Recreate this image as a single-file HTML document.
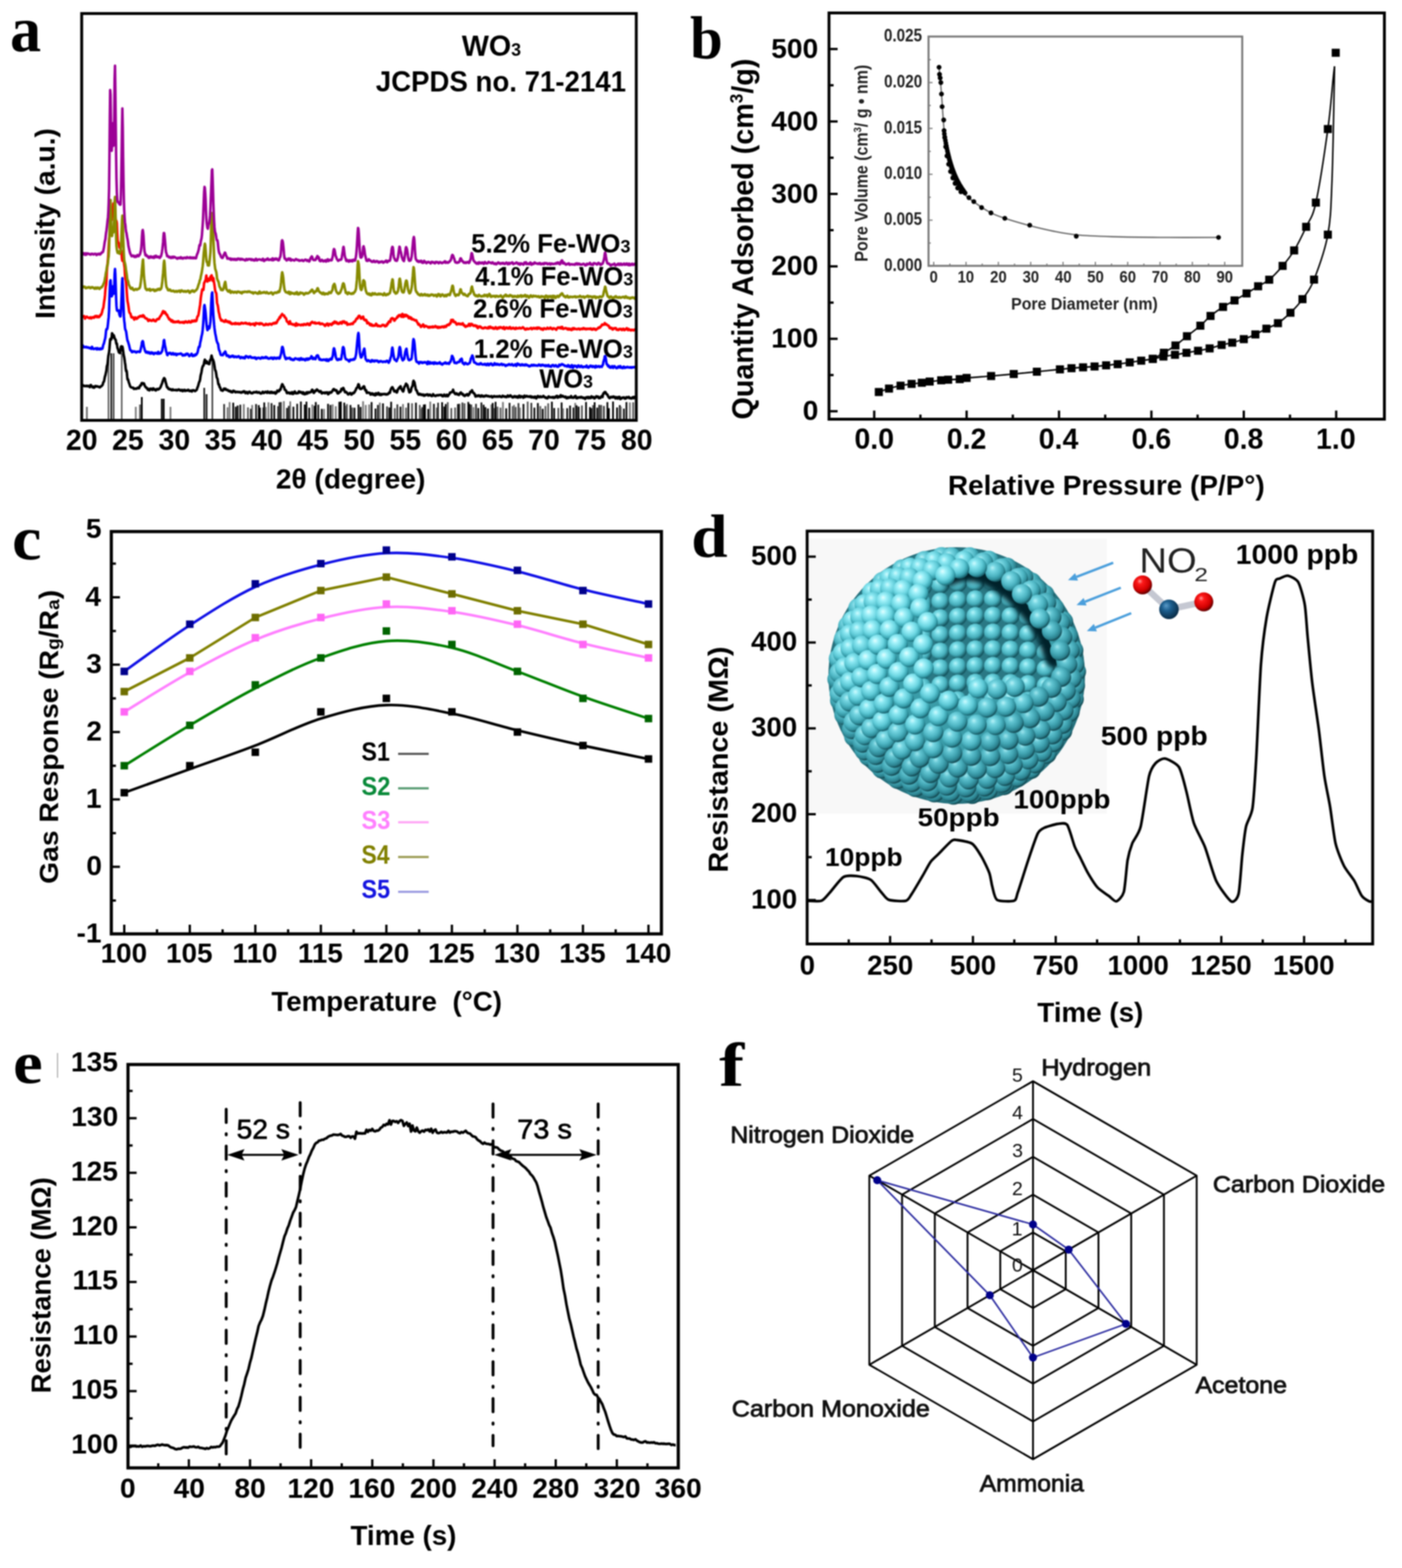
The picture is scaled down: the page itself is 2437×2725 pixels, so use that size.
<!DOCTYPE html><html><head><meta charset="utf-8"><title>Figure</title><style>html,body{margin:0;padding:0;background:#fff;overflow:hidden;}svg{display:block;filter:blur(1px);}</style></head><body><svg width="2437" height="2725" viewBox="0 0 2437 2725"><defs><radialGradient id="ball0" cx="0.4" cy="0.36" r="0.62" fx="0.36" fy="0.3"><stop offset="0" stop-color="#9fe6ee"/><stop offset="0.25" stop-color="#62c5d2"/><stop offset="0.62" stop-color="#3fa2b0"/><stop offset="0.88" stop-color="#2a7f8c"/><stop offset="1" stop-color="#164f58"/></radialGradient><radialGradient id="ball1" cx="0.4" cy="0.36" r="0.62" fx="0.36" fy="0.3"><stop offset="0" stop-color="#b8f3f8"/><stop offset="0.25" stop-color="#76d6e2"/><stop offset="0.62" stop-color="#4db5c3"/><stop offset="0.88" stop-color="#2f8d9a"/><stop offset="1" stop-color="#195a64"/></radialGradient><radialGradient id="ball2" cx="0.4" cy="0.36" r="0.62" fx="0.36" fy="0.3"><stop offset="0" stop-color="#cffcff"/><stop offset="0.25" stop-color="#8ce8f2"/><stop offset="0.62" stop-color="#5cc8d5"/><stop offset="0.88" stop-color="#3399a6"/><stop offset="1" stop-color="#1c6874"/></radialGradient><radialGradient id="ball3" cx="0.4" cy="0.36" r="0.62" fx="0.36" fy="0.3"><stop offset="0" stop-color="#e4ffff"/><stop offset="0.25" stop-color="#a2f2fa"/><stop offset="0.62" stop-color="#6ad5e1"/><stop offset="0.88" stop-color="#3aa5b2"/><stop offset="1" stop-color="#207480"/></radialGradient><radialGradient id="ballin" cx="0.4" cy="0.36" r="0.62" fx="0.36" fy="0.3"><stop offset="0" stop-color="#b6f6fb"/><stop offset="0.3" stop-color="#72d8e3"/><stop offset="0.7" stop-color="#45adba"/><stop offset="1" stop-color="#155660"/></radialGradient><radialGradient id="sph" cx="0.5" cy="0.5" r="0.5"><stop offset="0.8" stop-color="#3a9ca8"/><stop offset="1" stop-color="#25707c"/></radialGradient><filter id="blur4" x="-20%" y="-20%" width="140%" height="140%"><feGaussianBlur stdDeviation="4"/></filter><clipPath id="hole"><polygon points="1604.0,1030.0 1630.0,995.0 1672.0,984.0 1705.0,988.0 1740.0,1006.0 1772.0,1034.0 1798.0,1066.0 1818.0,1100.0 1834.0,1140.0 1842.0,1180.0 1840.0,1214.0 1604.0,1214.0"/></clipPath><clipPath id="sphclip"><circle cx="1663.0" cy="1174.0" r="226.0"/></clipPath><radialGradient id="ored" cx="0.42" cy="0.38" r="0.6" fx="0.35" fy="0.3"><stop offset="0" stop-color="#ff9a9a"/><stop offset="0.25" stop-color="#ff1a1a"/><stop offset="0.75" stop-color="#d00000"/><stop offset="1" stop-color="#6a0000"/></radialGradient><radialGradient id="nblue" cx="0.42" cy="0.38" r="0.6" fx="0.35" fy="0.3"><stop offset="0" stop-color="#5a9ac8"/><stop offset="0.4" stop-color="#1d5f8f"/><stop offset="1" stop-color="#0a2e4a"/></radialGradient></defs><rect width="2437" height="2725" fill="#fff"/><text x="17.4" y="89.0" font-family='"Liberation Serif", "Times New Roman", serif' font-weight="bold" font-size="112.0" fill="#000" textLength="54.0" lengthAdjust="spacingAndGlyphs" >a</text>
<line x1="151.0" y1="729" x2="151.0" y2="707.0" stroke="#666" stroke-width="3"/>
<line x1="188.6" y1="729" x2="188.6" y2="614.0" stroke="#555" stroke-width="2.6"/>
<line x1="193.4" y1="729" x2="193.4" y2="614.0" stroke="#000" stroke-width="2.6"/>
<line x1="197.5" y1="729" x2="197.5" y2="614.0" stroke="#333" stroke-width="2.6"/>
<line x1="211.6" y1="729" x2="211.6" y2="614.0" stroke="#555" stroke-width="2.6"/>
<line x1="236.0" y1="729" x2="236.0" y2="707.0" stroke="#777" stroke-width="3"/>
<line x1="243.3" y1="729" x2="243.3" y2="703.0" stroke="#555" stroke-width="3"/>
<line x1="246.5" y1="729" x2="246.5" y2="690.0" stroke="#000" stroke-width="3"/>
<line x1="281.2" y1="729" x2="281.2" y2="693.0" stroke="#000" stroke-width="3"/>
<line x1="284.6" y1="729" x2="284.6" y2="693.0" stroke="#000" stroke-width="3"/>
<line x1="296.3" y1="729" x2="296.3" y2="707.0" stroke="#777" stroke-width="3"/>
<line x1="355.0" y1="729" x2="355.0" y2="674.0" stroke="#000" stroke-width="2.6"/>
<line x1="359.0" y1="729" x2="359.0" y2="685.0" stroke="#111" stroke-width="3"/>
<line x1="369.1" y1="729" x2="369.1" y2="619.0" stroke="#333" stroke-width="2.6"/>
<line x1="389.6" y1="729" x2="389.6" y2="702.2" stroke="#333" stroke-width="3"/>
<line x1="395.6" y1="729" x2="395.6" y2="707.8" stroke="#777" stroke-width="3"/>
<line x1="399.1" y1="729" x2="399.1" y2="698.8" stroke="#777" stroke-width="3"/>
<line x1="405.4" y1="729" x2="405.4" y2="699.8" stroke="#000" stroke-width="3"/>
<line x1="409.8" y1="729" x2="409.8" y2="706.8" stroke="#000" stroke-width="3"/>
<line x1="413.1" y1="729" x2="413.1" y2="704.8" stroke="#000" stroke-width="3"/>
<line x1="417.7" y1="729" x2="417.7" y2="703.3" stroke="#111" stroke-width="3"/>
<line x1="423.8" y1="729" x2="423.8" y2="702.3" stroke="#777" stroke-width="3"/>
<line x1="431.0" y1="729" x2="431.0" y2="708.0" stroke="#555" stroke-width="3"/>
<line x1="436.2" y1="729" x2="436.2" y2="710.4" stroke="#000" stroke-width="3"/>
<line x1="438.3" y1="729" x2="438.3" y2="703.8" stroke="#777" stroke-width="3"/>
<line x1="445.1" y1="729" x2="445.1" y2="702.2" stroke="#111" stroke-width="3"/>
<line x1="449.8" y1="729" x2="449.8" y2="704.0" stroke="#000" stroke-width="3"/>
<line x1="451.8" y1="729" x2="451.8" y2="708.3" stroke="#000" stroke-width="3"/>
<line x1="457.4" y1="729" x2="457.4" y2="708.2" stroke="#555" stroke-width="3"/>
<line x1="459.3" y1="729" x2="459.3" y2="699.4" stroke="#000" stroke-width="3"/>
<line x1="462.0" y1="729" x2="462.0" y2="707.3" stroke="#777" stroke-width="3"/>
<line x1="466.7" y1="729" x2="466.7" y2="699.1" stroke="#777" stroke-width="3"/>
<line x1="472.0" y1="729" x2="472.0" y2="700.6" stroke="#111" stroke-width="3"/>
<line x1="476.8" y1="729" x2="476.8" y2="703.9" stroke="#000" stroke-width="3"/>
<line x1="483.4" y1="729" x2="483.4" y2="705.9" stroke="#333" stroke-width="3"/>
<line x1="485.6" y1="729" x2="485.6" y2="699.1" stroke="#333" stroke-width="3"/>
<line x1="488.3" y1="729" x2="488.3" y2="698.7" stroke="#333" stroke-width="3"/>
<line x1="493.4" y1="729" x2="493.4" y2="697.2" stroke="#777" stroke-width="3"/>
<line x1="498.9" y1="729" x2="498.9" y2="708.9" stroke="#111" stroke-width="3"/>
<line x1="502.1" y1="729" x2="502.1" y2="705.4" stroke="#111" stroke-width="3"/>
<line x1="504.5" y1="729" x2="504.5" y2="697.5" stroke="#777" stroke-width="3"/>
<line x1="510.0" y1="729" x2="510.0" y2="706.8" stroke="#000" stroke-width="3"/>
<line x1="516.6" y1="729" x2="516.6" y2="701.7" stroke="#111" stroke-width="3"/>
<line x1="523.0" y1="729" x2="523.0" y2="697.8" stroke="#000" stroke-width="3"/>
<line x1="529.7" y1="729" x2="529.7" y2="703.0" stroke="#000" stroke-width="3"/>
<line x1="532.7" y1="729" x2="532.7" y2="698.0" stroke="#000" stroke-width="3"/>
<line x1="537.5" y1="729" x2="537.5" y2="708.5" stroke="#000" stroke-width="3"/>
<line x1="542.9" y1="729" x2="542.9" y2="703.0" stroke="#777" stroke-width="3"/>
<line x1="546.8" y1="729" x2="546.8" y2="705.2" stroke="#000" stroke-width="3"/>
<line x1="548.9" y1="729" x2="548.9" y2="698.7" stroke="#000" stroke-width="3"/>
<line x1="553.3" y1="729" x2="553.3" y2="703.3" stroke="#111" stroke-width="3"/>
<line x1="559.3" y1="729" x2="559.3" y2="710.6" stroke="#000" stroke-width="3"/>
<line x1="563.2" y1="729" x2="563.2" y2="710.6" stroke="#777" stroke-width="3"/>
<line x1="570.2" y1="729" x2="570.2" y2="701.8" stroke="#000" stroke-width="3"/>
<line x1="574.4" y1="729" x2="574.4" y2="703.7" stroke="#111" stroke-width="3"/>
<line x1="578.2" y1="729" x2="578.2" y2="702.7" stroke="#777" stroke-width="3"/>
<line x1="583.7" y1="729" x2="583.7" y2="706.0" stroke="#777" stroke-width="3"/>
<line x1="589.7" y1="729" x2="589.7" y2="698.3" stroke="#111" stroke-width="3"/>
<line x1="592.5" y1="729" x2="592.5" y2="697.9" stroke="#000" stroke-width="3"/>
<line x1="598.4" y1="729" x2="598.4" y2="699.7" stroke="#000" stroke-width="3"/>
<line x1="601.0" y1="729" x2="601.0" y2="705.1" stroke="#555" stroke-width="3"/>
<line x1="603.0" y1="729" x2="603.0" y2="702.2" stroke="#555" stroke-width="3"/>
<line x1="609.2" y1="729" x2="609.2" y2="703.8" stroke="#000" stroke-width="3"/>
<line x1="612.3" y1="729" x2="612.3" y2="708.2" stroke="#555" stroke-width="3"/>
<line x1="616.2" y1="729" x2="616.2" y2="708.5" stroke="#000" stroke-width="3"/>
<line x1="623.1" y1="729" x2="623.1" y2="703.0" stroke="#000" stroke-width="3"/>
<line x1="626.8" y1="729" x2="626.8" y2="707.2" stroke="#000" stroke-width="3"/>
<line x1="631.1" y1="729" x2="631.1" y2="697.3" stroke="#777" stroke-width="3"/>
<line x1="635.8" y1="729" x2="635.8" y2="703.7" stroke="#777" stroke-width="3"/>
<line x1="641.7" y1="729" x2="641.7" y2="702.9" stroke="#777" stroke-width="3"/>
<line x1="645.9" y1="729" x2="645.9" y2="698.7" stroke="#000" stroke-width="3"/>
<line x1="652.7" y1="729" x2="652.7" y2="710.0" stroke="#000" stroke-width="3"/>
<line x1="656.9" y1="729" x2="656.9" y2="703.7" stroke="#111" stroke-width="3"/>
<line x1="660.2" y1="729" x2="660.2" y2="699.7" stroke="#777" stroke-width="3"/>
<line x1="665.7" y1="729" x2="665.7" y2="701.0" stroke="#000" stroke-width="3"/>
<line x1="672.8" y1="729" x2="672.8" y2="706.3" stroke="#333" stroke-width="3"/>
<line x1="676.8" y1="729" x2="676.8" y2="708.2" stroke="#000" stroke-width="3"/>
<line x1="679.9" y1="729" x2="679.9" y2="698.2" stroke="#000" stroke-width="3"/>
<line x1="686.2" y1="729" x2="686.2" y2="709.4" stroke="#555" stroke-width="3"/>
<line x1="690.7" y1="729" x2="690.7" y2="702.7" stroke="#333" stroke-width="3"/>
<line x1="696.1" y1="729" x2="696.1" y2="706.7" stroke="#000" stroke-width="3"/>
<line x1="700.5" y1="729" x2="700.5" y2="702.2" stroke="#777" stroke-width="3"/>
<line x1="705.8" y1="729" x2="705.8" y2="708.4" stroke="#555" stroke-width="3"/>
<line x1="709.9" y1="729" x2="709.9" y2="700.3" stroke="#000" stroke-width="3"/>
<line x1="716.2" y1="729" x2="716.2" y2="700.8" stroke="#555" stroke-width="3"/>
<line x1="723.0" y1="729" x2="723.0" y2="699.8" stroke="#000" stroke-width="3"/>
<line x1="729.6" y1="729" x2="729.6" y2="703.7" stroke="#555" stroke-width="3"/>
<line x1="731.7" y1="729" x2="731.7" y2="710.6" stroke="#777" stroke-width="3"/>
<line x1="733.8" y1="729" x2="733.8" y2="707.5" stroke="#333" stroke-width="3"/>
<line x1="736.7" y1="729" x2="736.7" y2="703.1" stroke="#000" stroke-width="3"/>
<line x1="738.8" y1="729" x2="738.8" y2="702.7" stroke="#000" stroke-width="3"/>
<line x1="744.4" y1="729" x2="744.4" y2="710.7" stroke="#000" stroke-width="3"/>
<line x1="747.9" y1="729" x2="747.9" y2="697.9" stroke="#777" stroke-width="3"/>
<line x1="754.2" y1="729" x2="754.2" y2="701.8" stroke="#111" stroke-width="3"/>
<line x1="759.3" y1="729" x2="759.3" y2="708.3" stroke="#555" stroke-width="3"/>
<line x1="761.5" y1="729" x2="761.5" y2="699.8" stroke="#333" stroke-width="3"/>
<line x1="768.5" y1="729" x2="768.5" y2="699.0" stroke="#000" stroke-width="3"/>
<line x1="772.2" y1="729" x2="772.2" y2="706.5" stroke="#000" stroke-width="3"/>
<line x1="774.8" y1="729" x2="774.8" y2="702.2" stroke="#000" stroke-width="3"/>
<line x1="778.3" y1="729" x2="778.3" y2="698.9" stroke="#555" stroke-width="3"/>
<line x1="784.5" y1="729" x2="784.5" y2="709.2" stroke="#555" stroke-width="3"/>
<line x1="791.1" y1="729" x2="791.1" y2="708.2" stroke="#555" stroke-width="3"/>
<line x1="796.1" y1="729" x2="796.1" y2="702.1" stroke="#000" stroke-width="3"/>
<line x1="798.5" y1="729" x2="798.5" y2="701.7" stroke="#333" stroke-width="3"/>
<line x1="803.8" y1="729" x2="803.8" y2="699.5" stroke="#333" stroke-width="3"/>
<line x1="807.5" y1="729" x2="807.5" y2="700.9" stroke="#555" stroke-width="3"/>
<line x1="814.0" y1="729" x2="814.0" y2="698.5" stroke="#000" stroke-width="3"/>
<line x1="816.1" y1="729" x2="816.1" y2="701.9" stroke="#000" stroke-width="3"/>
<line x1="819.1" y1="729" x2="819.1" y2="703.1" stroke="#333" stroke-width="3"/>
<line x1="823.1" y1="729" x2="823.1" y2="707.5" stroke="#777" stroke-width="3"/>
<line x1="827.4" y1="729" x2="827.4" y2="701.8" stroke="#333" stroke-width="3"/>
<line x1="831.4" y1="729" x2="831.4" y2="709.1" stroke="#000" stroke-width="3"/>
<line x1="836.8" y1="729" x2="836.8" y2="699.4" stroke="#111" stroke-width="3"/>
<line x1="840.7" y1="729" x2="840.7" y2="703.4" stroke="#000" stroke-width="3"/>
<line x1="843.8" y1="729" x2="843.8" y2="707.5" stroke="#000" stroke-width="3"/>
<line x1="848.1" y1="729" x2="848.1" y2="709.9" stroke="#000" stroke-width="3"/>
<line x1="854.1" y1="729" x2="854.1" y2="702.9" stroke="#777" stroke-width="3"/>
<line x1="856.4" y1="729" x2="856.4" y2="700.3" stroke="#000" stroke-width="3"/>
<line x1="859.0" y1="729" x2="859.0" y2="709.1" stroke="#555" stroke-width="3"/>
<line x1="861.4" y1="729" x2="861.4" y2="698.3" stroke="#000" stroke-width="3"/>
<line x1="864.8" y1="729" x2="864.8" y2="706.7" stroke="#555" stroke-width="3"/>
<line x1="870.0" y1="729" x2="870.0" y2="708.4" stroke="#555" stroke-width="3"/>
<line x1="874.2" y1="729" x2="874.2" y2="698.6" stroke="#777" stroke-width="3"/>
<line x1="879.9" y1="729" x2="879.9" y2="709.6" stroke="#000" stroke-width="3"/>
<line x1="885.7" y1="729" x2="885.7" y2="700.1" stroke="#111" stroke-width="3"/>
<line x1="891.2" y1="729" x2="891.2" y2="705.8" stroke="#555" stroke-width="3"/>
<line x1="893.5" y1="729" x2="893.5" y2="703.7" stroke="#777" stroke-width="3"/>
<line x1="896.4" y1="729" x2="896.4" y2="707.3" stroke="#555" stroke-width="3"/>
<line x1="901.2" y1="729" x2="901.2" y2="700.5" stroke="#333" stroke-width="3"/>
<line x1="903.8" y1="729" x2="903.8" y2="708.4" stroke="#777" stroke-width="3"/>
<line x1="909.9" y1="729" x2="909.9" y2="702.0" stroke="#000" stroke-width="3"/>
<line x1="917.2" y1="729" x2="917.2" y2="697.9" stroke="#555" stroke-width="3"/>
<line x1="923.6" y1="729" x2="923.6" y2="700.1" stroke="#333" stroke-width="3"/>
<line x1="928.9" y1="729" x2="928.9" y2="708.4" stroke="#000" stroke-width="3"/>
<line x1="934.9" y1="729" x2="934.9" y2="700.4" stroke="#000" stroke-width="3"/>
<line x1="939.1" y1="729" x2="939.1" y2="705.7" stroke="#555" stroke-width="3"/>
<line x1="943.3" y1="729" x2="943.3" y2="710.5" stroke="#000" stroke-width="3"/>
<line x1="948.1" y1="729" x2="948.1" y2="705.6" stroke="#555" stroke-width="3"/>
<line x1="952.9" y1="729" x2="952.9" y2="700.9" stroke="#555" stroke-width="3"/>
<line x1="959.3" y1="729" x2="959.3" y2="698.1" stroke="#000" stroke-width="3"/>
<line x1="963.3" y1="729" x2="963.3" y2="709.1" stroke="#000" stroke-width="3"/>
<line x1="970.5" y1="729" x2="970.5" y2="708.9" stroke="#555" stroke-width="3"/>
<line x1="976.2" y1="729" x2="976.2" y2="699.4" stroke="#000" stroke-width="3"/>
<line x1="978.8" y1="729" x2="978.8" y2="709.7" stroke="#777" stroke-width="3"/>
<line x1="985.9" y1="729" x2="985.9" y2="709.4" stroke="#000" stroke-width="3"/>
<line x1="990.9" y1="729" x2="990.9" y2="704.8" stroke="#000" stroke-width="3"/>
<line x1="996.8" y1="729" x2="996.8" y2="708.3" stroke="#111" stroke-width="3"/>
<line x1="999.9" y1="729" x2="999.9" y2="700.2" stroke="#777" stroke-width="3"/>
<line x1="1002.2" y1="729" x2="1002.2" y2="704.4" stroke="#000" stroke-width="3"/>
<line x1="1005.8" y1="729" x2="1005.8" y2="706.6" stroke="#000" stroke-width="3"/>
<line x1="1011.5" y1="729" x2="1011.5" y2="704.6" stroke="#555" stroke-width="3"/>
<line x1="1018.7" y1="729" x2="1018.7" y2="698.6" stroke="#000" stroke-width="3"/>
<line x1="1025.5" y1="729" x2="1025.5" y2="707.5" stroke="#000" stroke-width="3"/>
<line x1="1028.7" y1="729" x2="1028.7" y2="709.3" stroke="#000" stroke-width="3"/>
<line x1="1030.8" y1="729" x2="1030.8" y2="704.0" stroke="#555" stroke-width="3"/>
<line x1="1033.6" y1="729" x2="1033.6" y2="699.0" stroke="#000" stroke-width="3"/>
<line x1="1038.1" y1="729" x2="1038.1" y2="708.4" stroke="#000" stroke-width="3"/>
<line x1="1041.5" y1="729" x2="1041.5" y2="703.6" stroke="#333" stroke-width="3"/>
<line x1="1044.9" y1="729" x2="1044.9" y2="703.8" stroke="#333" stroke-width="3"/>
<line x1="1049.7" y1="729" x2="1049.7" y2="705.5" stroke="#333" stroke-width="3"/>
<line x1="1055.8" y1="729" x2="1055.8" y2="698.8" stroke="#000" stroke-width="3"/>
<line x1="1058.4" y1="729" x2="1058.4" y2="709.4" stroke="#000" stroke-width="3"/>
<line x1="1065.6" y1="729" x2="1065.6" y2="697.8" stroke="#000" stroke-width="3"/>
<line x1="1072.6" y1="729" x2="1072.6" y2="708.1" stroke="#000" stroke-width="3"/>
<line x1="1077.3" y1="729" x2="1077.3" y2="704.0" stroke="#111" stroke-width="3"/>
<line x1="1079.4" y1="729" x2="1079.4" y2="706.6" stroke="#777" stroke-width="3"/>
<line x1="1084.5" y1="729" x2="1084.5" y2="710.1" stroke="#111" stroke-width="3"/>
<line x1="1088.9" y1="729" x2="1088.9" y2="698.7" stroke="#000" stroke-width="3"/>
<line x1="1094.9" y1="729" x2="1094.9" y2="699.4" stroke="#777" stroke-width="3"/>
<line x1="1100.6" y1="729" x2="1100.6" y2="699.1" stroke="#555" stroke-width="3"/>
<path d="M142.0,669.4 L142.6,670.3 L143.3,669.8 L143.9,669.4 L144.6,670.4 L145.2,670.6 L145.9,670.3 L146.5,670.8 L147.1,671.1 L147.8,671.0 L148.4,671.0 L149.1,670.9 L149.7,670.4 L150.4,670.4 L151.0,670.8 L151.6,671.4 L152.3,671.3 L152.9,670.7 L153.6,670.5 L154.2,670.9 L154.9,671.2 L155.5,671.8 L156.1,672.8 L156.8,671.8 L157.4,669.2 L158.1,669.2 L158.7,670.7 L159.4,671.5 L160.0,671.9 L160.6,672.9 L161.3,673.2 L161.9,671.8 L162.6,672.1 L163.2,673.7 L163.9,673.6 L164.5,672.7 L165.1,671.4 L165.8,670.8 L166.4,671.7 L167.1,671.9 L167.7,671.1 L168.4,671.3 L169.0,671.6 L169.6,671.5 L170.3,671.9 L170.9,672.4 L171.6,672.2 L172.2,672.2 L172.9,672.9 L173.5,673.2 L174.1,672.3 L174.8,671.6 L175.4,671.7 L176.1,671.4 L176.7,670.7 L177.4,669.8 L178.0,669.4 L178.7,667.8 L179.3,665.3 L179.9,664.1 L180.6,663.1 L181.2,660.7 L181.9,656.8 L182.5,653.9 L183.2,652.1 L183.8,649.3 L184.4,646.8 L185.1,642.6 L185.7,636.7 L186.4,634.4 L187.0,632.1 L187.7,624.8 L188.3,618.6 L188.9,615.7 L189.6,611.9 L190.2,606.2 L190.9,597.5 L191.5,590.3 L192.2,588.8 L192.8,589.3 L193.4,589.9 L194.1,586.0 L194.7,579.2 L195.4,580.1 L196.0,586.2 L196.7,586.3 L197.3,582.5 L197.9,583.0 L198.6,585.6 L199.2,587.7 L199.9,589.4 L200.5,589.9 L201.2,590.8 L201.8,595.3 L202.4,597.8 L203.1,597.0 L203.7,601.6 L204.4,605.5 L205.0,606.3 L205.7,609.0 L206.3,611.3 L206.9,612.8 L207.6,612.8 L208.2,613.4 L208.9,613.6 L209.5,609.1 L210.2,602.4 L210.8,601.9 L211.4,606.1 L212.1,604.4 L212.7,602.3 L213.4,605.2 L214.0,609.7 L214.7,614.6 L215.3,618.2 L215.9,621.0 L216.6,625.3 L217.2,630.0 L217.9,634.3 L218.5,640.9 L219.2,645.0 L219.8,643.9 L220.4,646.3 L221.1,654.5 L221.7,659.6 L222.4,659.1 L223.0,660.5 L223.7,663.9 L224.3,665.6 L224.9,667.2 L225.6,669.4 L226.2,671.2 L226.9,672.1 L227.5,672.9 L228.2,673.2 L228.8,673.2 L229.4,673.5 L230.1,673.8 L230.7,674.1 L231.4,673.7 L232.0,674.4 L232.7,675.9 L233.3,675.7 L233.9,675.4 L234.6,675.5 L235.2,675.1 L235.9,675.2 L236.5,675.7 L237.2,675.2 L237.8,674.8 L238.4,675.2 L239.1,674.6 L239.7,673.6 L240.4,673.5 L241.0,674.5 L241.7,674.8 L242.3,673.3 L243.0,671.5 L243.6,670.0 L244.2,670.1 L244.9,670.1 L245.5,667.9 L246.2,666.0 L246.8,665.7 L247.5,665.8 L248.1,666.5 L248.7,667.2 L249.4,666.5 L250.0,666.2 L250.7,667.7 L251.3,669.5 L252.0,671.0 L252.6,672.3 L253.2,672.6 L253.9,673.0 L254.5,674.4 L255.2,674.5 L255.8,674.5 L256.5,676.3 L257.1,677.4 L257.7,677.0 L258.4,676.1 L259.0,676.7 L259.7,678.5 L260.3,677.7 L261.0,675.6 L261.6,675.4 L262.2,675.7 L262.9,675.4 L263.5,675.9 L264.2,676.8 L264.8,677.7 L265.5,676.8 L266.1,675.0 L266.7,675.0 L267.4,675.9 L268.0,677.0 L268.7,677.5 L269.3,676.8 L270.0,676.8 L270.6,678.5 L271.2,678.5 L271.9,676.8 L272.5,676.2 L273.2,676.2 L273.8,675.8 L274.5,676.2 L275.1,676.9 L275.7,676.1 L276.4,675.6 L277.0,675.7 L277.7,674.8 L278.3,673.9 L279.0,673.1 L279.6,671.7 L280.2,669.8 L280.9,668.3 L281.5,666.7 L282.2,664.6 L282.8,662.4 L283.5,660.7 L284.1,659.3 L284.7,657.8 L285.4,657.1 L286.0,657.6 L286.7,658.8 L287.3,661.4 L288.0,664.5 L288.6,666.3 L289.2,668.6 L289.9,671.7 L290.5,673.3 L291.2,673.2 L291.8,673.4 L292.5,675.4 L293.1,676.1 L293.7,675.9 L294.4,676.6 L295.0,676.4 L295.7,676.1 L296.3,676.9 L297.0,677.4 L297.6,677.0 L298.2,677.1 L298.9,678.2 L299.5,677.3 L300.2,676.6 L300.8,677.6 L301.5,678.0 L302.1,677.9 L302.7,677.8 L303.4,677.9 L304.0,677.9 L304.7,677.8 L305.3,678.2 L306.0,677.7 L306.6,677.4 L307.3,678.1 L307.9,678.5 L308.5,677.9 L309.2,677.8 L309.8,677.8 L310.5,676.8 L311.1,676.9 L311.8,677.5 L312.4,677.4 L313.0,677.9 L313.7,678.8 L314.3,678.8 L315.0,677.9 L315.6,677.8 L316.3,677.6 L316.9,678.0 L317.5,679.7 L318.2,679.0 L318.8,678.1 L319.5,679.0 L320.1,678.3 L320.8,677.5 L321.4,678.8 L322.0,679.4 L322.7,678.6 L323.3,678.5 L324.0,678.7 L324.6,678.4 L325.3,678.9 L325.9,678.9 L326.5,677.9 L327.2,677.4 L327.8,677.8 L328.5,678.5 L329.1,679.4 L329.8,679.7 L330.4,679.6 L331.0,679.4 L331.7,678.9 L332.3,678.7 L333.0,679.8 L333.6,680.4 L334.3,679.2 L334.9,678.3 L335.5,678.4 L336.2,678.3 L336.8,678.3 L337.5,678.6 L338.1,679.2 L338.8,679.7 L339.4,679.2 L340.0,678.9 L340.7,678.6 L341.3,678.0 L342.0,677.3 L342.6,675.3 L343.3,673.2 L343.9,672.1 L344.5,670.2 L345.2,667.7 L345.8,665.3 L346.5,663.4 L347.1,662.6 L347.8,659.6 L348.4,654.9 L349.0,651.5 L349.7,649.2 L350.3,646.1 L351.0,641.9 L351.6,638.9 L352.3,637.0 L352.9,635.5 L353.5,635.5 L354.2,633.9 L354.8,630.3 L355.5,626.9 L356.1,625.0 L356.8,626.7 L357.4,628.6 L358.0,631.1 L358.7,631.1 L359.3,628.0 L360.0,628.9 L360.6,631.2 L361.3,631.7 L361.9,630.6 L362.5,630.7 L363.2,632.7 L363.8,632.7 L364.5,629.7 L365.1,625.9 L365.8,625.0 L366.4,625.5 L367.0,621.4 L367.7,618.0 L368.3,620.8 L369.0,623.5 L369.6,624.0 L370.3,625.2 L370.9,627.0 L371.6,628.9 L372.2,632.3 L372.8,636.1 L373.5,640.6 L374.1,643.6 L374.8,644.3 L375.4,646.9 L376.1,651.3 L376.7,655.5 L377.3,656.9 L378.0,657.9 L378.6,661.7 L379.3,666.4 L379.9,668.3 L380.6,667.9 L381.2,670.2 L381.8,673.1 L382.5,673.1 L383.1,674.2 L383.8,677.0 L384.4,678.1 L385.1,677.9 L385.7,678.2 L386.3,678.9 L387.0,679.1 L387.6,678.5 L388.3,677.5 L388.9,676.1 L389.6,675.4 L390.2,676.0 L390.8,676.7 L391.5,676.1 L392.1,675.6 L392.8,676.8 L393.4,677.7 L394.1,677.5 L394.7,677.6 L395.3,677.6 L396.0,677.6 L396.6,679.0 L397.3,679.6 L397.9,679.7 L398.6,679.8 L399.2,679.3 L399.8,679.2 L400.5,680.6 L401.1,681.2 L401.8,680.3 L402.4,680.8 L403.1,681.7 L403.7,681.8 L404.3,681.4 L405.0,679.6 L405.6,679.0 L406.3,680.1 L406.9,680.1 L407.6,679.7 L408.2,680.3 L408.8,681.6 L409.5,681.7 L410.1,681.1 L410.8,681.4 L411.4,681.4 L412.1,681.0 L412.7,680.9 L413.3,681.1 L414.0,681.6 L414.6,681.4 L415.3,681.3 L415.9,681.5 L416.6,681.2 L417.2,681.3 L417.8,682.1 L418.5,682.3 L419.1,682.0 L419.8,682.4 L420.4,681.9 L421.1,680.9 L421.7,680.9 L422.3,681.5 L423.0,681.1 L423.6,680.1 L424.3,679.9 L424.9,680.2 L425.6,681.0 L426.2,682.5 L426.8,683.2 L427.5,682.7 L428.1,681.9 L428.8,681.3 L429.4,681.7 L430.1,683.0 L430.7,683.8 L431.3,682.9 L432.0,681.7 L432.6,681.3 L433.3,680.9 L433.9,680.7 L434.6,681.2 L435.2,682.3 L435.9,683.1 L436.5,682.8 L437.1,683.3 L437.8,683.5 L438.4,683.0 L439.1,683.2 L439.7,682.7 L440.4,681.7 L441.0,681.8 L441.6,681.7 L442.3,681.5 L442.9,681.6 L443.6,682.0 L444.2,681.8 L444.9,681.3 L445.5,680.9 L446.1,680.8 L446.8,681.7 L447.4,682.5 L448.1,682.3 L448.7,682.4 L449.4,682.2 L450.0,681.5 L450.6,681.7 L451.3,682.6 L451.9,683.0 L452.6,683.6 L453.2,684.0 L453.9,683.2 L454.5,683.2 L455.1,683.3 L455.8,682.1 L456.4,680.9 L457.1,680.9 L457.7,682.1 L458.4,683.0 L459.0,682.7 L459.6,682.2 L460.3,682.1 L460.9,681.6 L461.6,680.8 L462.2,681.5 L462.9,681.7 L463.5,681.9 L464.1,682.7 L464.8,681.5 L465.4,680.4 L466.1,681.3 L466.7,682.2 L467.4,682.2 L468.0,682.6 L468.6,683.0 L469.3,682.1 L469.9,681.1 L470.6,681.9 L471.2,682.7 L471.9,681.5 L472.5,681.0 L473.1,682.0 L473.8,682.8 L474.4,682.9 L475.1,682.4 L475.7,682.0 L476.4,682.7 L477.0,682.3 L477.6,681.7 L478.3,683.5 L478.9,684.1 L479.6,682.3 L480.2,682.2 L480.9,682.4 L481.5,680.3 L482.1,678.9 L482.8,679.3 L483.4,679.8 L484.1,680.0 L484.7,680.2 L485.4,678.9 L486.0,677.2 L486.6,677.4 L487.3,677.6 L487.9,675.9 L488.6,673.2 L489.2,671.0 L489.9,669.2 L490.5,667.7 L491.1,668.1 L491.8,669.6 L492.4,671.4 L493.1,672.1 L493.7,672.6 L494.4,675.3 L495.0,677.4 L495.6,677.4 L496.3,677.9 L496.9,678.6 L497.6,679.6 L498.2,681.9 L498.9,683.3 L499.5,683.1 L500.2,682.5 L500.8,682.4 L501.4,682.2 L502.1,682.3 L502.7,683.3 L503.4,684.0 L504.0,683.5 L504.7,682.6 L505.3,682.5 L505.9,683.3 L506.6,684.1 L507.2,682.9 L507.9,681.6 L508.5,683.1 L509.2,684.7 L509.8,684.5 L510.4,683.9 L511.1,682.6 L511.7,680.8 L512.4,680.4 L513.0,681.3 L513.7,682.6 L514.3,683.5 L514.9,683.6 L515.6,683.4 L516.2,683.6 L516.9,683.0 L517.5,682.8 L518.2,683.2 L518.8,681.7 L519.4,680.3 L520.1,681.4 L520.7,681.7 L521.4,680.8 L522.0,681.6 L522.7,682.3 L523.3,681.5 L523.9,681.4 L524.6,682.1 L525.2,683.1 L525.9,684.1 L526.5,683.4 L527.2,681.9 L527.8,682.3 L528.4,684.2 L529.1,685.1 L529.7,684.4 L530.4,684.3 L531.0,684.8 L531.7,683.8 L532.3,682.4 L532.9,681.8 L533.6,683.0 L534.2,684.0 L534.9,682.7 L535.5,681.7 L536.2,681.5 L536.8,682.1 L537.4,682.5 L538.1,681.9 L538.7,681.7 L539.4,681.4 L540.0,681.1 L540.7,681.2 L541.3,680.0 L541.9,678.2 L542.6,677.3 L543.2,677.7 L543.9,678.8 L544.5,680.4 L545.2,682.7 L545.8,682.7 L546.4,680.7 L547.1,680.6 L547.7,680.6 L548.4,678.7 L549.0,678.5 L549.7,679.0 L550.3,677.6 L550.9,676.8 L551.6,677.4 L552.2,678.2 L552.9,678.6 L553.5,679.2 L554.2,679.9 L554.8,680.7 L555.4,681.3 L556.1,680.6 L556.7,679.7 L557.4,679.7 L558.0,680.5 L558.7,682.3 L559.3,683.8 L559.9,683.6 L560.6,682.6 L561.2,682.3 L561.9,682.6 L562.5,682.9 L563.2,682.5 L563.8,682.2 L564.5,683.2 L565.1,683.5 L565.7,682.4 L566.4,681.9 L567.0,682.1 L567.7,682.8 L568.3,682.5 L569.0,681.9 L569.6,683.7 L570.2,685.2 L570.9,684.9 L571.5,684.5 L572.2,683.1 L572.8,681.9 L573.5,682.6 L574.1,682.3 L574.7,681.6 L575.4,682.4 L576.0,682.0 L576.7,680.9 L577.3,680.2 L578.0,679.0 L578.6,678.0 L579.2,677.0 L579.9,676.2 L580.5,676.2 L581.2,677.3 L581.8,678.3 L582.5,678.4 L583.1,677.9 L583.7,678.7 L584.4,679.4 L585.0,678.4 L585.7,680.0 L586.3,682.7 L587.0,683.7 L587.6,683.7 L588.2,683.4 L588.9,683.1 L589.5,682.1 L590.2,680.8 L590.8,680.5 L591.5,680.8 L592.1,680.7 L592.7,678.7 L593.4,675.9 L594.0,675.7 L594.7,677.1 L595.3,677.2 L596.0,676.0 L596.6,674.2 L597.2,674.8 L597.9,677.2 L598.5,678.3 L599.2,680.2 L599.8,681.7 L600.5,681.0 L601.1,680.9 L601.7,681.3 L602.4,681.7 L603.0,682.7 L603.7,683.6 L604.3,684.4 L605.0,685.4 L605.6,685.5 L606.2,684.8 L606.9,684.4 L607.5,683.5 L608.2,682.9 L608.8,682.9 L609.5,683.5 L610.1,684.8 L610.7,685.7 L611.4,685.4 L612.0,684.6 L612.7,683.9 L613.3,683.0 L614.0,682.6 L614.6,683.4 L615.2,683.0 L615.9,682.0 L616.5,681.2 L617.2,679.7 L617.8,678.7 L618.5,677.6 L619.1,675.6 L619.7,674.3 L620.4,674.1 L621.0,673.5 L621.7,672.1 L622.3,669.6 L623.0,667.8 L623.6,668.2 L624.2,669.9 L624.9,673.1 L625.5,675.6 L626.2,675.8 L626.8,675.4 L627.5,676.0 L628.1,675.9 L628.8,674.9 L629.4,675.0 L630.0,674.6 L630.7,672.9 L631.3,672.2 L632.0,671.9 L632.6,671.3 L633.3,672.3 L633.9,674.9 L634.5,677.2 L635.2,678.5 L635.8,677.7 L636.5,678.4 L637.1,681.6 L637.8,682.9 L638.4,681.9 L639.0,681.8 L639.7,682.4 L640.3,682.5 L641.0,682.5 L641.6,682.5 L642.3,682.7 L642.9,682.8 L643.5,684.3 L644.2,685.8 L644.8,685.5 L645.5,685.2 L646.1,684.4 L646.8,683.5 L647.4,683.9 L648.0,685.3 L648.7,686.1 L649.3,685.9 L650.0,684.8 L650.6,684.6 L651.3,685.7 L651.9,687.0 L652.5,686.9 L653.2,685.0 L653.8,683.5 L654.5,684.0 L655.1,685.6 L655.8,685.5 L656.4,684.8 L657.0,684.0 L657.7,682.7 L658.3,683.4 L659.0,685.5 L659.6,686.1 L660.3,685.2 L660.9,684.9 L661.5,686.1 L662.2,686.5 L662.8,685.1 L663.5,684.7 L664.1,685.2 L664.8,685.5 L665.4,685.4 L666.0,684.9 L666.7,684.6 L667.3,684.7 L668.0,684.7 L668.6,684.9 L669.3,685.4 L669.9,685.4 L670.5,684.8 L671.2,685.0 L671.8,685.7 L672.5,685.1 L673.1,684.9 L673.8,685.3 L674.4,685.0 L675.0,684.3 L675.7,683.3 L676.3,682.2 L677.0,682.6 L677.6,682.8 L678.3,680.4 L678.9,677.6 L679.5,676.3 L680.2,674.9 L680.8,673.9 L681.5,673.1 L682.1,672.9 L682.8,674.4 L683.4,675.5 L684.0,676.7 L684.7,678.5 L685.3,680.3 L686.0,680.4 L686.6,679.5 L687.3,679.4 L687.9,679.3 L688.5,680.3 L689.2,681.9 L689.8,682.1 L690.5,680.8 L691.1,678.4 L691.8,676.6 L692.4,675.7 L693.1,675.4 L693.7,673.9 L694.3,673.2 L695.0,674.3 L695.6,672.4 L696.3,671.3 L696.9,673.6 L697.6,675.7 L698.2,676.4 L698.8,677.4 L699.5,679.0 L700.1,679.8 L700.8,680.5 L701.4,679.2 L702.1,675.6 L702.7,673.0 L703.3,671.9 L704.0,671.2 L704.6,670.0 L705.3,668.0 L705.9,666.7 L706.6,668.2 L707.2,669.3 L707.8,668.8 L708.5,670.8 L709.1,673.8 L709.8,675.5 L710.4,677.9 L711.1,680.8 L711.7,681.9 L712.3,680.8 L713.0,680.4 L713.6,680.9 L714.3,679.0 L714.9,675.6 L715.6,673.1 L716.2,672.2 L716.8,671.6 L717.5,668.6 L718.1,663.9 L718.8,661.7 L719.4,663.0 L720.1,663.7 L720.7,665.6 L721.3,669.3 L722.0,672.3 L722.6,676.0 L723.3,678.0 L723.9,678.1 L724.6,679.4 L725.2,680.9 L725.8,683.0 L726.5,684.2 L727.1,684.6 L727.8,685.8 L728.4,685.3 L729.1,684.4 L729.7,685.4 L730.3,685.8 L731.0,685.1 L731.6,684.9 L732.3,685.5 L732.9,686.6 L733.6,686.6 L734.2,686.4 L734.8,686.5 L735.5,685.6 L736.1,686.3 L736.8,687.7 L737.4,687.6 L738.1,687.6 L738.7,687.0 L739.3,686.0 L740.0,686.2 L740.6,686.5 L741.3,686.1 L741.9,685.6 L742.6,685.3 L743.2,685.4 L743.8,686.4 L744.5,687.4 L745.1,686.9 L745.8,686.1 L746.4,686.8 L747.1,686.6 L747.7,685.8 L748.3,686.8 L749.0,687.8 L749.6,687.9 L750.3,688.1 L750.9,688.3 L751.6,688.0 L752.2,686.5 L752.8,685.1 L753.5,685.8 L754.1,686.8 L754.8,687.1 L755.4,687.7 L756.1,688.0 L756.7,688.1 L757.4,688.2 L758.0,687.4 L758.6,687.3 L759.3,686.8 L759.9,686.6 L760.6,687.1 L761.2,687.2 L761.9,687.2 L762.5,686.6 L763.1,686.5 L763.8,686.5 L764.4,686.6 L765.1,686.4 L765.7,686.5 L766.4,686.8 L767.0,686.2 L767.6,686.4 L768.3,687.9 L768.9,688.6 L769.6,688.2 L770.2,688.6 L770.9,688.6 L771.5,686.9 L772.1,685.8 L772.8,686.5 L773.4,687.6 L774.1,688.2 L774.7,688.5 L775.4,688.2 L776.0,687.0 L776.6,686.0 L777.3,686.8 L777.9,688.6 L778.6,688.6 L779.2,687.3 L779.9,686.3 L780.5,685.6 L781.1,685.1 L781.8,683.6 L782.4,682.1 L783.1,682.2 L783.7,682.3 L784.4,681.8 L785.0,681.4 L785.6,680.9 L786.3,680.4 L786.9,679.1 L787.6,677.4 L788.2,679.3 L788.9,682.1 L789.5,682.1 L790.1,682.9 L790.8,684.3 L791.4,684.8 L792.1,685.1 L792.7,684.2 L793.4,683.5 L794.0,683.8 L794.6,684.4 L795.3,685.4 L795.9,685.8 L796.6,685.3 L797.2,685.5 L797.9,686.3 L798.5,685.1 L799.1,683.7 L799.8,683.3 L800.4,682.5 L801.1,682.0 L801.7,683.0 L802.4,684.3 L803.0,685.0 L803.6,685.1 L804.3,684.5 L804.9,685.4 L805.6,687.1 L806.2,687.1 L806.9,687.2 L807.5,688.2 L808.1,687.9 L808.8,686.5 L809.4,686.2 L810.1,686.7 L810.7,686.0 L811.4,685.3 L812.0,685.1 L812.6,684.9 L813.3,686.2 L813.9,687.4 L814.6,686.5 L815.2,685.4 L815.9,685.0 L816.5,683.5 L817.1,681.6 L817.8,680.7 L818.4,680.5 L819.1,681.0 L819.7,680.2 L820.4,678.2 L821.0,679.3 L821.7,681.6 L822.3,682.6 L822.9,682.6 L823.6,683.0 L824.2,684.1 L824.9,684.5 L825.5,686.1 L826.2,688.5 L826.8,689.2 L827.4,688.8 L828.1,688.2 L828.7,687.4 L829.4,687.7 L830.0,688.6 L830.7,688.4 L831.3,687.4 L831.9,687.0 L832.6,687.9 L833.2,688.4 L833.9,687.6 L834.5,688.1 L835.2,689.3 L835.8,688.9 L836.4,687.7 L837.1,687.1 L837.7,687.3 L838.4,688.4 L839.0,689.1 L839.7,689.1 L840.3,689.2 L840.9,688.3 L841.6,688.1 L842.2,688.9 L842.9,688.3 L843.5,687.7 L844.2,688.3 L844.8,688.2 L845.4,687.3 L846.1,687.7 L846.7,688.2 L847.4,688.5 L848.0,688.8 L848.7,688.3 L849.3,688.1 L849.9,688.8 L850.6,689.1 L851.2,689.3 L851.9,689.4 L852.5,689.0 L853.2,689.0 L853.8,688.5 L854.4,688.4 L855.1,689.7 L855.7,690.7 L856.4,690.0 L857.0,689.3 L857.7,689.5 L858.3,688.8 L858.9,688.3 L859.6,688.8 L860.2,689.4 L860.9,689.3 L861.5,688.9 L862.2,689.1 L862.8,689.5 L863.4,689.3 L864.1,688.7 L864.7,688.7 L865.4,689.3 L866.0,689.5 L866.7,689.2 L867.3,688.8 L867.9,688.4 L868.6,688.2 L869.2,688.9 L869.9,689.6 L870.5,689.6 L871.2,689.7 L871.8,690.0 L872.4,690.0 L873.1,688.7 L873.7,687.8 L874.4,688.6 L875.0,688.7 L875.7,688.5 L876.3,689.2 L876.9,689.6 L877.6,689.4 L878.2,689.0 L878.9,689.2 L879.5,690.0 L880.2,690.3 L880.8,689.2 L881.4,689.0 L882.1,688.7 L882.7,687.4 L883.4,688.1 L884.0,689.5 L884.7,688.8 L885.3,688.6 L886.0,688.5 L886.6,687.5 L887.2,687.1 L887.9,688.1 L888.5,688.9 L889.2,688.7 L889.8,689.3 L890.5,690.4 L891.1,690.7 L891.7,690.1 L892.4,690.4 L893.0,690.3 L893.7,688.8 L894.3,688.5 L895.0,689.3 L895.6,688.7 L896.2,688.8 L896.9,690.2 L897.5,690.2 L898.2,689.1 L898.8,688.9 L899.5,689.6 L900.1,691.1 L900.7,691.0 L901.4,689.3 L902.0,688.3 L902.7,687.6 L903.3,687.9 L904.0,689.3 L904.6,690.6 L905.2,690.0 L905.9,688.8 L906.5,688.6 L907.2,688.9 L907.8,689.3 L908.5,689.7 L909.1,690.5 L909.7,691.2 L910.4,690.1 L911.0,688.2 L911.7,687.6 L912.3,688.7 L913.0,689.9 L913.6,689.4 L914.2,689.0 L914.9,688.9 L915.5,688.1 L916.2,688.4 L916.8,689.4 L917.5,689.4 L918.1,689.3 L918.7,689.5 L919.4,689.0 L920.0,688.7 L920.7,689.3 L921.3,689.9 L922.0,689.5 L922.6,688.7 L923.2,689.2 L923.9,690.8 L924.5,690.9 L925.2,689.7 L925.8,689.4 L926.5,690.0 L927.1,690.4 L927.7,690.9 L928.4,691.2 L929.0,690.5 L929.7,689.3 L930.3,689.3 L931.0,690.0 L931.6,691.1 L932.2,692.4 L932.9,691.5 L933.5,689.7 L934.2,689.1 L934.8,688.3 L935.5,688.4 L936.1,690.0 L936.7,690.2 L937.4,689.9 L938.0,690.3 L938.7,689.3 L939.3,688.9 L940.0,690.0 L940.6,690.2 L941.2,689.8 L941.9,689.9 L942.5,690.0 L943.2,689.8 L943.8,689.0 L944.5,688.0 L945.1,688.5 L945.7,689.6 L946.4,689.9 L947.0,690.6 L947.7,691.0 L948.3,690.3 L949.0,690.9 L949.6,691.9 L950.3,692.0 L950.9,692.2 L951.5,692.2 L952.2,691.1 L952.8,689.9 L953.5,689.0 L954.1,689.1 L954.8,690.2 L955.4,690.5 L956.0,690.4 L956.7,690.4 L957.3,690.4 L958.0,690.7 L958.6,690.5 L959.3,690.1 L959.9,690.1 L960.5,691.0 L961.2,691.3 L961.8,689.9 L962.5,690.1 L963.1,691.4 L963.8,691.0 L964.4,690.8 L965.0,690.9 L965.7,689.5 L966.3,688.9 L967.0,689.5 L967.6,688.3 L968.3,688.0 L968.9,690.0 L969.5,691.1 L970.2,690.4 L970.8,689.5 L971.5,688.9 L972.1,689.1 L972.8,690.1 L973.4,690.1 L974.0,688.2 L974.7,686.8 L975.3,688.0 L976.0,689.5 L976.6,689.3 L977.3,688.7 L977.9,688.0 L978.5,688.1 L979.2,689.0 L979.8,689.5 L980.5,689.4 L981.1,690.0 L981.8,690.4 L982.4,689.6 L983.0,689.3 L983.7,690.1 L984.3,691.3 L985.0,692.2 L985.6,692.1 L986.3,690.9 L986.9,690.4 L987.5,691.6 L988.2,691.5 L988.8,690.6 L989.5,690.3 L990.1,690.4 L990.8,690.8 L991.4,690.8 L992.0,689.4 L992.7,688.4 L993.3,689.7 L994.0,691.1 L994.6,691.1 L995.3,690.8 L995.9,691.2 L996.5,691.4 L997.2,691.2 L997.8,690.8 L998.5,689.2 L999.1,688.6 L999.8,688.6 L1000.4,688.1 L1001.0,689.4 L1001.7,691.7 L1002.3,692.1 L1003.0,691.9 L1003.6,692.1 L1004.3,691.3 L1004.9,690.5 L1005.5,690.7 L1006.2,691.0 L1006.8,690.7 L1007.5,690.3 L1008.1,690.8 L1008.8,691.1 L1009.4,690.6 L1010.0,689.8 L1010.7,689.9 L1011.3,691.0 L1012.0,691.0 L1012.6,690.8 L1013.3,691.8 L1013.9,691.6 L1014.6,691.1 L1015.2,691.6 L1015.8,691.8 L1016.5,692.6 L1017.1,693.3 L1017.8,692.1 L1018.4,690.6 L1019.1,690.6 L1019.7,691.3 L1020.3,691.0 L1021.0,690.1 L1021.6,690.3 L1022.3,692.0 L1022.9,691.9 L1023.6,690.1 L1024.2,690.4 L1024.8,691.3 L1025.5,691.8 L1026.1,691.9 L1026.8,690.9 L1027.4,689.7 L1028.1,688.8 L1028.7,689.5 L1029.3,691.1 L1030.0,691.0 L1030.6,690.4 L1031.3,690.0 L1031.9,690.0 L1032.6,691.2 L1033.2,692.5 L1033.8,691.7 L1034.5,690.7 L1035.1,691.1 L1035.8,690.2 L1036.4,688.7 L1037.1,688.9 L1037.7,689.7 L1038.3,690.1 L1039.0,689.5 L1039.6,689.2 L1040.3,690.8 L1040.9,691.9 L1041.6,691.1 L1042.2,690.8 L1042.8,691.8 L1043.5,691.8 L1044.1,690.2 L1044.8,689.6 L1045.4,688.8 L1046.1,688.1 L1046.7,689.5 L1047.3,690.0 L1048.0,686.6 L1048.6,684.1 L1049.3,684.4 L1049.9,683.0 L1050.6,681.6 L1051.2,681.5 L1051.8,681.3 L1052.5,681.6 L1053.1,682.7 L1053.8,684.2 L1054.4,685.3 L1055.1,685.3 L1055.7,685.5 L1056.3,686.8 L1057.0,688.6 L1057.6,689.7 L1058.3,690.4 L1058.9,691.5 L1059.6,692.0 L1060.2,691.8 L1060.8,691.0 L1061.5,689.9 L1062.1,689.6 L1062.8,689.9 L1063.4,690.3 L1064.1,690.7 L1064.7,690.5 L1065.3,689.8 L1066.0,689.0 L1066.6,689.4 L1067.3,690.5 L1067.9,690.3 L1068.6,689.9 L1069.2,691.1 L1069.8,692.4 L1070.5,692.0 L1071.1,691.0 L1071.8,690.3 L1072.4,690.6 L1073.1,692.0 L1073.7,692.6 L1074.3,691.0 L1075.0,690.1 L1075.6,691.3 L1076.3,691.1 L1076.9,689.8 L1077.6,691.5 L1078.2,693.6 L1078.9,693.2 L1079.5,692.5 L1080.1,692.5 L1080.8,692.2 L1081.4,691.0 L1082.1,690.8 L1082.7,691.4 L1083.4,691.4 L1084.0,690.9 L1084.6,690.6 L1085.3,691.9 L1085.9,692.6 L1086.6,692.1 L1087.2,692.5 L1087.9,692.6 L1088.5,691.2 L1089.1,690.2 L1089.8,690.4 L1090.4,690.7 L1091.1,690.9 L1091.7,691.2 L1092.4,690.8 L1093.0,689.9 L1093.6,690.6 L1094.3,692.1 L1094.9,692.1 L1095.6,691.6 L1096.2,691.7 L1096.9,692.1 L1097.5,692.6 L1098.1,692.4 L1098.8,691.3 L1099.4,690.6 L1100.1,690.3 L1100.7,691.1 L1101.4,692.1 L1102.0,691.0 L1102.6,689.8 L1103.3,690.2 L1103.9,691.2 L1104.6,691.6 L1105.2,691.6 L1105.9,692.2 L1106.5,692.5" fill="none" stroke="#000000" stroke-width="4.4" stroke-linejoin="round"/>
<path d="M142.0,599.9 L142.6,600.4 L143.3,599.9 L143.9,600.3 L144.6,602.8 L145.2,603.6 L145.9,602.9 L146.5,603.1 L147.1,603.0 L147.8,603.0 L148.4,603.5 L149.1,603.2 L149.7,602.7 L150.4,603.0 L151.0,603.7 L151.6,604.1 L152.3,604.1 L152.9,603.8 L153.6,603.7 L154.2,604.0 L154.9,604.7 L155.5,605.1 L156.1,605.1 L156.8,604.7 L157.4,604.5 L158.1,605.9 L158.7,606.2 L159.4,604.0 L160.0,602.7 L160.6,603.8 L161.3,605.5 L161.9,606.2 L162.6,606.6 L163.2,606.6 L163.9,606.2 L164.5,606.0 L165.1,606.1 L165.8,606.1 L166.4,605.3 L167.1,605.4 L167.7,606.8 L168.4,607.3 L169.0,605.9 L169.6,605.0 L170.3,605.9 L170.9,606.8 L171.6,607.1 L172.2,606.7 L172.9,606.0 L173.5,607.0 L174.1,607.0 L174.8,605.5 L175.4,606.0 L176.1,606.6 L176.7,606.0 L177.4,606.1 L178.0,605.9 L178.7,603.3 L179.3,600.2 L179.9,598.3 L180.6,597.1 L181.2,594.6 L181.9,591.6 L182.5,589.3 L183.2,586.2 L183.8,580.7 L184.4,574.6 L185.1,571.9 L185.7,572.6 L186.4,571.6 L187.0,568.4 L187.7,562.5 L188.3,556.3 L188.9,551.4 L189.6,539.8 L190.2,519.2 L190.9,500.2 L191.5,489.4 L192.2,487.0 L192.8,496.9 L193.4,508.8 L194.1,515.0 L194.7,513.8 L195.4,503.6 L196.0,497.6 L196.7,503.3 L197.3,509.6 L197.9,510.5 L198.6,497.9 L199.2,476.4 L199.9,467.4 L200.5,477.0 L201.2,497.6 L201.8,517.5 L202.4,531.2 L203.1,538.4 L203.7,540.0 L204.4,540.1 L205.0,540.4 L205.7,539.6 L206.3,539.5 L206.9,542.8 L207.6,546.7 L208.2,548.3 L208.9,550.0 L209.5,549.9 L210.2,541.4 L210.8,529.7 L211.4,514.9 L212.1,493.7 L212.7,483.5 L213.4,494.1 L214.0,513.5 L214.7,533.1 L215.3,549.4 L215.9,557.2 L216.6,562.2 L217.2,569.6 L217.9,573.2 L218.5,574.0 L219.2,576.2 L219.8,580.2 L220.4,584.7 L221.1,589.2 L221.7,592.1 L222.4,593.4 L223.0,595.5 L223.7,597.8 L224.3,599.7 L224.9,602.4 L225.6,605.3 L226.2,607.9 L226.9,609.0 L227.5,608.9 L228.2,609.5 L228.8,610.8 L229.4,612.0 L230.1,611.8 L230.7,611.1 L231.4,610.4 L232.0,610.4 L232.7,611.1 L233.3,611.4 L233.9,611.1 L234.6,610.8 L235.2,611.2 L235.9,611.9 L236.5,612.5 L237.2,612.5 L237.8,611.9 L238.4,611.2 L239.1,611.1 L239.7,611.0 L240.4,610.9 L241.0,611.3 L241.7,611.3 L242.3,611.6 L243.0,611.8 L243.6,610.9 L244.2,608.5 L244.9,605.4 L245.5,602.7 L246.2,599.1 L246.8,594.9 L247.5,593.5 L248.1,592.8 L248.7,594.2 L249.4,598.6 L250.0,602.4 L250.7,604.7 L251.3,606.8 L252.0,609.4 L252.6,610.8 L253.2,611.3 L253.9,612.6 L254.5,612.3 L255.2,611.2 L255.8,611.5 L256.5,612.3 L257.1,613.5 L257.7,613.6 L258.4,612.2 L259.0,612.0 L259.7,612.8 L260.3,613.7 L261.0,614.6 L261.6,614.4 L262.2,613.7 L262.9,613.0 L263.5,612.3 L264.2,613.3 L264.8,614.3 L265.5,613.5 L266.1,613.3 L266.7,614.6 L267.4,615.5 L268.0,614.2 L268.7,613.6 L269.3,613.8 L270.0,613.2 L270.6,613.3 L271.2,614.0 L271.9,614.1 L272.5,614.1 L273.2,614.7 L273.8,614.0 L274.5,612.0 L275.1,611.6 L275.7,613.4 L276.4,614.8 L277.0,614.4 L277.7,613.8 L278.3,613.8 L279.0,614.1 L279.6,613.8 L280.2,612.5 L280.9,611.3 L281.5,611.0 L282.2,608.5 L282.8,604.3 L283.5,602.0 L284.1,597.8 L284.7,591.8 L285.4,590.9 L286.0,595.9 L286.7,600.6 L287.3,602.8 L288.0,606.1 L288.6,610.1 L289.2,611.7 L289.9,613.6 L290.5,616.6 L291.2,617.3 L291.8,615.8 L292.5,614.8 L293.1,614.1 L293.7,613.4 L294.4,613.8 L295.0,614.0 L295.7,613.2 L296.3,613.7 L297.0,615.1 L297.6,615.6 L298.2,615.8 L298.9,615.8 L299.5,614.7 L300.2,613.6 L300.8,613.6 L301.5,615.0 L302.1,616.0 L302.7,616.1 L303.4,615.7 L304.0,614.9 L304.7,614.7 L305.3,614.6 L306.0,615.3 L306.6,617.2 L307.3,617.0 L307.9,615.4 L308.5,615.1 L309.2,615.2 L309.8,615.1 L310.5,615.4 L311.1,615.2 L311.8,615.0 L312.4,615.1 L313.0,615.0 L313.7,614.5 L314.3,614.2 L315.0,614.7 L315.6,615.4 L316.3,615.9 L316.9,616.9 L317.5,617.9 L318.2,617.6 L318.8,616.9 L319.5,616.7 L320.1,616.9 L320.8,617.6 L321.4,617.1 L322.0,616.1 L322.7,617.0 L323.3,616.6 L324.0,614.7 L324.6,615.0 L325.3,615.4 L325.9,614.8 L326.5,614.9 L327.2,615.9 L327.8,617.0 L328.5,618.3 L329.1,618.9 L329.8,618.1 L330.4,617.7 L331.0,617.6 L331.7,616.8 L332.3,615.5 L333.0,614.8 L333.6,616.0 L334.3,617.9 L334.9,618.8 L335.5,618.3 L336.2,617.4 L336.8,617.2 L337.5,618.4 L338.1,618.4 L338.8,616.9 L339.4,616.0 L340.0,616.1 L340.7,616.9 L341.3,616.3 L342.0,614.9 L342.6,614.2 L343.3,612.8 L343.9,610.2 L344.5,607.2 L345.2,604.3 L345.8,602.6 L346.5,603.4 L347.1,601.9 L347.8,596.6 L348.4,593.8 L349.0,591.7 L349.7,587.8 L350.3,584.5 L351.0,581.8 L351.6,579.0 L352.3,573.2 L352.9,566.5 L353.5,559.0 L354.2,545.7 L354.8,532.8 L355.5,530.1 L356.1,533.9 L356.8,538.5 L357.4,544.1 L358.0,550.9 L358.7,559.9 L359.3,566.7 L360.0,571.1 L360.6,573.8 L361.3,571.5 L361.9,567.5 L362.5,568.0 L363.2,571.0 L363.8,570.7 L364.5,568.0 L365.1,564.1 L365.8,558.2 L366.4,546.3 L367.0,529.4 L367.7,518.0 L368.3,510.1 L369.0,508.4 L369.6,521.9 L370.3,537.6 L370.9,547.9 L371.6,556.8 L372.2,564.3 L372.8,570.0 L373.5,575.2 L374.1,579.4 L374.8,582.6 L375.4,585.6 L376.1,589.8 L376.7,592.6 L377.3,594.0 L378.0,596.2 L378.6,596.6 L379.3,598.7 L379.9,603.7 L380.6,607.6 L381.2,609.2 L381.8,610.1 L382.5,612.4 L383.1,615.1 L383.8,616.7 L384.4,617.1 L385.1,617.1 L385.7,616.8 L386.3,616.9 L387.0,617.3 L387.6,616.9 L388.3,615.2 L388.9,613.8 L389.6,614.1 L390.2,613.8 L390.8,612.0 L391.5,610.9 L392.1,612.1 L392.8,614.5 L393.4,616.8 L394.1,618.4 L394.7,618.2 L395.3,617.6 L396.0,617.7 L396.6,617.7 L397.3,618.5 L397.9,620.3 L398.6,620.2 L399.2,619.7 L399.8,620.7 L400.5,620.3 L401.1,619.3 L401.8,619.8 L402.4,619.7 L403.1,618.6 L403.7,618.3 L404.3,619.5 L405.0,619.4 L405.6,618.5 L406.3,619.9 L406.9,620.7 L407.6,620.2 L408.2,620.1 L408.8,619.8 L409.5,619.5 L410.1,620.3 L410.8,620.7 L411.4,619.9 L412.1,620.2 L412.7,620.5 L413.3,619.9 L414.0,619.4 L414.6,619.0 L415.3,619.4 L415.9,620.5 L416.6,620.6 L417.2,621.3 L417.8,622.5 L418.5,621.5 L419.1,620.6 L419.8,620.5 L420.4,620.9 L421.1,621.5 L421.7,621.5 L422.3,622.2 L423.0,621.9 L423.6,621.0 L424.3,621.1 L424.9,621.9 L425.6,622.7 L426.2,621.5 L426.8,619.5 L427.5,618.8 L428.1,619.2 L428.8,619.9 L429.4,619.8 L430.1,619.7 L430.7,620.2 L431.3,621.4 L432.0,621.7 L432.6,620.4 L433.3,619.9 L433.9,619.9 L434.6,619.4 L435.2,619.6 L435.9,620.6 L436.5,621.6 L437.1,621.4 L437.8,621.3 L438.4,621.9 L439.1,621.9 L439.7,621.7 L440.4,621.5 L441.0,621.4 L441.6,622.0 L442.3,622.1 L442.9,621.1 L443.6,621.2 L444.2,622.5 L444.9,623.6 L445.5,623.9 L446.1,622.8 L446.8,622.1 L447.4,622.0 L448.1,622.2 L448.7,622.3 L449.4,621.6 L450.0,621.6 L450.6,622.1 L451.3,622.4 L451.9,622.9 L452.6,623.4 L453.2,623.2 L453.9,622.5 L454.5,621.5 L455.1,620.9 L455.8,621.0 L456.4,621.8 L457.1,622.4 L457.7,621.7 L458.4,621.4 L459.0,622.0 L459.6,621.6 L460.3,621.3 L460.9,622.0 L461.6,621.7 L462.2,620.3 L462.9,620.7 L463.5,622.0 L464.1,621.9 L464.8,621.5 L465.4,622.3 L466.1,623.2 L466.7,623.0 L467.4,623.2 L468.0,623.2 L468.6,622.7 L469.3,622.6 L469.9,622.2 L470.6,621.6 L471.2,621.9 L471.9,622.7 L472.5,622.5 L473.1,621.7 L473.8,622.3 L474.4,623.9 L475.1,623.9 L475.7,622.6 L476.4,621.6 L477.0,621.4 L477.6,622.5 L478.3,622.5 L478.9,622.2 L479.6,623.4 L480.2,623.4 L480.9,622.0 L481.5,621.7 L482.1,622.1 L482.8,622.5 L483.4,621.8 L484.1,621.6 L484.7,622.8 L485.4,623.2 L486.0,623.0 L486.6,621.8 L487.3,619.3 L487.9,617.0 L488.6,614.6 L489.2,610.8 L489.9,605.9 L490.5,602.9 L491.1,602.9 L491.8,604.8 L492.4,607.5 L493.1,611.2 L493.7,615.3 L494.4,617.9 L495.0,619.7 L495.6,621.5 L496.3,623.2 L496.9,624.2 L497.6,623.1 L498.2,622.0 L498.9,622.4 L499.5,622.9 L500.2,623.1 L500.8,622.7 L501.4,622.4 L502.1,622.6 L502.7,622.2 L503.4,621.7 L504.0,622.4 L504.7,623.8 L505.3,624.5 L505.9,623.8 L506.6,623.6 L507.2,624.3 L507.9,625.0 L508.5,625.5 L509.2,624.9 L509.8,624.6 L510.4,625.5 L511.1,625.4 L511.7,624.3 L512.4,623.3 L513.0,622.7 L513.7,622.8 L514.3,623.2 L514.9,623.4 L515.6,623.6 L516.2,623.8 L516.9,624.2 L517.5,624.6 L518.2,624.4 L518.8,623.4 L519.4,623.5 L520.1,625.3 L520.7,625.7 L521.4,624.7 L522.0,624.0 L522.7,622.8 L523.3,622.5 L523.9,624.2 L524.6,625.0 L525.2,623.9 L525.9,624.0 L526.5,624.6 L527.2,623.9 L527.8,624.5 L528.4,625.0 L529.1,624.6 L529.7,625.6 L530.4,626.2 L531.0,624.6 L531.7,623.8 L532.3,624.0 L532.9,623.4 L533.6,623.9 L534.2,625.3 L534.9,624.7 L535.5,623.0 L536.2,623.4 L536.8,624.6 L537.4,624.1 L538.1,623.0 L538.7,623.0 L539.4,623.1 L540.0,622.5 L540.7,620.5 L541.3,619.1 L541.9,619.9 L542.6,620.8 L543.2,622.7 L543.9,623.9 L544.5,622.4 L545.2,622.1 L545.8,623.6 L546.4,623.8 L547.1,623.1 L547.7,623.4 L548.4,624.1 L549.0,622.3 L549.7,620.0 L550.3,618.7 L550.9,617.9 L551.6,617.7 L552.2,617.5 L552.9,618.3 L553.5,620.2 L554.2,621.8 L554.8,623.7 L555.4,624.9 L556.1,624.3 L556.7,624.1 L557.4,625.1 L558.0,625.8 L558.7,625.5 L559.3,625.3 L559.9,625.4 L560.6,625.8 L561.2,625.6 L561.9,624.9 L562.5,624.8 L563.2,625.0 L563.8,625.0 L564.5,625.5 L565.1,625.9 L565.7,625.4 L566.4,624.7 L567.0,625.3 L567.7,626.9 L568.3,626.4 L569.0,624.6 L569.6,625.1 L570.2,627.1 L570.9,627.3 L571.5,626.5 L572.2,625.7 L572.8,624.6 L573.5,624.9 L574.1,624.9 L574.7,623.4 L575.4,623.5 L576.0,624.8 L576.7,624.1 L577.3,621.6 L578.0,619.9 L578.6,617.6 L579.2,612.0 L579.9,606.8 L580.5,605.2 L581.2,606.6 L581.8,610.1 L582.5,612.8 L583.1,616.5 L583.7,620.8 L584.4,622.4 L585.0,623.6 L585.7,625.1 L586.3,625.6 L587.0,625.6 L587.6,625.6 L588.2,624.8 L588.9,623.9 L589.5,624.3 L590.2,624.8 L590.8,624.7 L591.5,624.4 L592.1,624.1 L592.7,624.5 L593.4,622.3 L594.0,617.4 L594.7,613.8 L595.3,608.9 L596.0,603.8 L596.6,603.2 L597.2,604.0 L597.9,606.1 L598.5,611.0 L599.2,616.9 L599.8,620.8 L600.5,622.7 L601.1,624.0 L601.7,624.6 L602.4,624.8 L603.0,624.9 L603.7,625.1 L604.3,625.4 L605.0,626.2 L605.6,626.9 L606.2,627.1 L606.9,628.2 L607.5,627.8 L608.2,625.5 L608.8,625.1 L609.5,625.5 L610.1,625.0 L610.7,624.9 L611.4,625.5 L612.0,625.6 L612.7,625.2 L613.3,625.1 L614.0,624.2 L614.6,623.8 L615.2,625.1 L615.9,624.7 L616.5,623.6 L617.2,623.2 L617.8,620.8 L618.5,617.8 L619.1,614.8 L619.7,608.3 L620.4,600.6 L621.0,593.9 L621.7,587.5 L622.3,581.8 L623.0,578.6 L623.6,581.9 L624.2,592.1 L624.9,604.3 L625.5,612.8 L626.2,616.5 L626.8,619.1 L627.5,621.3 L628.1,621.2 L628.8,619.9 L629.4,618.5 L630.0,616.5 L630.7,613.7 L631.3,611.3 L632.0,609.6 L632.6,607.1 L633.3,605.9 L633.9,610.1 L634.5,616.3 L635.2,621.4 L635.8,624.6 L636.5,625.2 L637.1,625.7 L637.8,627.2 L638.4,627.6 L639.0,627.1 L639.7,626.7 L640.3,626.0 L641.0,626.4 L641.6,627.3 L642.3,627.1 L642.9,627.8 L643.5,628.6 L644.2,628.7 L644.8,628.8 L645.5,627.6 L646.1,625.9 L646.8,625.9 L647.4,627.3 L648.0,627.8 L648.7,627.1 L649.3,626.8 L650.0,627.9 L650.6,628.2 L651.3,626.9 L651.9,626.7 L652.5,627.2 L653.2,626.8 L653.8,627.3 L654.5,627.3 L655.1,626.6 L655.8,626.8 L656.4,627.3 L657.0,628.1 L657.7,629.1 L658.3,629.5 L659.0,628.8 L659.6,628.1 L660.3,627.8 L660.9,628.4 L661.5,628.3 L662.2,627.5 L662.8,627.9 L663.5,628.2 L664.1,628.3 L664.8,628.9 L665.4,629.2 L666.0,628.7 L666.7,628.3 L667.3,628.4 L668.0,628.4 L668.6,628.3 L669.3,628.7 L669.9,629.1 L670.5,628.8 L671.2,627.9 L671.8,627.3 L672.5,626.9 L673.1,626.9 L673.8,627.6 L674.4,628.0 L675.0,629.7 L675.7,630.4 L676.3,628.8 L677.0,628.0 L677.6,626.8 L678.3,624.1 L678.9,621.8 L679.5,620.4 L680.2,617.7 L680.8,611.9 L681.5,605.7 L682.1,604.1 L682.8,608.0 L683.4,613.2 L684.0,616.8 L684.7,620.5 L685.3,623.6 L686.0,624.8 L686.6,625.5 L687.3,625.6 L687.9,625.5 L688.5,626.7 L689.2,627.7 L689.8,626.8 L690.5,624.6 L691.1,623.2 L691.8,622.3 L692.4,619.8 L693.1,615.2 L693.7,609.1 L694.3,604.5 L695.0,603.1 L695.6,604.9 L696.3,609.1 L696.9,614.8 L697.6,619.9 L698.2,621.9 L698.8,623.0 L699.5,625.5 L700.1,626.3 L700.8,625.0 L701.4,624.5 L702.1,624.6 L702.7,623.2 L703.3,619.1 L704.0,614.3 L704.6,611.1 L705.3,609.2 L705.9,606.9 L706.6,606.0 L707.2,610.9 L707.8,615.6 L708.5,618.5 L709.1,622.1 L709.8,624.4 L710.4,625.6 L711.1,625.9 L711.7,626.0 L712.3,625.3 L713.0,624.8 L713.6,625.0 L714.3,624.8 L714.9,624.2 L715.6,621.9 L716.2,616.3 L716.8,609.6 L717.5,601.2 L718.1,592.6 L718.8,589.3 L719.4,590.6 L720.1,594.2 L720.7,599.3 L721.3,606.5 L722.0,615.0 L722.6,621.9 L723.3,626.1 L723.9,628.3 L724.6,629.1 L725.2,629.4 L725.8,629.4 L726.5,629.3 L727.1,629.8 L727.8,631.2 L728.4,631.9 L729.1,630.2 L729.7,629.2 L730.3,629.9 L731.0,629.6 L731.6,629.4 L732.3,629.3 L732.9,629.7 L733.6,630.9 L734.2,630.8 L734.8,629.9 L735.5,629.8 L736.1,630.1 L736.8,630.4 L737.4,629.9 L738.1,629.3 L738.7,629.4 L739.3,629.9 L740.0,630.1 L740.6,629.8 L741.3,630.2 L741.9,631.7 L742.6,632.8 L743.2,630.9 L743.8,628.4 L744.5,628.9 L745.1,630.2 L745.8,631.3 L746.4,632.2 L747.1,631.0 L747.7,629.4 L748.3,630.1 L749.0,631.1 L749.6,631.6 L750.3,631.6 L750.9,630.9 L751.6,630.6 L752.2,630.0 L752.8,630.4 L753.5,632.1 L754.1,632.5 L754.8,630.6 L755.4,629.7 L756.1,630.6 L756.7,631.3 L757.4,631.7 L758.0,630.7 L758.6,630.6 L759.3,631.7 L759.9,632.0 L760.6,631.3 L761.2,631.0 L761.9,631.6 L762.5,631.6 L763.1,631.2 L763.8,630.1 L764.4,629.5 L765.1,630.5 L765.7,631.8 L766.4,632.6 L767.0,632.4 L767.6,632.2 L768.3,633.2 L768.9,633.6 L769.6,632.3 L770.2,631.9 L770.9,631.8 L771.5,631.2 L772.1,631.4 L772.8,631.5 L773.4,630.3 L774.1,629.8 L774.7,630.2 L775.4,630.6 L776.0,631.8 L776.6,632.0 L777.3,631.4 L777.9,631.3 L778.6,631.0 L779.2,630.9 L779.9,631.8 L780.5,632.4 L781.1,631.2 L781.8,629.4 L782.4,629.3 L783.1,628.9 L783.7,626.5 L784.4,624.3 L785.0,621.7 L785.6,618.4 L786.3,618.7 L786.9,620.9 L787.6,621.6 L788.2,623.1 L788.9,626.2 L789.5,629.3 L790.1,630.7 L790.8,630.1 L791.4,630.0 L792.1,630.8 L792.7,631.1 L793.4,631.2 L794.0,631.0 L794.6,630.1 L795.3,629.5 L795.9,629.5 L796.6,629.1 L797.2,628.8 L797.9,629.0 L798.5,629.1 L799.1,627.7 L799.8,625.3 L800.4,624.7 L801.1,624.9 L801.7,624.1 L802.4,623.3 L803.0,625.0 L803.6,628.9 L804.3,631.0 L804.9,630.8 L805.6,631.0 L806.2,632.6 L806.9,633.1 L807.5,632.1 L808.1,630.9 L808.8,630.5 L809.4,631.1 L810.1,631.2 L810.7,632.1 L811.4,632.7 L812.0,632.8 L812.6,633.0 L813.3,632.4 L813.9,632.3 L814.6,632.4 L815.2,631.5 L815.9,630.9 L816.5,630.8 L817.1,629.1 L817.8,626.2 L818.4,623.4 L819.1,622.1 L819.7,621.2 L820.4,618.9 L821.0,617.7 L821.7,619.0 L822.3,621.1 L822.9,624.2 L823.6,627.9 L824.2,629.7 L824.9,629.5 L825.5,629.8 L826.2,630.8 L826.8,631.0 L827.4,631.1 L828.1,632.1 L828.7,632.6 L829.4,632.8 L830.0,632.8 L830.7,632.9 L831.3,633.0 L831.9,632.6 L832.6,633.0 L833.2,633.3 L833.9,633.0 L834.5,632.5 L835.2,631.4 L835.8,631.2 L836.4,631.9 L837.1,632.5 L837.7,633.1 L838.4,633.4 L839.0,633.6 L839.7,633.6 L840.3,633.3 L840.9,633.0 L841.6,632.6 L842.2,633.4 L842.9,633.8 L843.5,632.5 L844.2,632.7 L844.8,634.0 L845.4,634.4 L846.1,634.6 L846.7,633.7 L847.4,632.4 L848.0,632.0 L848.7,632.5 L849.3,634.0 L849.9,634.6 L850.6,633.7 L851.2,633.4 L851.9,632.7 L852.5,632.0 L853.2,631.9 L853.8,631.8 L854.4,632.5 L855.1,633.6 L855.7,634.5 L856.4,634.6 L857.0,633.8 L857.7,633.7 L858.3,634.1 L858.9,633.0 L859.6,631.3 L860.2,632.2 L860.9,633.4 L861.5,633.1 L862.2,633.7 L862.8,633.6 L863.4,632.4 L864.1,632.9 L864.7,633.8 L865.4,633.2 L866.0,632.7 L866.7,633.2 L867.3,633.7 L867.9,634.3 L868.6,634.2 L869.2,633.6 L869.9,633.4 L870.5,633.1 L871.2,632.4 L871.8,632.3 L872.4,633.3 L873.1,634.4 L873.7,634.2 L874.4,633.6 L875.0,633.2 L875.7,633.5 L876.3,633.7 L876.9,633.8 L877.6,634.9 L878.2,635.5 L878.9,636.0 L879.5,635.5 L880.2,634.4 L880.8,634.5 L881.4,634.6 L882.1,634.7 L882.7,634.6 L883.4,633.7 L884.0,633.2 L884.7,633.0 L885.3,632.8 L886.0,633.4 L886.6,634.2 L887.2,634.4 L887.9,634.2 L888.5,634.2 L889.2,633.8 L889.8,632.7 L890.5,633.0 L891.1,634.1 L891.7,635.0 L892.4,635.3 L893.0,635.1 L893.7,634.9 L894.3,634.6 L895.0,633.9 L895.6,633.1 L896.2,633.3 L896.9,635.4 L897.5,635.9 L898.2,634.1 L898.8,632.7 L899.5,631.8 L900.1,632.4 L900.7,633.8 L901.4,633.7 L902.0,633.0 L902.7,633.2 L903.3,633.9 L904.0,634.8 L904.6,635.1 L905.2,634.6 L905.9,634.5 L906.5,633.7 L907.2,633.0 L907.8,633.8 L908.5,634.8 L909.1,634.4 L909.7,633.7 L910.4,634.2 L911.0,634.5 L911.7,635.0 L912.3,635.1 L913.0,633.5 L913.6,633.5 L914.2,634.5 L914.9,633.8 L915.5,633.8 L916.2,634.7 L916.8,635.1 L917.5,635.4 L918.1,635.3 L918.7,635.2 L919.4,636.3 L920.0,636.8 L920.7,636.1 L921.3,636.3 L922.0,636.3 L922.6,635.5 L923.2,634.9 L923.9,634.1 L924.5,634.2 L925.2,634.9 L925.8,635.5 L926.5,635.4 L927.1,634.4 L927.7,634.0 L928.4,634.3 L929.0,635.1 L929.7,635.4 L930.3,634.9 L931.0,635.0 L931.6,634.8 L932.2,635.0 L932.9,635.6 L933.5,635.5 L934.2,635.6 L934.8,635.4 L935.5,634.9 L936.1,634.2 L936.7,633.5 L937.4,634.1 L938.0,635.1 L938.7,634.9 L939.3,634.6 L940.0,635.7 L940.6,635.6 L941.2,634.1 L941.9,634.2 L942.5,634.7 L943.2,633.9 L943.8,634.1 L944.5,635.0 L945.1,635.2 L945.7,635.5 L946.4,635.4 L947.0,634.8 L947.7,635.6 L948.3,636.3 L949.0,635.0 L949.6,634.7 L950.3,635.2 L950.9,635.5 L951.5,636.2 L952.2,636.3 L952.8,635.2 L953.5,634.3 L954.1,635.9 L954.8,636.6 L955.4,636.0 L956.0,636.4 L956.7,636.7 L957.3,637.1 L958.0,637.4 L958.6,636.1 L959.3,635.0 L959.9,634.9 L960.5,634.5 L961.2,634.4 L961.8,634.6 L962.5,635.4 L963.1,636.7 L963.8,636.5 L964.4,635.9 L965.0,635.7 L965.7,634.7 L966.3,634.7 L967.0,635.9 L967.6,637.0 L968.3,637.0 L968.9,636.9 L969.5,637.3 L970.2,637.4 L970.8,636.8 L971.5,634.9 L972.1,633.7 L972.8,634.5 L973.4,635.3 L974.0,635.0 L974.7,634.5 L975.3,633.8 L976.0,633.3 L976.6,632.8 L977.3,632.9 L977.9,633.6 L978.5,633.8 L979.2,633.8 L979.8,634.4 L980.5,634.9 L981.1,635.4 L981.8,636.0 L982.4,635.7 L983.0,635.8 L983.7,635.8 L984.3,636.0 L985.0,636.7 L985.6,637.0 L986.3,636.9 L986.9,635.8 L987.5,634.6 L988.2,634.8 L988.8,636.4 L989.5,637.4 L990.1,636.9 L990.8,636.1 L991.4,636.6 L992.0,638.2 L992.7,637.2 L993.3,635.3 L994.0,634.6 L994.6,635.0 L995.3,637.5 L995.9,639.2 L996.5,638.4 L997.2,636.9 L997.8,635.6 L998.5,635.5 L999.1,636.2 L999.8,636.2 L1000.4,635.9 L1001.0,635.9 L1001.7,636.6 L1002.3,637.9 L1003.0,638.4 L1003.6,637.5 L1004.3,636.4 L1004.9,635.5 L1005.5,635.0 L1006.2,635.9 L1006.8,637.2 L1007.5,637.7 L1008.1,637.8 L1008.8,637.4 L1009.4,636.3 L1010.0,635.7 L1010.7,635.6 L1011.3,636.5 L1012.0,638.0 L1012.6,637.8 L1013.3,637.5 L1013.9,638.2 L1014.6,637.7 L1015.2,637.2 L1015.8,637.2 L1016.5,637.1 L1017.1,637.1 L1017.8,637.8 L1018.4,637.8 L1019.1,635.8 L1019.7,635.4 L1020.3,637.3 L1021.0,638.1 L1021.6,637.7 L1022.3,637.8 L1022.9,638.9 L1023.6,638.7 L1024.2,637.2 L1024.8,637.0 L1025.5,636.4 L1026.1,635.6 L1026.8,636.6 L1027.4,637.0 L1028.1,635.9 L1028.7,636.2 L1029.3,637.7 L1030.0,637.9 L1030.6,637.1 L1031.3,636.3 L1031.9,636.4 L1032.6,637.2 L1033.2,637.5 L1033.8,638.1 L1034.5,638.6 L1035.1,637.4 L1035.8,635.8 L1036.4,636.0 L1037.1,637.4 L1037.7,637.9 L1038.3,637.1 L1039.0,636.7 L1039.6,636.8 L1040.3,636.3 L1040.9,636.2 L1041.6,637.0 L1042.2,638.0 L1042.8,637.7 L1043.5,637.1 L1044.1,636.7 L1044.8,636.4 L1045.4,637.3 L1046.1,637.6 L1046.7,636.0 L1047.3,635.1 L1048.0,634.1 L1048.6,630.4 L1049.3,627.3 L1049.9,625.8 L1050.6,622.9 L1051.2,619.4 L1051.8,618.8 L1052.5,620.5 L1053.1,623.6 L1053.8,628.5 L1054.4,632.2 L1055.1,633.6 L1055.7,633.5 L1056.3,634.3 L1057.0,636.5 L1057.6,636.4 L1058.3,635.5 L1058.9,637.1 L1059.6,638.4 L1060.2,637.4 L1060.8,637.4 L1061.5,639.0 L1062.1,639.0 L1062.8,638.5 L1063.4,637.8 L1064.1,636.4 L1064.7,636.8 L1065.3,638.5 L1066.0,639.3 L1066.6,638.1 L1067.3,636.7 L1067.9,636.3 L1068.6,636.7 L1069.2,637.6 L1069.8,638.0 L1070.5,638.7 L1071.1,639.7 L1071.8,639.4 L1072.4,639.3 L1073.1,639.6 L1073.7,638.9 L1074.3,637.4 L1075.0,636.9 L1075.6,637.5 L1076.3,638.2 L1076.9,638.6 L1077.6,637.3 L1078.2,636.2 L1078.9,637.8 L1079.5,639.0 L1080.1,638.6 L1080.8,638.4 L1081.4,639.1 L1082.1,639.8 L1082.7,639.2 L1083.4,638.2 L1084.0,637.2 L1084.6,637.4 L1085.3,639.3 L1085.9,639.4 L1086.6,638.4 L1087.2,638.6 L1087.9,638.8 L1088.5,638.2 L1089.1,638.4 L1089.8,638.5 L1090.4,637.7 L1091.1,637.6 L1091.7,638.3 L1092.4,638.4 L1093.0,638.5 L1093.6,638.8 L1094.3,638.7 L1094.9,638.1 L1095.6,638.1 L1096.2,638.8 L1096.9,639.0 L1097.5,638.1 L1098.1,638.2 L1098.8,639.0 L1099.4,638.6 L1100.1,638.1 L1100.7,638.3 L1101.4,638.3 L1102.0,637.9 L1102.6,638.2 L1103.3,638.1 L1103.9,637.7 L1104.6,638.3 L1105.2,638.7 L1105.9,639.2 L1106.5,639.7" fill="none" stroke="#0000ff" stroke-width="4.4" stroke-linejoin="round"/>
<path d="M142.0,550.4 L142.6,549.4 L143.3,549.7 L143.9,550.3 L144.6,550.2 L145.2,549.8 L145.9,549.3 L146.5,549.8 L147.1,551.8 L147.8,553.7 L148.4,552.7 L149.1,551.1 L149.7,550.8 L150.4,550.4 L151.0,550.3 L151.6,551.0 L152.3,551.7 L152.9,552.0 L153.6,552.2 L154.2,551.9 L154.9,552.2 L155.5,553.1 L156.1,552.5 L156.8,551.4 L157.4,551.5 L158.1,552.8 L158.7,553.3 L159.4,552.1 L160.0,551.7 L160.6,551.9 L161.3,551.1 L161.9,551.2 L162.6,552.3 L163.2,552.2 L163.9,551.9 L164.5,550.7 L165.1,549.5 L165.8,550.3 L166.4,549.9 L167.1,549.2 L167.7,550.6 L168.4,551.2 L169.0,550.0 L169.6,549.2 L170.3,549.7 L170.9,550.6 L171.6,551.3 L172.2,550.9 L172.9,550.2 L173.5,549.8 L174.1,548.2 L174.8,547.0 L175.4,547.3 L176.1,546.7 L176.7,544.5 L177.4,542.5 L178.0,539.8 L178.7,536.8 L179.3,536.0 L179.9,533.2 L180.6,527.4 L181.2,523.0 L181.9,519.0 L182.5,512.9 L183.2,503.7 L183.8,497.6 L184.4,495.5 L185.1,486.5 L185.7,471.7 L186.4,463.5 L187.0,457.8 L187.7,450.1 L188.3,441.8 L188.9,428.5 L189.6,416.6 L190.2,409.9 L190.9,406.2 L191.5,396.6 L192.2,380.5 L192.8,375.0 L193.4,382.0 L194.1,382.1 L194.7,377.2 L195.4,374.6 L196.0,366.6 L196.7,357.2 L197.3,353.4 L197.9,360.1 L198.6,366.4 L199.2,361.6 L199.9,363.1 L200.5,373.3 L201.2,383.2 L201.8,387.4 L202.4,383.9 L203.1,387.6 L203.7,403.6 L204.4,417.6 L205.0,421.7 L205.7,421.3 L206.3,422.7 L206.9,425.9 L207.6,429.4 L208.2,431.0 L208.9,429.8 L209.5,430.8 L210.2,433.9 L210.8,436.4 L211.4,442.4 L212.1,450.5 L212.7,453.2 L213.4,447.6 L214.0,441.7 L214.7,445.9 L215.3,455.5 L215.9,460.2 L216.6,465.0 L217.2,477.6 L217.9,485.3 L218.5,486.1 L219.2,491.1 L219.8,499.6 L220.4,508.5 L221.1,517.5 L221.7,523.8 L222.4,526.8 L223.0,530.5 L223.7,535.4 L224.3,539.9 L224.9,542.9 L225.6,544.1 L226.2,544.4 L226.9,545.6 L227.5,548.1 L228.2,550.8 L228.8,551.6 L229.4,550.9 L230.1,551.4 L230.7,552.1 L231.4,551.7 L232.0,551.9 L232.7,554.1 L233.3,555.4 L233.9,553.9 L234.6,552.3 L235.2,551.6 L235.9,552.0 L236.5,553.6 L237.2,554.3 L237.8,553.7 L238.4,553.4 L239.1,553.2 L239.7,552.1 L240.4,550.8 L241.0,550.9 L241.7,551.1 L242.3,550.3 L243.0,549.5 L243.6,549.1 L244.2,549.5 L244.9,549.9 L245.5,549.0 L246.2,548.8 L246.8,549.6 L247.5,550.3 L248.1,549.3 L248.7,547.7 L249.4,548.3 L250.0,549.1 L250.7,549.8 L251.3,551.5 L252.0,552.5 L252.6,552.7 L253.2,553.1 L253.9,553.7 L254.5,553.3 L255.2,553.5 L255.8,554.3 L256.5,555.1 L257.1,556.7 L257.7,557.8 L258.4,557.6 L259.0,556.4 L259.7,555.6 L260.3,556.4 L261.0,556.7 L261.6,556.4 L262.2,556.6 L262.9,557.4 L263.5,557.7 L264.2,557.3 L264.8,557.1 L265.5,556.3 L266.1,555.5 L266.7,555.4 L267.4,555.7 L268.0,556.9 L268.7,557.8 L269.3,557.6 L270.0,557.9 L270.6,558.3 L271.2,557.4 L271.9,556.4 L272.5,555.2 L273.2,554.6 L273.8,554.6 L274.5,554.1 L275.1,554.3 L275.7,554.7 L276.4,554.3 L277.0,552.6 L277.7,551.1 L278.3,550.5 L279.0,549.4 L279.6,548.5 L280.2,547.8 L280.9,546.6 L281.5,545.1 L282.2,543.7 L282.8,542.1 L283.5,540.7 L284.1,540.8 L284.7,541.9 L285.4,544.1 L286.0,544.0 L286.7,542.1 L287.3,543.2 L288.0,544.5 L288.6,545.2 L289.2,547.0 L289.9,547.2 L290.5,547.2 L291.2,549.2 L291.8,551.2 L292.5,551.8 L293.1,552.4 L293.7,554.4 L294.4,555.2 L295.0,554.4 L295.7,554.8 L296.3,555.8 L297.0,557.0 L297.6,558.4 L298.2,557.9 L298.9,556.6 L299.5,556.8 L300.2,558.6 L300.8,559.9 L301.5,559.1 L302.1,558.6 L302.7,558.9 L303.4,559.6 L304.0,560.2 L304.7,559.5 L305.3,559.2 L306.0,559.5 L306.6,558.9 L307.3,558.9 L307.9,559.8 L308.5,559.6 L309.2,558.6 L309.8,558.1 L310.5,558.4 L311.1,559.7 L311.8,560.4 L312.4,560.6 L313.0,560.7 L313.7,560.3 L314.3,559.9 L315.0,560.2 L315.6,560.0 L316.3,559.7 L316.9,560.3 L317.5,560.7 L318.2,559.9 L318.8,559.5 L319.5,560.5 L320.1,561.1 L320.8,559.9 L321.4,559.2 L322.0,559.7 L322.7,559.6 L323.3,558.6 L324.0,559.4 L324.6,560.2 L325.3,559.8 L325.9,560.5 L326.5,560.2 L327.2,559.3 L327.8,558.7 L328.5,558.0 L329.1,559.0 L329.8,560.2 L330.4,560.1 L331.0,560.4 L331.7,560.3 L332.3,560.0 L333.0,558.8 L333.6,557.2 L334.3,557.9 L334.9,558.6 L335.5,557.7 L336.2,557.6 L336.8,558.4 L337.5,557.7 L338.1,556.7 L338.8,557.4 L339.4,558.2 L340.0,557.9 L340.7,558.1 L341.3,557.8 L342.0,555.2 L342.6,551.9 L343.3,550.0 L343.9,549.5 L344.5,548.5 L345.2,545.7 L345.8,542.0 L346.5,537.9 L347.1,534.0 L347.8,529.5 L348.4,524.1 L349.0,518.0 L349.7,513.1 L350.3,509.9 L351.0,505.7 L351.6,503.1 L352.3,502.4 L352.9,502.7 L353.5,503.9 L354.2,498.4 L354.8,491.6 L355.5,491.1 L356.1,489.3 L356.8,487.5 L357.4,488.0 L358.0,482.2 L358.7,478.7 L359.3,484.2 L360.0,488.5 L360.6,489.4 L361.3,485.5 L361.9,484.5 L362.5,487.0 L363.2,484.5 L363.8,485.2 L364.5,487.5 L365.1,484.1 L365.8,480.8 L366.4,481.1 L367.0,480.4 L367.7,478.4 L368.3,480.2 L369.0,485.5 L369.6,487.9 L370.3,483.8 L370.9,483.3 L371.6,488.4 L372.2,491.8 L372.8,495.6 L373.5,501.2 L374.1,505.4 L374.8,507.3 L375.4,508.5 L376.1,510.5 L376.7,518.3 L377.3,526.5 L378.0,529.0 L378.6,531.0 L379.3,535.5 L379.9,540.8 L380.6,543.8 L381.2,545.9 L381.8,549.5 L382.5,552.4 L383.1,553.6 L383.8,555.0 L384.4,557.0 L385.1,557.3 L385.7,556.6 L386.3,556.5 L387.0,557.3 L387.6,558.0 L388.3,558.1 L388.9,558.6 L389.6,559.1 L390.2,559.3 L390.8,558.8 L391.5,557.1 L392.1,556.2 L392.8,557.7 L393.4,559.0 L394.1,559.1 L394.7,559.0 L395.3,558.6 L396.0,558.2 L396.6,559.0 L397.3,560.4 L397.9,560.4 L398.6,559.2 L399.2,559.0 L399.8,560.4 L400.5,561.9 L401.1,561.5 L401.8,561.1 L402.4,562.5 L403.1,563.2 L403.7,562.9 L404.3,562.8 L405.0,562.8 L405.6,562.7 L406.3,562.1 L406.9,561.9 L407.6,562.6 L408.2,563.2 L408.8,562.6 L409.5,561.3 L410.1,562.0 L410.8,562.8 L411.4,562.2 L412.1,562.4 L412.7,562.9 L413.3,562.5 L414.0,561.8 L414.6,562.1 L415.3,563.3 L415.9,563.5 L416.6,562.7 L417.2,562.3 L417.8,562.8 L418.5,562.7 L419.1,561.3 L419.8,560.9 L420.4,561.4 L421.1,561.3 L421.7,561.5 L422.3,562.4 L423.0,562.3 L423.6,562.0 L424.3,561.9 L424.9,561.6 L425.6,561.6 L426.2,561.0 L426.8,561.1 L427.5,562.3 L428.1,562.1 L428.8,561.6 L429.4,562.1 L430.1,562.7 L430.7,562.7 L431.3,563.0 L432.0,563.1 L432.6,562.3 L433.3,561.8 L433.9,562.5 L434.6,563.7 L435.2,564.4 L435.9,564.1 L436.5,563.1 L437.1,562.9 L437.8,563.2 L438.4,563.1 L439.1,563.5 L439.7,563.4 L440.4,562.5 L441.0,562.5 L441.6,563.4 L442.3,565.1 L442.9,565.5 L443.6,563.8 L444.2,562.0 L444.9,561.3 L445.5,562.2 L446.1,562.6 L446.8,562.4 L447.4,562.5 L448.1,562.0 L448.7,562.3 L449.4,562.5 L450.0,562.4 L450.6,563.6 L451.3,563.6 L451.9,561.8 L452.6,561.7 L453.2,562.9 L453.9,562.8 L454.5,562.0 L455.1,562.3 L455.8,562.8 L456.4,563.2 L457.1,563.8 L457.7,564.4 L458.4,565.1 L459.0,565.1 L459.6,564.5 L460.3,564.7 L460.9,564.8 L461.6,563.7 L462.2,562.8 L462.9,563.3 L463.5,564.1 L464.1,564.4 L464.8,564.0 L465.4,563.6 L466.1,564.2 L466.7,564.5 L467.4,563.7 L468.0,563.0 L468.6,563.0 L469.3,562.8 L469.9,562.9 L470.6,563.1 L471.2,563.9 L471.9,564.3 L472.5,563.3 L473.1,562.6 L473.8,562.8 L474.4,562.6 L475.1,561.6 L475.7,561.4 L476.4,562.1 L477.0,562.4 L477.6,561.8 L478.3,560.7 L478.9,560.4 L479.6,561.4 L480.2,561.8 L480.9,560.7 L481.5,559.5 L482.1,558.3 L482.8,556.6 L483.4,555.6 L484.1,555.2 L484.7,554.5 L485.4,552.7 L486.0,551.3 L486.6,552.3 L487.3,552.1 L487.9,549.5 L488.6,548.1 L489.2,547.9 L489.9,546.5 L490.5,545.7 L491.1,546.8 L491.8,547.5 L492.4,548.2 L493.1,548.3 L493.7,548.2 L494.4,549.9 L495.0,551.4 L495.6,551.5 L496.3,552.3 L496.9,553.0 L497.6,554.4 L498.2,557.4 L498.9,558.8 L499.5,559.3 L500.2,559.9 L500.8,559.7 L501.4,560.9 L502.1,563.0 L502.7,562.2 L503.4,559.2 L504.0,558.3 L504.7,560.8 L505.3,563.0 L505.9,562.9 L506.6,563.0 L507.2,563.3 L507.9,563.0 L508.5,563.5 L509.2,564.4 L509.8,564.4 L510.4,563.9 L511.1,563.6 L511.7,563.7 L512.4,564.2 L513.0,565.7 L513.7,566.1 L514.3,563.5 L514.9,561.8 L515.6,562.9 L516.2,564.5 L516.9,565.4 L517.5,565.0 L518.2,563.6 L518.8,563.7 L519.4,564.3 L520.1,564.2 L520.7,564.5 L521.4,564.7 L522.0,564.9 L522.7,565.3 L523.3,565.4 L523.9,564.7 L524.6,563.9 L525.2,564.1 L525.9,564.4 L526.5,564.9 L527.2,565.2 L527.8,564.2 L528.4,563.2 L529.1,563.2 L529.7,563.9 L530.4,564.2 L531.0,564.1 L531.7,564.6 L532.3,564.4 L532.9,563.1 L533.6,562.5 L534.2,563.4 L534.9,563.2 L535.5,562.4 L536.2,563.8 L536.8,564.7 L537.4,563.6 L538.1,563.8 L538.7,564.8 L539.4,563.5 L540.0,561.4 L540.7,561.0 L541.3,561.1 L541.9,559.9 L542.6,559.3 L543.2,560.3 L543.9,560.8 L544.5,560.7 L545.2,561.2 L545.8,561.5 L546.4,560.7 L547.1,560.3 L547.7,561.7 L548.4,562.2 L549.0,561.9 L549.7,562.1 L550.3,561.6 L550.9,561.4 L551.6,561.9 L552.2,561.7 L552.9,561.7 L553.5,561.8 L554.2,561.5 L554.8,560.8 L555.4,561.5 L556.1,563.1 L556.7,563.4 L557.4,562.9 L558.0,563.0 L558.7,563.0 L559.3,562.2 L559.9,562.3 L560.6,563.0 L561.2,563.1 L561.9,563.3 L562.5,563.9 L563.2,564.1 L563.8,564.8 L564.5,566.1 L565.1,566.4 L565.7,565.8 L566.4,564.8 L567.0,563.5 L567.7,563.0 L568.3,562.7 L569.0,562.3 L569.6,563.2 L570.2,565.1 L570.9,565.9 L571.5,564.8 L572.2,563.5 L572.8,563.1 L573.5,563.0 L574.1,563.1 L574.7,563.1 L575.4,563.9 L576.0,564.8 L576.7,564.4 L577.3,563.7 L578.0,561.9 L578.6,561.0 L579.2,562.2 L579.9,562.1 L580.5,560.4 L581.2,559.3 L581.8,558.8 L582.5,559.8 L583.1,561.1 L583.7,560.7 L584.4,559.7 L585.0,559.8 L585.7,561.4 L586.3,562.6 L587.0,562.6 L587.6,561.7 L588.2,561.7 L588.9,562.9 L589.5,562.5 L590.2,562.0 L590.8,561.3 L591.5,560.0 L592.1,560.3 L592.7,561.2 L593.4,561.8 L594.0,562.3 L594.7,560.7 L595.3,558.7 L596.0,559.2 L596.6,560.3 L597.2,559.8 L597.9,558.5 L598.5,558.6 L599.2,560.6 L599.8,561.5 L600.5,560.6 L601.1,560.8 L601.7,561.4 L602.4,560.4 L603.0,561.9 L603.7,564.4 L604.3,563.9 L605.0,562.9 L605.6,563.2 L606.2,563.7 L606.9,563.4 L607.5,563.6 L608.2,563.6 L608.8,563.4 L609.5,563.5 L610.1,562.6 L610.7,562.3 L611.4,562.8 L612.0,562.8 L612.7,563.2 L613.3,563.0 L614.0,561.5 L614.6,560.2 L615.2,559.5 L615.9,559.5 L616.5,559.4 L617.2,558.5 L617.8,557.5 L618.5,556.0 L619.1,554.9 L619.7,554.5 L620.4,553.1 L621.0,553.2 L621.7,553.4 L622.3,551.4 L623.0,549.9 L623.6,549.1 L624.2,548.8 L624.9,548.9 L625.5,549.7 L626.2,550.6 L626.8,552.3 L627.5,553.7 L628.1,553.4 L628.8,552.8 L629.4,552.3 L630.0,551.5 L630.7,550.4 L631.3,550.3 L632.0,553.1 L632.6,555.6 L633.3,555.2 L633.9,555.3 L634.5,556.7 L635.2,556.4 L635.8,555.7 L636.5,556.0 L637.1,557.1 L637.8,559.8 L638.4,561.9 L639.0,561.2 L639.7,560.4 L640.3,561.1 L641.0,561.6 L641.6,561.7 L642.3,563.3 L642.9,564.8 L643.5,565.1 L644.2,564.7 L644.8,563.3 L645.5,563.6 L646.1,565.9 L646.8,566.1 L647.4,564.7 L648.0,565.1 L648.7,565.9 L649.3,566.2 L650.0,565.9 L650.6,565.5 L651.3,565.8 L651.9,566.0 L652.5,565.2 L653.2,563.3 L653.8,562.6 L654.5,563.5 L655.1,564.5 L655.8,565.8 L656.4,566.7 L657.0,566.3 L657.7,565.8 L658.3,566.4 L659.0,566.7 L659.6,566.2 L660.3,566.7 L660.9,567.0 L661.5,567.0 L662.2,566.9 L662.8,566.3 L663.5,566.0 L664.1,565.2 L664.8,564.5 L665.4,564.8 L666.0,565.3 L666.7,565.1 L667.3,564.8 L668.0,565.0 L668.6,566.5 L669.3,567.2 L669.9,566.6 L670.5,566.4 L671.2,566.5 L671.8,566.2 L672.5,564.1 L673.1,562.7 L673.8,563.5 L674.4,562.5 L675.0,560.5 L675.7,559.3 L676.3,558.6 L677.0,558.3 L677.6,558.6 L678.3,559.6 L678.9,558.1 L679.5,554.7 L680.2,553.5 L680.8,553.3 L681.5,552.9 L682.1,553.8 L682.8,554.2 L683.4,553.5 L684.0,553.9 L684.7,555.6 L685.3,557.3 L686.0,557.1 L686.6,555.9 L687.3,555.0 L687.9,554.1 L688.5,553.4 L689.2,553.1 L689.8,552.6 L690.5,550.8 L691.1,549.9 L691.8,550.8 L692.4,550.2 L693.1,548.0 L693.7,547.7 L694.3,548.7 L695.0,548.3 L695.6,547.4 L696.3,547.7 L696.9,549.0 L697.6,550.5 L698.2,549.5 L698.8,546.3 L699.5,545.6 L700.1,548.7 L700.8,550.8 L701.4,550.6 L702.1,549.9 L702.7,548.0 L703.3,547.1 L704.0,548.6 L704.6,549.4 L705.3,548.3 L705.9,547.2 L706.6,547.5 L707.2,548.8 L707.8,549.6 L708.5,549.4 L709.1,549.2 L709.8,550.9 L710.4,553.0 L711.1,552.7 L711.7,551.4 L712.3,551.0 L713.0,552.5 L713.6,553.7 L714.3,552.0 L714.9,552.1 L715.6,554.5 L716.2,555.1 L716.8,554.3 L717.5,554.5 L718.1,555.2 L718.8,555.0 L719.4,555.3 L720.1,556.2 L720.7,556.8 L721.3,556.7 L722.0,556.4 L722.6,556.9 L723.3,556.5 L723.9,557.1 L724.6,559.2 L725.2,560.3 L725.8,561.0 L726.5,562.2 L727.1,563.9 L727.8,563.7 L728.4,563.2 L729.1,564.6 L729.7,565.5 L730.3,565.3 L731.0,566.7 L731.6,568.2 L732.3,567.8 L732.9,566.5 L733.6,566.4 L734.2,566.4 L734.8,564.7 L735.5,563.7 L736.1,564.9 L736.8,566.7 L737.4,568.2 L738.1,567.7 L738.7,566.2 L739.3,566.3 L740.0,567.1 L740.6,566.8 L741.3,566.7 L741.9,567.3 L742.6,567.7 L743.2,567.8 L743.8,568.3 L744.5,569.4 L745.1,568.9 L745.8,568.1 L746.4,569.2 L747.1,569.4 L747.7,568.6 L748.3,567.9 L749.0,567.9 L749.6,568.2 L750.3,568.4 L750.9,568.9 L751.6,568.4 L752.2,567.4 L752.8,567.8 L753.5,568.8 L754.1,568.7 L754.8,567.9 L755.4,567.6 L756.1,567.4 L756.7,566.7 L757.4,567.3 L758.0,568.6 L758.6,568.4 L759.3,567.7 L759.9,568.1 L760.6,569.5 L761.2,569.9 L761.9,568.8 L762.5,568.1 L763.1,568.4 L763.8,569.5 L764.4,569.2 L765.1,568.3 L765.7,568.9 L766.4,569.0 L767.0,568.7 L767.6,568.2 L768.3,567.4 L768.9,567.6 L769.6,568.2 L770.2,567.7 L770.9,567.9 L771.5,568.9 L772.1,568.1 L772.8,566.8 L773.4,566.9 L774.1,567.9 L774.7,568.2 L775.4,567.8 L776.0,566.8 L776.6,565.2 L777.3,564.8 L777.9,564.9 L778.6,565.0 L779.2,564.0 L779.9,563.7 L780.5,564.8 L781.1,563.4 L781.8,562.3 L782.4,562.7 L783.1,562.0 L783.7,559.2 L784.4,556.1 L785.0,556.8 L785.6,558.4 L786.3,557.4 L786.9,555.7 L787.6,556.2 L788.2,559.1 L788.9,559.8 L789.5,558.8 L790.1,559.4 L790.8,559.8 L791.4,559.8 L792.1,560.8 L792.7,562.3 L793.4,563.5 L794.0,564.0 L794.6,563.2 L795.3,562.7 L795.9,562.9 L796.6,562.1 L797.2,562.2 L797.9,563.4 L798.5,563.2 L799.1,563.2 L799.8,563.1 L800.4,562.6 L801.1,563.3 L801.7,563.8 L802.4,563.7 L803.0,563.6 L803.6,562.4 L804.3,561.8 L804.9,562.9 L805.6,564.3 L806.2,565.6 L806.9,565.8 L807.5,565.4 L808.1,566.4 L808.8,567.8 L809.4,568.0 L810.1,567.4 L810.7,566.9 L811.4,566.4 L812.0,566.4 L812.6,566.7 L813.3,566.4 L813.9,565.7 L814.6,564.2 L815.2,562.9 L815.9,562.9 L816.5,564.4 L817.1,566.2 L817.8,565.7 L818.4,563.2 L819.1,562.7 L819.7,564.3 L820.4,564.2 L821.0,563.6 L821.7,564.7 L822.3,565.7 L822.9,566.1 L823.6,566.3 L824.2,566.4 L824.9,566.0 L825.5,565.3 L826.2,565.5 L826.8,566.4 L827.4,567.1 L828.1,566.3 L828.7,566.3 L829.4,568.3 L830.0,569.8 L830.7,570.3 L831.3,569.3 L831.9,567.6 L832.6,567.4 L833.2,568.1 L833.9,567.9 L834.5,567.3 L835.2,568.3 L835.8,569.0 L836.4,568.6 L837.1,569.4 L837.7,570.2 L838.4,570.2 L839.0,570.5 L839.7,570.7 L840.3,570.2 L840.9,569.7 L841.6,569.7 L842.2,570.0 L842.9,569.3 L843.5,569.0 L844.2,569.5 L844.8,569.4 L845.4,570.0 L846.1,570.5 L846.7,570.1 L847.4,570.0 L848.0,570.6 L848.7,569.9 L849.3,568.2 L849.9,568.6 L850.6,570.3 L851.2,569.7 L851.9,567.7 L852.5,567.9 L853.2,568.8 L853.8,569.2 L854.4,569.7 L855.1,570.2 L855.7,569.7 L856.4,569.3 L857.0,570.5 L857.7,571.2 L858.3,570.4 L858.9,570.9 L859.6,571.3 L860.2,570.7 L860.9,569.6 L861.5,568.6 L862.2,569.1 L862.8,570.5 L863.4,571.4 L864.1,571.6 L864.7,571.5 L865.4,570.8 L866.0,569.5 L866.7,569.0 L867.3,569.9 L867.9,570.5 L868.6,569.7 L869.2,568.7 L869.9,568.5 L870.5,568.8 L871.2,569.2 L871.8,569.2 L872.4,569.7 L873.1,570.3 L873.7,570.8 L874.4,570.7 L875.0,569.0 L875.7,568.4 L876.3,570.5 L876.9,572.1 L877.6,571.8 L878.2,571.1 L878.9,570.7 L879.5,570.0 L880.2,569.0 L880.8,569.5 L881.4,570.1 L882.1,570.7 L882.7,570.9 L883.4,569.6 L884.0,569.7 L884.7,570.7 L885.3,569.8 L886.0,568.7 L886.6,568.5 L887.2,569.8 L887.9,571.3 L888.5,571.4 L889.2,570.7 L889.8,570.4 L890.5,570.8 L891.1,570.4 L891.7,569.5 L892.4,569.7 L893.0,570.8 L893.7,571.3 L894.3,571.0 L895.0,571.5 L895.6,571.8 L896.2,570.1 L896.9,569.6 L897.5,570.9 L898.2,571.1 L898.8,570.6 L899.5,570.5 L900.1,570.5 L900.7,570.6 L901.4,570.7 L902.0,570.5 L902.7,569.6 L903.3,569.5 L904.0,570.1 L904.6,570.5 L905.2,570.9 L905.9,570.6 L906.5,570.2 L907.2,570.3 L907.8,569.7 L908.5,568.8 L909.1,568.8 L909.7,569.4 L910.4,570.0 L911.0,570.9 L911.7,571.6 L912.3,572.1 L913.0,572.7 L913.6,572.2 L914.2,571.6 L914.9,572.3 L915.5,572.0 L916.2,570.9 L916.8,571.2 L917.5,571.7 L918.1,571.7 L918.7,571.7 L919.4,571.7 L920.0,571.3 L920.7,570.9 L921.3,570.8 L922.0,570.9 L922.6,570.5 L923.2,569.9 L923.9,570.9 L924.5,572.1 L925.2,571.7 L925.8,571.2 L926.5,570.9 L927.1,570.1 L927.7,569.8 L928.4,570.2 L929.0,571.0 L929.7,571.2 L930.3,570.9 L931.0,570.7 L931.6,569.8 L932.2,569.7 L932.9,571.0 L933.5,571.5 L934.2,570.1 L934.8,569.2 L935.5,570.4 L936.1,570.7 L936.7,569.7 L937.4,569.5 L938.0,570.1 L938.7,571.0 L939.3,571.0 L940.0,571.0 L940.6,572.2 L941.2,571.7 L941.9,571.0 L942.5,571.4 L943.2,572.2 L943.8,573.2 L944.5,572.6 L945.1,571.0 L945.7,570.4 L946.4,570.4 L947.0,570.9 L947.7,571.2 L948.3,571.5 L949.0,572.0 L949.6,571.6 L950.3,571.3 L950.9,571.0 L951.5,569.6 L952.2,569.9 L952.8,571.2 L953.5,571.4 L954.1,571.3 L954.8,571.2 L955.4,570.8 L956.0,570.3 L956.7,569.3 L957.3,569.7 L958.0,571.0 L958.6,570.6 L959.3,570.8 L959.9,572.3 L960.5,572.3 L961.2,570.9 L961.8,570.5 L962.5,570.5 L963.1,570.5 L963.8,571.2 L964.4,571.4 L965.0,571.4 L965.7,571.8 L966.3,572.4 L967.0,573.1 L967.6,571.9 L968.3,570.3 L968.9,570.1 L969.5,569.4 L970.2,569.0 L970.8,569.9 L971.5,569.7 L972.1,569.8 L972.8,570.3 L973.4,569.3 L974.0,568.8 L974.7,569.9 L975.3,570.8 L976.0,569.7 L976.6,568.2 L977.3,568.3 L977.9,570.0 L978.5,571.5 L979.2,571.6 L979.8,571.4 L980.5,571.2 L981.1,570.6 L981.8,570.8 L982.4,570.7 L983.0,570.0 L983.7,570.5 L984.3,570.8 L985.0,570.6 L985.6,571.5 L986.3,572.4 L986.9,572.0 L987.5,571.1 L988.2,571.6 L988.8,572.8 L989.5,572.2 L990.1,571.2 L990.8,571.9 L991.4,572.6 L992.0,572.1 L992.7,572.7 L993.3,573.6 L994.0,572.5 L994.6,571.1 L995.3,570.5 L995.9,571.3 L996.5,572.4 L997.2,571.6 L997.8,570.3 L998.5,570.5 L999.1,571.6 L999.8,571.9 L1000.4,571.7 L1001.0,571.7 L1001.7,571.7 L1002.3,572.0 L1003.0,572.4 L1003.6,572.2 L1004.3,571.5 L1004.9,571.6 L1005.5,571.5 L1006.2,571.0 L1006.8,571.6 L1007.5,572.6 L1008.1,572.7 L1008.8,572.0 L1009.4,571.6 L1010.0,571.5 L1010.7,571.2 L1011.3,571.5 L1012.0,572.1 L1012.6,571.7 L1013.3,571.0 L1013.9,570.3 L1014.6,570.3 L1015.2,571.4 L1015.8,571.8 L1016.5,571.3 L1017.1,571.0 L1017.8,571.5 L1018.4,572.4 L1019.1,572.2 L1019.7,571.4 L1020.3,571.8 L1021.0,571.7 L1021.6,571.3 L1022.3,571.7 L1022.9,571.6 L1023.6,571.2 L1024.2,571.2 L1024.8,571.7 L1025.5,571.8 L1026.1,571.3 L1026.8,570.8 L1027.4,571.2 L1028.1,572.3 L1028.7,572.9 L1029.3,572.7 L1030.0,572.8 L1030.6,571.8 L1031.3,571.1 L1031.9,571.4 L1032.6,571.3 L1033.2,572.0 L1033.8,572.5 L1034.5,571.7 L1035.1,572.3 L1035.8,573.4 L1036.4,572.7 L1037.1,571.9 L1037.7,571.9 L1038.3,571.3 L1039.0,571.0 L1039.6,570.1 L1040.3,569.4 L1040.9,570.1 L1041.6,569.3 L1042.2,568.6 L1042.8,569.3 L1043.5,568.6 L1044.1,567.4 L1044.8,567.0 L1045.4,566.0 L1046.1,564.8 L1046.7,563.9 L1047.3,564.0 L1048.0,564.7 L1048.6,564.5 L1049.3,564.3 L1049.9,564.0 L1050.6,562.7 L1051.2,561.5 L1051.8,562.5 L1052.5,563.9 L1053.1,563.7 L1053.8,563.3 L1054.4,563.7 L1055.1,564.5 L1055.7,565.3 L1056.3,565.5 L1057.0,565.6 L1057.6,565.6 L1058.3,566.5 L1058.9,568.3 L1059.6,569.7 L1060.2,570.2 L1060.8,569.6 L1061.5,569.5 L1062.1,570.7 L1062.8,570.7 L1063.4,570.2 L1064.1,571.4 L1064.7,572.7 L1065.3,572.5 L1066.0,570.9 L1066.6,570.6 L1067.3,571.2 L1067.9,570.5 L1068.6,570.3 L1069.2,570.5 L1069.8,570.1 L1070.5,570.2 L1071.1,571.6 L1071.8,573.0 L1072.4,573.1 L1073.1,572.6 L1073.7,572.7 L1074.3,573.4 L1075.0,573.6 L1075.6,572.7 L1076.3,571.7 L1076.9,571.6 L1077.6,571.8 L1078.2,572.3 L1078.9,572.3 L1079.5,571.7 L1080.1,572.6 L1080.8,573.6 L1081.4,573.5 L1082.1,572.8 L1082.7,571.8 L1083.4,571.3 L1084.0,571.5 L1084.6,572.7 L1085.3,573.7 L1085.9,573.4 L1086.6,572.4 L1087.2,572.0 L1087.9,572.5 L1088.5,571.9 L1089.1,570.5 L1089.8,570.5 L1090.4,571.4 L1091.1,572.5 L1091.7,573.6 L1092.4,573.0 L1093.0,571.8 L1093.6,572.6 L1094.3,573.4 L1094.9,572.9 L1095.6,573.2 L1096.2,573.9 L1096.9,574.3 L1097.5,573.6 L1098.1,572.9 L1098.8,573.1 L1099.4,573.4 L1100.1,573.6 L1100.7,573.9 L1101.4,574.3 L1102.0,573.7 L1102.6,572.9 L1103.3,572.6 L1103.9,572.8 L1104.6,573.0 L1105.2,573.4 L1105.9,573.5 L1106.5,572.9" fill="none" stroke="#ff0000" stroke-width="4.4" stroke-linejoin="round"/>
<path d="M142.0,497.3 L142.6,498.6 L143.3,500.0 L143.9,499.3 L144.6,497.9 L145.2,498.1 L145.9,498.7 L146.5,498.5 L147.1,498.2 L147.8,499.0 L148.4,500.3 L149.1,500.9 L149.7,500.6 L150.4,499.6 L151.0,499.6 L151.6,500.2 L152.3,499.6 L152.9,499.9 L153.6,499.8 L154.2,499.0 L154.9,499.0 L155.5,499.5 L156.1,500.1 L156.8,500.8 L157.4,500.6 L158.1,499.5 L158.7,499.3 L159.4,500.0 L160.0,499.9 L160.6,499.0 L161.3,499.5 L161.9,500.0 L162.6,499.9 L163.2,500.8 L163.9,501.5 L164.5,501.8 L165.1,501.4 L165.8,500.0 L166.4,499.7 L167.1,500.6 L167.7,501.6 L168.4,501.5 L169.0,500.4 L169.6,499.8 L170.3,499.8 L170.9,500.1 L171.6,500.4 L172.2,501.5 L172.9,502.2 L173.5,501.0 L174.1,500.4 L174.8,500.3 L175.4,499.4 L176.1,499.0 L176.7,499.3 L177.4,498.4 L178.0,497.2 L178.7,496.6 L179.3,495.0 L179.9,493.2 L180.6,492.1 L181.2,490.2 L181.9,487.5 L182.5,483.7 L183.2,480.1 L183.8,476.2 L184.4,472.7 L185.1,470.1 L185.7,464.6 L186.4,461.2 L187.0,461.2 L187.7,455.2 L188.3,449.2 L188.9,445.5 L189.6,434.0 L190.2,412.8 L190.9,383.4 L191.5,355.6 L192.2,347.6 L192.8,364.7 L193.4,390.0 L194.1,405.5 L194.7,410.2 L195.4,404.0 L196.0,395.5 L196.7,399.6 L197.3,403.8 L197.9,396.6 L198.6,376.0 L199.2,351.6 L199.9,342.3 L200.5,358.1 L201.2,386.2 L201.8,411.2 L202.4,427.6 L203.1,433.7 L203.7,436.5 L204.4,439.5 L205.0,439.1 L205.7,437.4 L206.3,436.8 L206.9,438.3 L207.6,440.9 L208.2,440.9 L208.9,439.4 L209.5,436.4 L210.2,429.9 L210.8,417.3 L211.4,399.2 L212.1,383.2 L212.7,374.7 L213.4,385.4 L214.0,408.9 L214.7,427.9 L215.3,442.2 L215.9,452.0 L216.6,455.2 L217.2,457.5 L217.9,460.8 L218.5,464.9 L219.2,470.7 L219.8,474.1 L220.4,478.1 L221.1,484.5 L221.7,487.4 L222.4,487.9 L223.0,490.3 L223.7,493.8 L224.3,495.8 L224.9,496.3 L225.6,497.9 L226.2,499.9 L226.9,500.9 L227.5,501.7 L228.2,501.7 L228.8,500.9 L229.4,500.1 L230.1,500.1 L230.7,502.0 L231.4,503.4 L232.0,503.1 L232.7,503.9 L233.3,504.3 L233.9,503.4 L234.6,503.0 L235.2,502.7 L235.9,502.2 L236.5,502.4 L237.2,503.0 L237.8,503.6 L238.4,503.3 L239.1,502.6 L239.7,502.5 L240.4,501.9 L241.0,501.7 L241.7,501.8 L242.3,501.0 L243.0,499.9 L243.6,498.0 L244.2,494.2 L244.9,489.0 L245.5,483.1 L246.2,475.7 L246.8,467.4 L247.5,461.1 L248.1,453.4 L248.7,451.1 L249.4,463.2 L250.0,476.8 L250.7,484.2 L251.3,489.3 L252.0,494.8 L252.6,499.6 L253.2,501.9 L253.9,502.5 L254.5,503.2 L255.2,504.1 L255.8,503.5 L256.5,502.6 L257.1,503.3 L257.7,503.7 L258.4,503.7 L259.0,504.1 L259.7,502.8 L260.3,502.1 L261.0,504.3 L261.6,505.2 L262.2,504.1 L262.9,503.7 L263.5,503.5 L264.2,503.3 L264.8,503.7 L265.5,503.9 L266.1,503.4 L266.7,503.0 L267.4,503.7 L268.0,505.3 L268.7,505.8 L269.3,505.1 L270.0,504.0 L270.6,503.7 L271.2,505.0 L271.9,505.0 L272.5,503.9 L273.2,503.5 L273.8,502.6 L274.5,503.0 L275.1,503.5 L275.7,502.2 L276.4,501.9 L277.0,503.3 L277.7,503.7 L278.3,503.3 L279.0,502.9 L279.6,502.1 L280.2,501.3 L280.9,498.6 L281.5,494.1 L282.2,488.4 L282.8,481.3 L283.5,474.7 L284.1,466.7 L284.7,457.3 L285.4,453.0 L286.0,457.0 L286.7,467.3 L287.3,478.6 L288.0,487.3 L288.6,493.5 L289.2,498.0 L289.9,500.1 L290.5,500.4 L291.2,501.7 L291.8,504.0 L292.5,504.5 L293.1,504.3 L293.7,504.6 L294.4,504.1 L295.0,503.2 L295.7,503.4 L296.3,504.6 L297.0,505.5 L297.6,505.9 L298.2,505.9 L298.9,505.4 L299.5,505.7 L300.2,506.0 L300.8,505.4 L301.5,505.1 L302.1,505.6 L302.7,506.3 L303.4,507.1 L304.0,507.2 L304.7,506.6 L305.3,506.1 L306.0,505.7 L306.6,505.8 L307.3,506.5 L307.9,507.2 L308.5,506.6 L309.2,505.8 L309.8,506.1 L310.5,506.1 L311.1,505.5 L311.8,505.0 L312.4,506.0 L313.0,507.6 L313.7,507.3 L314.3,506.2 L315.0,504.9 L315.6,504.5 L316.3,505.3 L316.9,506.0 L317.5,506.1 L318.2,505.7 L318.8,506.5 L319.5,507.0 L320.1,506.2 L320.8,506.0 L321.4,505.7 L322.0,506.0 L322.7,507.1 L323.3,507.2 L324.0,506.2 L324.6,506.3 L325.3,506.5 L325.9,505.6 L326.5,505.3 L327.2,505.2 L327.8,505.5 L328.5,506.6 L329.1,507.9 L329.8,508.9 L330.4,508.6 L331.0,507.6 L331.7,506.4 L332.3,505.9 L333.0,505.3 L333.6,505.1 L334.3,506.3 L334.9,505.8 L335.5,504.9 L336.2,505.7 L336.8,507.0 L337.5,507.2 L338.1,506.3 L338.8,506.0 L339.4,505.3 L340.0,504.6 L340.7,504.6 L341.3,503.8 L342.0,502.7 L342.6,502.2 L343.3,500.5 L343.9,498.8 L344.5,496.7 L345.2,494.3 L345.8,493.0 L346.5,491.1 L347.1,487.6 L347.8,486.1 L348.4,484.9 L349.0,480.7 L349.7,477.7 L350.3,475.3 L351.0,471.5 L351.6,467.3 L352.3,462.5 L352.9,457.3 L353.5,448.6 L354.2,439.6 L354.8,434.4 L355.5,427.8 L356.1,423.5 L356.8,426.3 L357.4,434.1 L358.0,443.1 L358.7,451.2 L359.3,455.2 L360.0,454.9 L360.6,457.6 L361.3,461.3 L361.9,461.1 L362.5,461.2 L363.2,461.3 L363.8,457.7 L364.5,451.7 L365.1,445.6 L365.8,438.1 L366.4,422.0 L367.0,399.8 L367.7,381.1 L368.3,370.3 L369.0,375.7 L369.6,388.2 L370.3,401.2 L370.9,415.4 L371.6,431.3 L372.2,447.3 L372.8,456.7 L373.5,462.5 L374.1,467.2 L374.8,469.2 L375.4,471.2 L376.1,473.5 L376.7,478.2 L377.3,484.1 L378.0,485.8 L378.6,487.4 L379.3,489.1 L379.9,489.6 L380.6,493.3 L381.2,496.7 L381.8,498.4 L382.5,499.8 L383.1,500.5 L383.8,502.7 L384.4,503.9 L385.1,502.5 L385.7,502.8 L386.3,504.2 L387.0,504.2 L387.6,503.3 L388.3,502.4 L388.9,500.0 L389.6,496.6 L390.2,494.1 L390.8,491.5 L391.5,489.8 L392.1,492.6 L392.8,497.8 L393.4,501.8 L394.1,503.6 L394.7,503.6 L395.3,504.5 L396.0,506.0 L396.6,506.5 L397.3,506.9 L397.9,506.8 L398.6,505.5 L399.2,504.5 L399.8,506.0 L400.5,508.3 L401.1,508.9 L401.8,508.3 L402.4,507.2 L403.1,506.5 L403.7,506.7 L404.3,507.3 L405.0,507.7 L405.6,508.4 L406.3,508.6 L406.9,507.8 L407.6,507.2 L408.2,507.1 L408.8,507.7 L409.5,507.6 L410.1,507.4 L410.8,508.3 L411.4,508.9 L412.1,508.1 L412.7,506.8 L413.3,506.7 L414.0,507.1 L414.6,507.0 L415.3,507.0 L415.9,507.8 L416.6,508.0 L417.2,507.8 L417.8,508.7 L418.5,508.8 L419.1,507.9 L419.8,509.1 L420.4,509.8 L421.1,508.5 L421.7,507.6 L422.3,507.2 L423.0,507.5 L423.6,507.9 L424.3,507.7 L424.9,507.1 L425.6,506.8 L426.2,507.1 L426.8,507.1 L427.5,507.2 L428.1,507.2 L428.8,507.1 L429.4,507.7 L430.1,507.5 L430.7,506.6 L431.3,507.1 L432.0,507.2 L432.6,506.5 L433.3,506.3 L433.9,506.7 L434.6,507.4 L435.2,507.6 L435.9,507.7 L436.5,508.1 L437.1,508.2 L437.8,508.8 L438.4,508.8 L439.1,508.1 L439.7,509.4 L440.4,510.1 L441.0,509.0 L441.6,508.5 L442.3,508.5 L442.9,508.3 L443.6,508.1 L444.2,508.2 L444.9,509.1 L445.5,509.4 L446.1,509.4 L446.8,510.0 L447.4,510.2 L448.1,509.2 L448.7,509.0 L449.4,510.2 L450.0,509.5 L450.6,507.1 L451.3,506.8 L451.9,508.2 L452.6,509.6 L453.2,509.8 L453.9,509.0 L454.5,509.0 L455.1,508.8 L455.8,508.2 L456.4,508.6 L457.1,508.8 L457.7,508.7 L458.4,508.3 L459.0,507.5 L459.6,507.6 L460.3,508.5 L460.9,508.8 L461.6,509.0 L462.2,509.4 L462.9,508.5 L463.5,507.6 L464.1,508.0 L464.8,508.5 L465.4,509.1 L466.1,509.9 L466.7,510.1 L467.4,510.1 L468.0,509.7 L468.6,509.4 L469.3,509.5 L469.9,509.1 L470.6,508.6 L471.2,508.2 L471.9,508.4 L472.5,508.8 L473.1,509.7 L473.8,511.3 L474.4,511.7 L475.1,510.5 L475.7,509.5 L476.4,509.5 L477.0,509.0 L477.6,508.4 L478.3,508.4 L478.9,508.3 L479.6,508.6 L480.2,509.2 L480.9,508.5 L481.5,508.1 L482.1,508.4 L482.8,507.5 L483.4,506.6 L484.1,506.9 L484.7,507.7 L485.4,507.5 L486.0,506.1 L486.6,503.6 L487.3,500.8 L487.9,497.1 L488.6,490.5 L489.2,483.1 L489.9,476.5 L490.5,473.1 L491.1,475.4 L491.8,478.7 L492.4,483.2 L493.1,491.3 L493.7,497.4 L494.4,501.9 L495.0,504.9 L495.6,505.8 L496.3,506.9 L496.9,508.0 L497.6,507.9 L498.2,507.8 L498.9,508.4 L499.5,508.2 L500.2,508.2 L500.8,509.4 L501.4,508.7 L502.1,507.0 L502.7,508.2 L503.4,510.8 L504.0,511.2 L504.7,509.4 L505.3,508.0 L505.9,508.9 L506.6,510.2 L507.2,510.0 L507.9,509.1 L508.5,509.1 L509.2,509.8 L509.8,509.8 L510.4,509.9 L511.1,510.7 L511.7,511.1 L512.4,510.5 L513.0,509.2 L513.7,508.8 L514.3,510.2 L514.9,510.8 L515.6,509.2 L516.2,507.8 L516.9,508.5 L517.5,510.4 L518.2,511.6 L518.8,511.3 L519.4,510.9 L520.1,511.2 L520.7,510.7 L521.4,509.1 L522.0,508.3 L522.7,508.5 L523.3,509.0 L523.9,509.5 L524.6,509.4 L525.2,509.1 L525.9,509.2 L526.5,510.0 L527.2,510.9 L527.8,511.2 L528.4,512.2 L529.1,511.6 L529.7,509.9 L530.4,510.4 L531.0,510.1 L531.7,509.1 L532.3,509.7 L532.9,510.1 L533.6,509.7 L534.2,509.3 L534.9,509.5 L535.5,509.9 L536.2,509.4 L536.8,508.9 L537.4,508.6 L538.1,508.3 L538.7,507.3 L539.4,506.3 L540.0,506.7 L540.7,506.2 L541.3,504.8 L541.9,503.6 L542.6,503.4 L543.2,504.9 L543.9,505.4 L544.5,506.5 L545.2,508.5 L545.8,509.4 L546.4,508.6 L547.1,507.8 L547.7,507.3 L548.4,506.1 L549.0,505.8 L549.7,506.2 L550.3,505.6 L550.9,503.4 L551.6,501.3 L552.2,500.9 L552.9,501.8 L553.5,504.1 L554.2,505.9 L554.8,506.5 L555.4,507.1 L556.1,507.8 L556.7,508.8 L557.4,509.3 L558.0,508.7 L558.7,509.1 L559.3,510.1 L559.9,511.0 L560.6,511.0 L561.2,510.0 L561.9,508.7 L562.5,508.8 L563.2,510.7 L563.8,511.7 L564.5,511.6 L565.1,511.3 L565.7,510.3 L566.4,510.3 L567.0,510.8 L567.7,510.2 L568.3,510.4 L569.0,510.7 L569.6,511.1 L570.2,511.1 L570.9,509.9 L571.5,508.5 L572.2,507.8 L572.8,508.1 L573.5,508.8 L574.1,509.1 L574.7,509.3 L575.4,509.0 L576.0,507.3 L576.7,505.7 L577.3,505.5 L578.0,503.6 L578.6,499.1 L579.2,496.2 L579.9,495.5 L580.5,494.0 L581.2,493.3 L581.8,494.7 L582.5,497.0 L583.1,500.3 L583.7,503.8 L584.4,505.8 L585.0,507.1 L585.7,508.2 L586.3,509.3 L587.0,509.6 L587.6,510.0 L588.2,510.7 L588.9,509.5 L589.5,509.1 L590.2,509.7 L590.8,508.8 L591.5,508.2 L592.1,506.9 L592.7,504.6 L593.4,503.4 L594.0,501.7 L594.7,499.1 L595.3,496.3 L596.0,493.6 L596.6,492.4 L597.2,492.6 L597.9,493.8 L598.5,496.7 L599.2,500.2 L599.8,502.7 L600.5,505.9 L601.1,509.0 L601.7,509.2 L602.4,508.1 L603.0,508.9 L603.7,510.5 L604.3,511.2 L605.0,510.4 L605.6,508.6 L606.2,508.3 L606.9,509.1 L607.5,509.3 L608.2,509.8 L608.8,510.3 L609.5,510.4 L610.1,510.4 L610.7,510.8 L611.4,510.9 L612.0,509.9 L612.7,509.4 L613.3,510.3 L614.0,510.4 L614.6,509.8 L615.2,508.7 L615.9,507.7 L616.5,507.7 L617.2,506.4 L617.8,504.8 L618.5,503.5 L619.1,499.2 L619.7,492.9 L620.4,486.2 L621.0,475.2 L621.7,460.5 L622.3,453.9 L623.0,456.6 L623.6,459.1 L624.2,466.6 L624.9,480.9 L625.5,492.4 L626.2,498.9 L626.8,502.1 L627.5,503.5 L628.1,504.0 L628.8,502.8 L629.4,500.2 L630.0,497.3 L630.7,492.7 L631.3,488.0 L632.0,487.0 L632.6,488.3 L633.3,488.6 L633.9,490.7 L634.5,496.8 L635.2,501.7 L635.8,504.6 L636.5,506.7 L637.1,508.1 L637.8,509.9 L638.4,510.4 L639.0,510.4 L639.7,511.4 L640.3,511.5 L641.0,510.5 L641.6,510.0 L642.3,511.3 L642.9,512.6 L643.5,511.9 L644.2,511.0 L644.8,512.3 L645.5,513.2 L646.1,512.3 L646.8,510.6 L647.4,509.6 L648.0,509.8 L648.7,510.6 L649.3,511.5 L650.0,511.6 L650.6,510.4 L651.3,509.7 L651.9,509.9 L652.5,510.7 L653.2,511.5 L653.8,511.2 L654.5,511.6 L655.1,511.9 L655.8,511.4 L656.4,511.8 L657.0,511.4 L657.7,510.4 L658.3,510.5 L659.0,511.6 L659.6,511.6 L660.3,510.7 L660.9,511.2 L661.5,511.3 L662.2,510.8 L662.8,511.1 L663.5,511.4 L664.1,511.8 L664.8,511.7 L665.4,511.9 L666.0,513.0 L666.7,512.7 L667.3,510.6 L668.0,509.7 L668.6,510.5 L669.3,511.4 L669.9,512.1 L670.5,513.0 L671.2,513.1 L671.8,512.2 L672.5,511.6 L673.1,511.0 L673.8,511.2 L674.4,512.0 L675.0,511.3 L675.7,510.4 L676.3,510.1 L677.0,510.1 L677.6,509.4 L678.3,506.9 L678.9,503.8 L679.5,500.7 L680.2,496.0 L680.8,491.4 L681.5,488.5 L682.1,485.5 L682.8,486.4 L683.4,493.3 L684.0,499.9 L684.7,504.9 L685.3,507.4 L686.0,506.9 L686.6,507.6 L687.3,509.5 L687.9,510.2 L688.5,509.5 L689.2,509.5 L689.8,509.5 L690.5,508.1 L691.1,507.1 L691.8,505.5 L692.4,501.7 L693.1,497.3 L693.7,491.2 L694.3,485.3 L695.0,484.3 L695.6,487.0 L696.3,491.3 L696.9,496.6 L697.6,501.4 L698.2,504.8 L698.8,506.6 L699.5,507.5 L700.1,508.0 L700.8,508.0 L701.4,508.2 L702.1,507.4 L702.7,504.4 L703.3,501.0 L704.0,496.6 L704.6,492.7 L705.3,490.0 L705.9,487.7 L706.6,487.6 L707.2,488.9 L707.8,492.6 L708.5,497.7 L709.1,502.0 L709.8,504.9 L710.4,506.8 L711.1,508.7 L711.7,509.8 L712.3,509.5 L713.0,508.7 L713.6,507.6 L714.3,505.6 L714.9,502.7 L715.6,499.6 L716.2,494.4 L716.8,486.8 L717.5,479.7 L718.1,471.3 L718.8,464.3 L719.4,465.8 L720.1,473.5 L720.7,482.0 L721.3,491.0 L722.0,500.1 L722.6,504.6 L723.3,505.9 L723.9,507.7 L724.6,508.3 L725.2,508.3 L725.8,509.9 L726.5,511.3 L727.1,511.0 L727.8,511.3 L728.4,512.6 L729.1,512.5 L729.7,512.6 L730.3,513.4 L731.0,512.8 L731.6,511.3 L732.3,510.9 L732.9,511.5 L733.6,512.6 L734.2,513.4 L734.8,513.4 L735.5,512.4 L736.1,512.0 L736.8,512.8 L737.4,512.5 L738.1,511.3 L738.7,511.3 L739.3,512.4 L740.0,513.3 L740.6,512.9 L741.3,512.8 L741.9,513.0 L742.6,512.0 L743.2,512.5 L743.8,514.1 L744.5,513.7 L745.1,512.6 L745.8,513.3 L746.4,514.2 L747.1,513.4 L747.7,513.0 L748.3,513.1 L749.0,512.2 L749.6,511.8 L750.3,511.9 L750.9,512.0 L751.6,512.6 L752.2,512.6 L752.8,512.2 L753.5,513.0 L754.1,514.0 L754.8,513.6 L755.4,513.5 L756.1,513.1 L756.7,512.4 L757.4,512.4 L758.0,513.0 L758.6,514.1 L759.3,515.3 L759.9,514.8 L760.6,513.0 L761.2,512.1 L761.9,511.1 L762.5,511.3 L763.1,513.3 L763.8,513.1 L764.4,511.7 L765.1,513.2 L765.7,515.0 L766.4,514.5 L767.0,513.7 L767.6,513.1 L768.3,512.1 L768.9,511.5 L769.6,512.0 L770.2,512.7 L770.9,513.2 L771.5,514.1 L772.1,514.9 L772.8,514.5 L773.4,513.8 L774.1,512.6 L774.7,512.7 L775.4,514.4 L776.0,514.8 L776.6,514.0 L777.3,512.4 L777.9,511.9 L778.6,512.4 L779.2,511.5 L779.9,511.5 L780.5,512.1 L781.1,512.6 L781.8,512.9 L782.4,511.3 L783.1,508.9 L783.7,507.3 L784.4,504.8 L785.0,502.5 L785.6,499.6 L786.3,496.7 L786.9,496.5 L787.6,498.5 L788.2,502.8 L788.9,507.1 L789.5,509.4 L790.1,510.8 L790.8,512.3 L791.4,513.6 L792.1,514.4 L792.7,513.5 L793.4,512.2 L794.0,511.9 L794.6,511.9 L795.3,512.1 L795.9,512.6 L796.6,513.1 L797.2,512.7 L797.9,511.6 L798.5,510.1 L799.1,507.9 L799.8,505.1 L800.4,502.8 L801.1,503.2 L801.7,506.3 L802.4,508.7 L803.0,508.7 L803.6,509.4 L804.3,510.3 L804.9,510.7 L805.6,512.1 L806.2,512.3 L806.9,510.9 L807.5,510.7 L808.1,511.6 L808.8,512.3 L809.4,513.1 L810.1,513.5 L810.7,513.4 L811.4,513.8 L812.0,514.5 L812.6,514.9 L813.3,514.6 L813.9,513.3 L814.6,511.5 L815.2,510.8 L815.9,511.1 L816.5,510.8 L817.1,510.2 L817.8,509.5 L818.4,506.3 L819.1,502.6 L819.7,499.4 L820.4,498.0 L821.0,500.7 L821.7,503.9 L822.3,505.7 L822.9,507.2 L823.6,509.3 L824.2,511.7 L824.9,512.6 L825.5,512.4 L826.2,513.6 L826.8,514.4 L827.4,513.3 L828.1,513.3 L828.7,514.4 L829.4,514.8 L830.0,515.0 L830.7,515.2 L831.3,514.9 L831.9,513.3 L832.6,512.4 L833.2,513.3 L833.9,513.9 L834.5,514.0 L835.2,514.5 L835.8,515.0 L836.4,514.8 L837.1,515.0 L837.7,515.2 L838.4,514.6 L839.0,514.3 L839.7,513.9 L840.3,514.0 L840.9,514.6 L841.6,513.4 L842.2,512.4 L842.9,513.2 L843.5,514.1 L844.2,514.2 L844.8,513.8 L845.4,512.9 L846.1,512.6 L846.7,514.5 L847.4,515.5 L848.0,513.6 L848.7,512.9 L849.3,514.1 L849.9,512.9 L850.6,510.8 L851.2,511.6 L851.9,512.4 L852.5,513.6 L853.2,515.8 L853.8,515.8 L854.4,514.6 L855.1,514.9 L855.7,515.2 L856.4,514.4 L857.0,514.3 L857.7,514.5 L858.3,514.9 L858.9,514.6 L859.6,514.3 L860.2,515.2 L860.9,516.0 L861.5,515.9 L862.2,514.9 L862.8,514.1 L863.4,514.5 L864.1,514.9 L864.7,514.4 L865.4,514.7 L866.0,515.7 L866.7,515.5 L867.3,515.1 L867.9,515.0 L868.6,515.1 L869.2,515.1 L869.9,513.8 L870.5,513.4 L871.2,514.4 L871.8,515.0 L872.4,515.7 L873.1,516.7 L873.7,517.6 L874.4,516.9 L875.0,515.7 L875.7,514.9 L876.3,514.0 L876.9,514.1 L877.6,514.4 L878.2,513.7 L878.9,512.2 L879.5,512.4 L880.2,514.4 L880.8,514.8 L881.4,514.3 L882.1,514.1 L882.7,513.9 L883.4,514.3 L884.0,514.9 L884.7,515.0 L885.3,514.8 L886.0,513.7 L886.6,512.7 L887.2,513.4 L887.9,513.9 L888.5,513.6 L889.2,513.8 L889.8,514.5 L890.5,515.6 L891.1,516.1 L891.7,515.6 L892.4,514.7 L893.0,515.2 L893.7,515.9 L894.3,515.3 L895.0,514.5 L895.6,514.5 L896.2,515.2 L896.9,515.6 L897.5,515.6 L898.2,515.9 L898.8,516.3 L899.5,515.1 L900.1,513.9 L900.7,514.7 L901.4,515.8 L902.0,515.8 L902.7,514.7 L903.3,514.1 L904.0,514.3 L904.6,513.6 L905.2,513.3 L905.9,515.1 L906.5,515.8 L907.2,514.4 L907.8,513.8 L908.5,514.1 L909.1,514.5 L909.7,515.0 L910.4,515.0 L911.0,514.7 L911.7,513.7 L912.3,512.8 L913.0,512.6 L913.6,513.4 L914.2,515.1 L914.9,515.9 L915.5,515.5 L916.2,514.4 L916.8,513.8 L917.5,514.5 L918.1,515.0 L918.7,516.5 L919.4,517.4 L920.0,516.3 L920.7,515.8 L921.3,515.3 L922.0,513.8 L922.6,513.4 L923.2,514.2 L923.9,515.3 L924.5,515.8 L925.2,515.9 L925.8,515.8 L926.5,514.6 L927.1,513.8 L927.7,514.6 L928.4,514.6 L929.0,514.4 L929.7,515.0 L930.3,514.5 L931.0,514.3 L931.6,514.6 L932.2,514.7 L932.9,515.4 L933.5,515.9 L934.2,515.7 L934.8,515.2 L935.5,514.6 L936.1,514.6 L936.7,515.7 L937.4,516.7 L938.0,516.5 L938.7,516.2 L939.3,516.7 L940.0,516.2 L940.6,514.8 L941.2,515.3 L941.9,516.0 L942.5,515.1 L943.2,515.0 L943.8,515.6 L944.5,515.9 L945.1,516.1 L945.7,515.8 L946.4,516.7 L947.0,518.0 L947.7,516.7 L948.3,514.4 L949.0,513.7 L949.6,514.2 L950.3,514.5 L950.9,514.5 L951.5,516.0 L952.2,517.6 L952.8,517.0 L953.5,515.4 L954.1,514.8 L954.8,514.8 L955.4,515.4 L956.0,516.2 L956.7,515.2 L957.3,514.5 L958.0,515.4 L958.6,516.5 L959.3,517.4 L959.9,517.2 L960.5,515.1 L961.2,514.1 L961.8,515.5 L962.5,517.1 L963.1,516.6 L963.8,514.5 L964.4,514.6 L965.0,516.9 L965.7,517.8 L966.3,517.1 L967.0,516.4 L967.6,516.2 L968.3,515.0 L968.9,514.2 L969.5,514.9 L970.2,515.7 L970.8,516.3 L971.5,515.6 L972.1,514.0 L972.8,514.2 L973.4,513.9 L974.0,512.1 L974.7,511.4 L975.3,511.4 L976.0,510.7 L976.6,509.8 L977.3,509.9 L977.9,511.1 L978.5,512.8 L979.2,513.6 L979.8,514.2 L980.5,515.1 L981.1,514.8 L981.8,514.8 L982.4,516.2 L983.0,516.8 L983.7,515.8 L984.3,515.3 L985.0,515.8 L985.6,514.8 L986.3,513.9 L986.9,515.5 L987.5,516.8 L988.2,516.2 L988.8,516.5 L989.5,517.0 L990.1,516.2 L990.8,515.5 L991.4,515.8 L992.0,516.0 L992.7,515.7 L993.3,516.0 L994.0,516.2 L994.6,516.0 L995.3,516.4 L995.9,516.3 L996.5,515.7 L997.2,515.6 L997.8,515.8 L998.5,515.7 L999.1,515.2 L999.8,515.0 L1000.4,515.8 L1001.0,516.7 L1001.7,516.3 L1002.3,515.7 L1003.0,516.2 L1003.6,516.2 L1004.3,515.6 L1004.9,515.9 L1005.5,515.8 L1006.2,515.6 L1006.8,515.9 L1007.5,515.0 L1008.1,514.2 L1008.8,514.8 L1009.4,515.1 L1010.0,515.7 L1010.7,516.3 L1011.3,515.9 L1012.0,515.6 L1012.6,516.1 L1013.3,516.1 L1013.9,515.3 L1014.6,515.4 L1015.2,516.7 L1015.8,517.4 L1016.5,516.9 L1017.1,516.4 L1017.8,515.8 L1018.4,515.8 L1019.1,515.6 L1019.7,515.1 L1020.3,515.4 L1021.0,514.9 L1021.6,514.0 L1022.3,515.1 L1022.9,516.3 L1023.6,516.4 L1024.2,515.9 L1024.8,515.0 L1025.5,515.0 L1026.1,515.3 L1026.8,515.1 L1027.4,515.8 L1028.1,516.4 L1028.7,515.7 L1029.3,516.1 L1030.0,517.2 L1030.6,516.2 L1031.3,515.3 L1031.9,515.9 L1032.6,516.3 L1033.2,515.6 L1033.8,515.0 L1034.5,515.8 L1035.1,517.2 L1035.8,518.0 L1036.4,517.2 L1037.1,516.1 L1037.7,516.4 L1038.3,516.6 L1039.0,516.2 L1039.6,516.5 L1040.3,517.2 L1040.9,517.1 L1041.6,516.2 L1042.2,515.6 L1042.8,515.2 L1043.5,515.1 L1044.1,515.9 L1044.8,516.1 L1045.4,516.5 L1046.1,516.3 L1046.7,515.2 L1047.3,514.9 L1048.0,514.4 L1048.6,512.5 L1049.3,508.9 L1049.9,505.7 L1050.6,503.8 L1051.2,501.0 L1051.8,498.2 L1052.5,499.2 L1053.1,503.2 L1053.8,506.2 L1054.4,508.4 L1055.1,510.9 L1055.7,513.3 L1056.3,514.9 L1057.0,515.3 L1057.6,515.3 L1058.3,515.9 L1058.9,517.5 L1059.6,517.7 L1060.2,516.2 L1060.8,515.5 L1061.5,515.5 L1062.1,515.3 L1062.8,516.0 L1063.4,516.7 L1064.1,517.2 L1064.7,518.4 L1065.3,518.6 L1066.0,517.4 L1066.6,516.8 L1067.3,517.6 L1067.9,517.3 L1068.6,515.8 L1069.2,515.5 L1069.8,515.5 L1070.5,514.9 L1071.1,515.8 L1071.8,517.0 L1072.4,516.6 L1073.1,516.5 L1073.7,516.8 L1074.3,517.2 L1075.0,517.6 L1075.6,517.0 L1076.3,516.1 L1076.9,516.2 L1077.6,516.7 L1078.2,517.4 L1078.9,517.6 L1079.5,517.1 L1080.1,516.7 L1080.8,516.8 L1081.4,516.8 L1082.1,516.3 L1082.7,516.0 L1083.4,515.8 L1084.0,516.2 L1084.6,516.7 L1085.3,516.7 L1085.9,517.6 L1086.6,517.2 L1087.2,515.2 L1087.9,514.9 L1088.5,515.8 L1089.1,516.1 L1089.8,516.9 L1090.4,517.8 L1091.1,517.4 L1091.7,516.8 L1092.4,517.2 L1093.0,517.8 L1093.6,517.8 L1094.3,518.8 L1094.9,519.0 L1095.6,517.5 L1096.2,517.7 L1096.9,518.1 L1097.5,517.3 L1098.1,517.5 L1098.8,517.6 L1099.4,516.8 L1100.1,517.0 L1100.7,517.1 L1101.4,517.3 L1102.0,518.0 L1102.6,518.4 L1103.3,519.0 L1103.9,518.2 L1104.6,516.9 L1105.2,516.8 L1105.9,517.0 L1106.5,517.4" fill="none" stroke="#878a00" stroke-width="4.4" stroke-linejoin="round"/>
<path d="M142.0,438.7 L142.6,438.9 L143.3,440.0 L143.9,441.3 L144.6,441.9 L145.2,441.2 L145.9,440.3 L146.5,440.6 L147.1,442.1 L147.8,442.9 L148.4,441.7 L149.1,440.2 L149.7,440.9 L150.4,442.5 L151.0,441.7 L151.6,440.4 L152.3,440.6 L152.9,440.7 L153.6,440.8 L154.2,441.0 L154.9,441.4 L155.5,442.1 L156.1,442.0 L156.8,441.8 L157.4,442.5 L158.1,442.3 L158.7,441.2 L159.4,441.0 L160.0,441.4 L160.6,441.3 L161.3,441.3 L161.9,441.9 L162.6,442.3 L163.2,441.8 L163.9,441.4 L164.5,441.3 L165.1,441.0 L165.8,441.1 L166.4,441.7 L167.1,442.2 L167.7,443.3 L168.4,442.8 L169.0,441.4 L169.6,441.6 L170.3,441.8 L170.9,442.1 L171.6,441.8 L172.2,440.8 L172.9,441.3 L173.5,442.3 L174.1,442.2 L174.8,441.4 L175.4,440.9 L176.1,439.9 L176.7,438.7 L177.4,438.5 L178.0,438.6 L178.7,438.2 L179.3,436.8 L179.9,433.8 L180.6,430.4 L181.2,426.5 L181.9,421.5 L182.5,418.3 L183.2,415.4 L183.8,409.8 L184.4,404.5 L185.1,400.3 L185.7,395.3 L186.4,388.9 L187.0,383.0 L187.7,377.7 L188.3,368.1 L188.9,353.5 L189.6,327.5 L190.2,275.5 L190.9,204.7 L191.5,156.5 L192.2,164.5 L192.8,203.6 L193.4,241.2 L194.1,262.0 L194.7,253.9 L195.4,223.4 L196.0,214.3 L196.7,238.1 L197.3,253.2 L197.9,243.9 L198.6,201.5 L199.2,137.8 L199.9,114.3 L200.5,156.4 L201.2,215.6 L201.8,268.8 L202.4,309.5 L203.1,334.3 L203.7,346.2 L204.4,350.7 L205.0,351.5 L205.7,351.2 L206.3,351.6 L206.9,353.2 L207.6,354.7 L208.2,354.2 L208.9,355.8 L209.5,355.3 L210.2,337.8 L210.8,306.6 L211.4,270.9 L212.1,219.7 L212.7,188.5 L213.4,221.6 L214.0,273.4 L214.7,316.7 L215.3,346.8 L215.9,364.8 L216.6,378.0 L217.2,386.5 L217.9,390.8 L218.5,397.5 L219.2,402.9 L219.8,404.5 L220.4,408.7 L221.1,412.9 L221.7,415.7 L222.4,420.2 L223.0,425.6 L223.7,429.5 L224.3,432.0 L224.9,435.1 L225.6,438.0 L226.2,440.0 L226.9,441.6 L227.5,442.7 L228.2,444.0 L228.8,445.3 L229.4,445.1 L230.1,444.9 L230.7,444.8 L231.4,444.1 L232.0,444.5 L232.7,445.7 L233.3,446.4 L233.9,446.5 L234.6,445.1 L235.2,444.7 L235.9,446.5 L236.5,446.3 L237.2,445.2 L237.8,445.7 L238.4,444.8 L239.1,443.3 L239.7,443.5 L240.4,444.7 L241.0,445.2 L241.7,444.1 L242.3,443.1 L243.0,442.6 L243.6,440.9 L244.2,438.5 L244.9,435.8 L245.5,431.3 L246.2,422.5 L246.8,410.4 L247.5,401.6 L248.1,399.7 L248.7,402.8 L249.4,409.5 L250.0,420.2 L250.7,431.6 L251.3,437.2 L252.0,439.7 L252.6,443.1 L253.2,444.0 L253.9,442.6 L254.5,443.2 L255.2,444.8 L255.8,445.6 L256.5,445.6 L257.1,445.4 L257.7,446.4 L258.4,448.1 L259.0,448.2 L259.7,446.1 L260.3,446.3 L261.0,447.5 L261.6,446.3 L262.2,445.5 L262.9,446.4 L263.5,447.2 L264.2,447.6 L264.8,446.8 L265.5,446.2 L266.1,446.7 L266.7,447.6 L267.4,448.1 L268.0,446.8 L268.7,445.2 L269.3,445.8 L270.0,447.1 L270.6,445.9 L271.2,444.5 L271.9,445.3 L272.5,446.8 L273.2,447.0 L273.8,446.4 L274.5,446.9 L275.1,447.0 L275.7,446.0 L276.4,446.5 L277.0,448.0 L277.7,448.3 L278.3,447.1 L279.0,446.3 L279.6,445.7 L280.2,444.0 L280.9,441.3 L281.5,437.8 L282.2,433.0 L282.8,427.8 L283.5,421.0 L284.1,410.9 L284.7,405.0 L285.4,405.1 L286.0,409.6 L286.7,417.0 L287.3,424.2 L288.0,433.0 L288.6,438.6 L289.2,439.8 L289.9,442.4 L290.5,445.3 L291.2,445.4 L291.8,444.9 L292.5,445.4 L293.1,446.3 L293.7,447.3 L294.4,447.4 L295.0,446.7 L295.7,446.5 L296.3,447.4 L297.0,448.4 L297.6,448.4 L298.2,448.0 L298.9,447.1 L299.5,446.2 L300.2,446.8 L300.8,447.9 L301.5,447.6 L302.1,446.4 L302.7,446.2 L303.4,447.1 L304.0,447.4 L304.7,447.3 L305.3,447.6 L306.0,448.1 L306.6,448.6 L307.3,449.1 L307.9,449.5 L308.5,449.6 L309.2,449.0 L309.8,448.0 L310.5,448.1 L311.1,448.3 L311.8,448.2 L312.4,448.8 L313.0,448.9 L313.7,447.3 L314.3,447.0 L315.0,448.4 L315.6,448.9 L316.3,448.2 L316.9,448.1 L317.5,449.3 L318.2,449.4 L318.8,448.3 L319.5,448.0 L320.1,448.2 L320.8,448.1 L321.4,447.6 L322.0,447.8 L322.7,448.8 L323.3,448.8 L324.0,448.4 L324.6,447.6 L325.3,446.8 L325.9,447.8 L326.5,448.2 L327.2,448.1 L327.8,448.0 L328.5,448.0 L329.1,448.4 L329.8,447.9 L330.4,447.1 L331.0,447.5 L331.7,448.5 L332.3,448.8 L333.0,447.7 L333.6,447.4 L334.3,448.2 L334.9,448.4 L335.5,448.9 L336.2,448.5 L336.8,447.5 L337.5,447.7 L338.1,448.6 L338.8,448.8 L339.4,448.3 L340.0,448.9 L340.7,448.9 L341.3,446.4 L342.0,443.7 L342.6,442.0 L343.3,440.5 L343.9,439.1 L344.5,436.9 L345.2,434.7 L345.8,431.8 L346.5,426.9 L347.1,425.3 L347.8,426.8 L348.4,424.3 L349.0,419.4 L349.7,416.6 L350.3,414.3 L351.0,408.8 L351.6,400.2 L352.3,390.8 L352.9,380.9 L353.5,366.9 L354.2,349.4 L354.8,334.0 L355.5,324.8 L356.1,326.7 L356.8,335.9 L357.4,346.8 L358.0,364.6 L358.7,380.6 L359.3,387.6 L360.0,392.7 L360.6,396.5 L361.3,397.4 L361.9,394.3 L362.5,389.9 L363.2,389.0 L363.8,386.8 L364.5,381.4 L365.1,374.7 L365.8,362.1 L366.4,346.0 L367.0,331.4 L367.7,313.1 L368.3,295.8 L369.0,294.4 L369.6,310.4 L370.3,332.8 L370.9,354.4 L371.6,371.9 L372.2,384.8 L372.8,394.7 L373.5,401.3 L374.1,404.1 L374.8,405.6 L375.4,409.0 L376.1,413.6 L376.7,416.8 L377.3,417.9 L378.0,417.8 L378.6,421.5 L379.3,428.7 L379.9,434.2 L380.6,437.8 L381.2,439.8 L381.8,441.0 L382.5,441.8 L383.1,443.1 L383.8,445.2 L384.4,446.4 L385.1,447.3 L385.7,448.0 L386.3,448.4 L387.0,448.2 L387.6,446.8 L388.3,444.9 L388.9,442.9 L389.6,441.8 L390.2,440.8 L390.8,439.0 L391.5,439.4 L392.1,441.4 L392.8,443.5 L393.4,444.9 L394.1,445.9 L394.7,448.2 L395.3,449.6 L396.0,449.0 L396.6,448.7 L397.3,449.0 L397.9,449.1 L398.6,449.6 L399.2,450.4 L399.8,449.5 L400.5,449.2 L401.1,451.0 L401.8,451.6 L402.4,450.9 L403.1,450.5 L403.7,449.9 L404.3,450.0 L405.0,450.9 L405.6,451.5 L406.3,451.3 L406.9,450.5 L407.6,449.9 L408.2,450.3 L408.8,451.6 L409.5,451.7 L410.1,450.4 L410.8,450.3 L411.4,451.4 L412.1,451.6 L412.7,450.7 L413.3,449.5 L414.0,449.4 L414.6,450.0 L415.3,449.8 L415.9,449.8 L416.6,450.9 L417.2,451.4 L417.8,450.5 L418.5,449.8 L419.1,450.6 L419.8,451.0 L420.4,450.0 L421.1,450.5 L421.7,451.0 L422.3,450.7 L423.0,450.9 L423.6,451.2 L424.3,451.7 L424.9,451.6 L425.6,451.8 L426.2,452.6 L426.8,452.6 L427.5,451.6 L428.1,450.1 L428.8,450.2 L429.4,451.5 L430.1,451.8 L430.7,451.4 L431.3,451.0 L432.0,450.4 L432.6,450.2 L433.3,450.2 L433.9,450.5 L434.6,450.4 L435.2,450.3 L435.9,451.4 L436.5,451.9 L437.1,450.6 L437.8,450.5 L438.4,451.4 L439.1,451.7 L439.7,452.3 L440.4,451.9 L441.0,451.3 L441.6,452.0 L442.3,452.7 L442.9,452.4 L443.6,451.8 L444.2,450.9 L444.9,449.7 L445.5,450.4 L446.1,452.2 L446.8,452.5 L447.4,452.1 L448.1,451.6 L448.7,451.1 L449.4,450.9 L450.0,450.8 L450.6,450.9 L451.3,450.7 L451.9,451.0 L452.6,451.4 L453.2,451.4 L453.9,451.8 L454.5,452.0 L455.1,452.2 L455.8,451.9 L456.4,450.1 L457.1,449.8 L457.7,451.5 L458.4,453.0 L459.0,453.5 L459.6,453.0 L460.3,451.9 L460.9,451.3 L461.6,451.9 L462.2,451.8 L462.9,450.5 L463.5,450.3 L464.1,451.1 L464.8,450.5 L465.4,449.3 L466.1,450.5 L466.7,451.6 L467.4,451.5 L468.0,451.8 L468.6,451.5 L469.3,451.0 L469.9,451.3 L470.6,451.1 L471.2,450.7 L471.9,451.8 L472.5,452.1 L473.1,450.3 L473.8,449.0 L474.4,450.3 L475.1,452.2 L475.7,452.0 L476.4,451.0 L477.0,450.4 L477.6,449.6 L478.3,449.5 L478.9,450.8 L479.6,450.8 L480.2,449.4 L480.9,449.4 L481.5,450.2 L482.1,450.8 L482.8,451.6 L483.4,452.3 L484.1,452.5 L484.7,452.3 L485.4,450.9 L486.0,448.5 L486.6,447.3 L487.3,446.3 L487.9,442.4 L488.6,435.1 L489.2,425.3 L489.9,418.5 L490.5,417.6 L491.1,418.6 L491.8,421.8 L492.4,427.3 L493.1,434.1 L493.7,441.7 L494.4,447.4 L495.0,449.8 L495.6,449.9 L496.3,449.5 L496.9,450.1 L497.6,452.0 L498.2,452.6 L498.9,451.5 L499.5,451.4 L500.2,451.4 L500.8,450.2 L501.4,449.3 L502.1,450.7 L502.7,451.5 L503.4,450.6 L504.0,449.4 L504.7,449.6 L505.3,451.8 L505.9,452.8 L506.6,452.1 L507.2,451.6 L507.9,451.4 L508.5,451.6 L509.2,451.7 L509.8,451.8 L510.4,452.1 L511.1,452.8 L511.7,452.8 L512.4,451.8 L513.0,451.6 L513.7,451.4 L514.3,450.2 L514.9,450.3 L515.6,451.5 L516.2,451.5 L516.9,451.5 L517.5,452.0 L518.2,451.7 L518.8,451.9 L519.4,452.6 L520.1,453.3 L520.7,453.1 L521.4,452.4 L522.0,452.7 L522.7,452.7 L523.3,452.4 L523.9,452.6 L524.6,452.5 L525.2,451.9 L525.9,452.6 L526.5,453.3 L527.2,453.4 L527.8,453.6 L528.4,452.7 L529.1,452.2 L529.7,451.9 L530.4,451.4 L531.0,451.2 L531.7,451.6 L532.3,451.9 L532.9,452.1 L533.6,453.4 L534.2,453.3 L534.9,452.1 L535.5,452.5 L536.2,452.9 L536.8,453.4 L537.4,454.5 L538.1,453.8 L538.7,452.1 L539.4,450.0 L540.0,448.1 L540.7,447.5 L541.3,446.5 L541.9,445.6 L542.6,446.4 L543.2,448.5 L543.9,450.7 L544.5,451.6 L545.2,451.8 L545.8,451.7 L546.4,452.1 L547.1,451.9 L547.7,451.5 L548.4,451.8 L549.0,450.0 L549.7,448.3 L550.3,449.4 L550.9,448.4 L551.6,445.0 L552.2,445.5 L552.9,448.7 L553.5,448.2 L554.2,447.3 L554.8,450.0 L555.4,453.0 L556.1,453.5 L556.7,453.6 L557.4,454.0 L558.0,453.4 L558.7,452.0 L559.3,451.5 L559.9,452.1 L560.6,452.1 L561.2,453.0 L561.9,454.3 L562.5,453.9 L563.2,453.1 L563.8,453.2 L564.5,453.8 L565.1,453.4 L565.7,452.3 L566.4,453.2 L567.0,454.6 L567.7,453.8 L568.3,452.3 L569.0,451.3 L569.6,450.7 L570.2,452.1 L570.9,453.7 L571.5,453.0 L572.2,451.8 L572.8,451.8 L573.5,452.2 L574.1,452.2 L574.7,451.7 L575.4,451.6 L576.0,452.4 L576.7,452.1 L577.3,449.4 L578.0,447.1 L578.6,444.3 L579.2,438.9 L579.9,434.4 L580.5,432.8 L581.2,433.4 L581.8,435.5 L582.5,439.3 L583.1,443.4 L583.7,445.5 L584.4,446.6 L585.0,448.7 L585.7,450.6 L586.3,451.1 L587.0,452.1 L587.6,453.3 L588.2,453.2 L588.9,452.4 L589.5,451.9 L590.2,451.9 L590.8,451.2 L591.5,451.2 L592.1,451.6 L592.7,451.2 L593.4,450.6 L594.0,447.9 L594.7,443.4 L595.3,440.0 L596.0,435.7 L596.6,430.2 L597.2,429.0 L597.9,433.0 L598.5,438.9 L599.2,443.9 L599.8,446.8 L600.5,448.5 L601.1,450.6 L601.7,452.9 L602.4,453.6 L603.0,452.5 L603.7,451.9 L604.3,452.8 L605.0,453.4 L605.6,453.9 L606.2,454.7 L606.9,453.9 L607.5,452.2 L608.2,452.4 L608.8,453.7 L609.5,454.0 L610.1,453.7 L610.7,452.8 L611.4,452.2 L612.0,453.3 L612.7,454.2 L613.3,453.1 L614.0,451.6 L614.6,451.4 L615.2,451.6 L615.9,452.1 L616.5,453.1 L617.2,452.8 L617.8,450.2 L618.5,446.9 L619.1,443.1 L619.7,436.8 L620.4,427.5 L621.0,416.6 L621.7,404.5 L622.3,396.1 L623.0,397.5 L623.6,404.4 L624.2,415.1 L624.9,427.3 L625.5,437.3 L626.2,444.4 L626.8,447.5 L627.5,447.8 L628.1,447.3 L628.8,446.8 L629.4,445.2 L630.0,441.4 L630.7,435.9 L631.3,429.7 L632.0,428.1 L632.6,430.4 L633.3,433.3 L633.9,438.2 L634.5,442.9 L635.2,445.5 L635.8,447.9 L636.5,451.1 L637.1,453.1 L637.8,453.3 L638.4,453.0 L639.0,453.4 L639.7,453.3 L640.3,451.5 L641.0,450.5 L641.6,451.2 L642.3,452.0 L642.9,452.3 L643.5,452.4 L644.2,453.0 L644.8,454.0 L645.5,454.2 L646.1,454.7 L646.8,455.2 L647.4,454.3 L648.0,454.2 L648.7,454.6 L649.3,453.2 L650.0,453.1 L650.6,454.8 L651.3,455.3 L651.9,455.1 L652.5,455.4 L653.2,455.1 L653.8,454.3 L654.5,453.7 L655.1,453.6 L655.8,454.2 L656.4,454.5 L657.0,454.5 L657.7,455.9 L658.3,456.5 L659.0,455.1 L659.6,455.1 L660.3,455.9 L660.9,455.4 L661.5,454.8 L662.2,455.4 L662.8,455.4 L663.5,454.6 L664.1,454.3 L664.8,455.0 L665.4,455.7 L666.0,456.5 L666.7,456.5 L667.3,455.4 L668.0,454.7 L668.6,454.8 L669.3,455.0 L669.9,454.7 L670.5,453.6 L671.2,452.9 L671.8,453.4 L672.5,454.8 L673.1,455.8 L673.8,454.9 L674.4,453.3 L675.0,453.2 L675.7,453.6 L676.3,453.5 L677.0,453.5 L677.6,453.1 L678.3,451.3 L678.9,447.4 L679.5,443.1 L680.2,438.6 L680.8,433.5 L681.5,430.3 L682.1,429.0 L682.8,429.7 L683.4,434.5 L684.0,441.4 L684.7,447.1 L685.3,448.9 L686.0,449.3 L686.6,451.5 L687.3,452.8 L687.9,452.5 L688.5,452.6 L689.2,453.3 L689.8,453.3 L690.5,451.9 L691.1,449.7 L691.8,446.9 L692.4,442.5 L693.1,437.6 L693.7,433.1 L694.3,428.8 L695.0,429.6 L695.6,434.4 L696.3,436.9 L696.9,438.4 L697.6,441.7 L698.2,445.6 L698.8,447.6 L699.5,449.2 L700.1,451.4 L700.8,452.1 L701.4,453.1 L702.1,453.8 L702.7,450.9 L703.3,447.0 L704.0,443.0 L704.6,437.2 L705.3,431.4 L705.9,429.4 L706.6,430.8 L707.2,432.4 L707.8,435.3 L708.5,440.1 L709.1,445.0 L709.8,449.1 L710.4,451.6 L711.1,452.9 L711.7,453.3 L712.3,453.0 L713.0,452.9 L713.6,452.7 L714.3,450.9 L714.9,448.5 L715.6,445.8 L716.2,439.7 L716.8,432.4 L717.5,425.6 L718.1,418.3 L718.8,413.9 L719.4,411.8 L720.1,415.4 L720.7,425.0 L721.3,435.3 L722.0,444.2 L722.6,449.5 L723.3,451.1 L723.9,451.7 L724.6,453.1 L725.2,453.9 L725.8,453.2 L726.5,453.4 L727.1,454.9 L727.8,455.2 L728.4,454.5 L729.1,453.6 L729.7,453.6 L730.3,455.0 L731.0,454.7 L731.6,453.4 L732.3,453.3 L732.9,454.6 L733.6,456.4 L734.2,455.9 L734.8,455.2 L735.5,456.7 L736.1,456.6 L736.8,454.0 L737.4,453.3 L738.1,454.9 L738.7,455.3 L739.3,454.9 L740.0,455.5 L740.6,456.8 L741.3,457.4 L741.9,456.6 L742.6,455.8 L743.2,455.9 L743.8,455.5 L744.5,455.1 L745.1,455.8 L745.8,455.9 L746.4,455.8 L747.1,456.2 L747.7,456.8 L748.3,457.7 L749.0,457.6 L749.6,455.9 L750.3,455.0 L750.9,455.2 L751.6,455.6 L752.2,455.9 L752.8,455.5 L753.5,455.9 L754.1,456.9 L754.8,457.0 L755.4,456.9 L756.1,457.5 L756.7,456.7 L757.4,455.2 L758.0,455.6 L758.6,456.0 L759.3,455.5 L759.9,455.3 L760.6,455.9 L761.2,456.3 L761.9,456.8 L762.5,457.5 L763.1,457.0 L763.8,455.6 L764.4,455.5 L765.1,456.1 L765.7,455.8 L766.4,456.0 L767.0,456.8 L767.6,457.1 L768.3,457.3 L768.9,457.1 L769.6,456.5 L770.2,456.1 L770.9,455.8 L771.5,456.0 L772.1,455.8 L772.8,454.4 L773.4,454.0 L774.1,455.9 L774.7,456.7 L775.4,456.0 L776.0,455.4 L776.6,455.6 L777.3,456.1 L777.9,456.5 L778.6,456.8 L779.2,456.0 L779.9,455.3 L780.5,455.5 L781.1,455.2 L781.8,454.3 L782.4,453.0 L783.1,452.7 L783.7,451.9 L784.4,449.1 L785.0,446.5 L785.6,444.2 L786.3,443.0 L786.9,443.5 L787.6,444.2 L788.2,446.1 L788.9,448.3 L789.5,449.4 L790.1,451.6 L790.8,454.2 L791.4,455.6 L792.1,456.3 L792.7,456.0 L793.4,455.9 L794.0,456.5 L794.6,456.9 L795.3,456.6 L795.9,455.6 L796.6,455.6 L797.2,456.0 L797.9,455.6 L798.5,454.9 L799.1,453.3 L799.8,450.6 L800.4,448.9 L801.1,449.1 L801.7,450.0 L802.4,451.9 L803.0,453.7 L803.6,453.8 L804.3,453.8 L804.9,455.0 L805.6,456.1 L806.2,456.5 L806.9,456.9 L807.5,456.7 L808.1,456.1 L808.8,455.8 L809.4,456.4 L810.1,457.0 L810.7,456.3 L811.4,455.6 L812.0,455.8 L812.6,455.9 L813.3,455.1 L813.9,455.3 L814.6,456.9 L815.2,457.1 L815.9,456.1 L816.5,454.4 L817.1,452.3 L817.8,451.1 L818.4,448.6 L819.1,443.5 L819.7,440.0 L820.4,440.4 L821.0,443.1 L821.7,446.1 L822.3,449.3 L822.9,452.4 L823.6,453.6 L824.2,453.6 L824.9,454.4 L825.5,455.7 L826.2,456.5 L826.8,456.7 L827.4,457.0 L828.1,457.8 L828.7,458.4 L829.4,457.5 L830.0,456.6 L830.7,456.7 L831.3,457.7 L831.9,458.5 L832.6,457.0 L833.2,455.9 L833.9,456.6 L834.5,456.9 L835.2,456.7 L835.8,457.4 L836.4,457.7 L837.1,457.0 L837.7,456.4 L838.4,456.2 L839.0,456.2 L839.7,456.7 L840.3,458.2 L840.9,458.6 L841.6,457.4 L842.2,456.2 L842.9,455.4 L843.5,456.0 L844.2,457.2 L844.8,457.4 L845.4,457.6 L846.1,457.8 L846.7,457.3 L847.4,457.4 L848.0,457.4 L848.7,455.8 L849.3,455.2 L849.9,455.9 L850.6,456.0 L851.2,456.2 L851.9,456.4 L852.5,456.5 L853.2,457.1 L853.8,457.6 L854.4,457.5 L855.1,456.9 L855.7,456.1 L856.4,455.9 L857.0,456.9 L857.7,457.9 L858.3,458.2 L858.9,458.5 L859.6,458.8 L860.2,458.1 L860.9,457.5 L861.5,458.2 L862.2,459.1 L862.8,459.3 L863.4,458.6 L864.1,457.7 L864.7,457.4 L865.4,456.8 L866.0,456.0 L866.7,456.5 L867.3,457.6 L867.9,457.8 L868.6,457.3 L869.2,457.9 L869.9,458.6 L870.5,458.0 L871.2,457.6 L871.8,457.3 L872.4,457.3 L873.1,458.0 L873.7,458.1 L874.4,457.0 L875.0,457.0 L875.7,458.3 L876.3,458.4 L876.9,458.4 L877.6,458.7 L878.2,458.3 L878.9,457.5 L879.5,456.7 L880.2,456.3 L880.8,456.9 L881.4,457.2 L882.1,458.0 L882.7,459.2 L883.4,458.8 L884.0,457.3 L884.7,456.8 L885.3,458.2 L886.0,458.7 L886.6,457.7 L887.2,457.4 L887.9,457.3 L888.5,457.2 L889.2,456.7 L889.8,456.1 L890.5,456.0 L891.1,456.7 L891.7,458.4 L892.4,458.9 L893.0,458.2 L893.7,457.9 L894.3,457.9 L895.0,457.9 L895.6,457.8 L896.2,457.5 L896.9,457.0 L897.5,456.3 L898.2,456.2 L898.8,457.0 L899.5,457.5 L900.1,458.2 L900.7,458.9 L901.4,458.2 L902.0,457.6 L902.7,458.3 L903.3,459.4 L904.0,459.9 L904.6,459.0 L905.2,457.7 L905.9,457.8 L906.5,458.6 L907.2,458.7 L907.8,458.5 L908.5,458.7 L909.1,459.5 L909.7,459.9 L910.4,459.3 L911.0,457.8 L911.7,456.3 L912.3,456.4 L913.0,457.9 L913.6,457.4 L914.2,455.8 L914.9,456.9 L915.5,459.0 L916.2,458.9 L916.8,458.2 L917.5,458.3 L918.1,458.1 L918.7,458.2 L919.4,459.1 L920.0,459.0 L920.7,457.7 L921.3,456.6 L922.0,456.2 L922.6,457.0 L923.2,459.2 L923.9,460.0 L924.5,459.3 L925.2,458.7 L925.8,457.9 L926.5,458.1 L927.1,458.8 L927.7,458.6 L928.4,457.6 L929.0,456.3 L929.7,456.3 L930.3,457.1 L931.0,457.5 L931.6,457.6 L932.2,457.6 L932.9,457.8 L933.5,458.3 L934.2,458.6 L934.8,458.2 L935.5,457.7 L936.1,458.1 L936.7,458.7 L937.4,458.0 L938.0,457.1 L938.7,457.2 L939.3,458.3 L940.0,459.2 L940.6,459.2 L941.2,459.0 L941.9,459.0 L942.5,458.4 L943.2,457.7 L943.8,458.0 L944.5,458.8 L945.1,459.2 L945.7,458.5 L946.4,457.3 L947.0,457.0 L947.7,457.7 L948.3,458.0 L949.0,457.8 L949.6,457.5 L950.3,457.3 L950.9,457.9 L951.5,458.9 L952.2,459.2 L952.8,458.8 L953.5,458.5 L954.1,458.3 L954.8,457.7 L955.4,457.6 L956.0,458.7 L956.7,459.7 L957.3,459.4 L958.0,458.5 L958.6,457.9 L959.3,457.9 L959.9,458.2 L960.5,458.7 L961.2,458.8 L961.8,458.8 L962.5,458.7 L963.1,458.5 L963.8,458.6 L964.4,458.3 L965.0,458.0 L965.7,458.5 L966.3,458.2 L967.0,457.0 L967.6,456.9 L968.3,458.0 L968.9,457.7 L969.5,456.2 L970.2,456.1 L970.8,457.2 L971.5,458.2 L972.1,458.6 L972.8,458.9 L973.4,459.3 L974.0,458.1 L974.7,455.1 L975.3,454.2 L976.0,454.1 L976.6,452.5 L977.3,452.8 L977.9,455.4 L978.5,457.8 L979.2,457.9 L979.8,456.4 L980.5,456.5 L981.1,457.6 L981.8,458.1 L982.4,458.6 L983.0,459.4 L983.7,459.9 L984.3,459.3 L985.0,458.8 L985.6,459.2 L986.3,459.1 L986.9,458.4 L987.5,458.3 L988.2,457.8 L988.8,457.8 L989.5,459.3 L990.1,460.1 L990.8,460.1 L991.4,459.7 L992.0,459.4 L992.7,459.3 L993.3,459.1 L994.0,459.3 L994.6,459.6 L995.3,459.4 L995.9,459.7 L996.5,459.6 L997.2,459.5 L997.8,459.5 L998.5,459.8 L999.1,460.2 L999.8,459.2 L1000.4,458.4 L1001.0,459.0 L1001.7,458.6 L1002.3,457.7 L1003.0,459.2 L1003.6,459.5 L1004.3,458.0 L1004.9,458.5 L1005.5,459.1 L1006.2,458.3 L1006.8,458.1 L1007.5,458.8 L1008.1,459.7 L1008.8,460.0 L1009.4,459.4 L1010.0,459.4 L1010.7,459.9 L1011.3,459.7 L1012.0,459.6 L1012.6,459.5 L1013.3,458.6 L1013.9,458.5 L1014.6,458.6 L1015.2,458.6 L1015.8,459.1 L1016.5,460.1 L1017.1,461.2 L1017.8,460.6 L1018.4,460.2 L1019.1,460.8 L1019.7,459.8 L1020.3,458.2 L1021.0,458.8 L1021.6,459.5 L1022.3,459.1 L1022.9,459.0 L1023.6,459.1 L1024.2,458.7 L1024.8,457.4 L1025.5,456.9 L1026.1,458.1 L1026.8,459.6 L1027.4,460.1 L1028.1,459.2 L1028.7,458.9 L1029.3,459.6 L1030.0,460.2 L1030.6,460.5 L1031.3,459.1 L1031.9,457.4 L1032.6,457.5 L1033.2,457.7 L1033.8,457.5 L1034.5,457.8 L1035.1,458.3 L1035.8,458.5 L1036.4,458.8 L1037.1,459.4 L1037.7,459.7 L1038.3,459.5 L1039.0,458.6 L1039.6,457.2 L1040.3,456.8 L1040.9,457.9 L1041.6,458.4 L1042.2,457.9 L1042.8,458.2 L1043.5,459.7 L1044.1,460.6 L1044.8,459.5 L1045.4,458.8 L1046.1,459.2 L1046.7,458.7 L1047.3,458.0 L1048.0,457.2 L1048.6,455.0 L1049.3,452.6 L1049.9,450.2 L1050.6,446.3 L1051.2,441.2 L1051.8,438.9 L1052.5,441.4 L1053.1,445.4 L1053.8,449.3 L1054.4,452.7 L1055.1,455.7 L1055.7,457.6 L1056.3,457.8 L1057.0,458.0 L1057.6,458.5 L1058.3,458.0 L1058.9,458.5 L1059.6,459.4 L1060.2,459.4 L1060.8,460.6 L1061.5,461.7 L1062.1,461.3 L1062.8,460.6 L1063.4,460.0 L1064.1,459.5 L1064.7,459.6 L1065.3,459.9 L1066.0,459.7 L1066.6,459.5 L1067.3,458.6 L1067.9,458.1 L1068.6,459.2 L1069.2,460.6 L1069.8,461.4 L1070.5,460.8 L1071.1,460.2 L1071.8,460.4 L1072.4,460.3 L1073.1,459.6 L1073.7,458.7 L1074.3,458.4 L1075.0,459.7 L1075.6,460.2 L1076.3,458.5 L1076.9,458.5 L1077.6,459.9 L1078.2,460.2 L1078.9,459.3 L1079.5,458.2 L1080.1,458.7 L1080.8,460.1 L1081.4,460.4 L1082.1,459.8 L1082.7,459.4 L1083.4,459.3 L1084.0,458.7 L1084.6,458.1 L1085.3,459.0 L1085.9,460.2 L1086.6,460.0 L1087.2,458.8 L1087.9,458.5 L1088.5,459.9 L1089.1,459.9 L1089.8,458.1 L1090.4,458.6 L1091.1,460.1 L1091.7,460.4 L1092.4,460.7 L1093.0,459.2 L1093.6,458.2 L1094.3,459.9 L1094.9,460.9 L1095.6,460.4 L1096.2,459.6 L1096.9,459.9 L1097.5,460.2 L1098.1,458.9 L1098.8,458.4 L1099.4,459.6 L1100.1,460.2 L1100.7,460.4 L1101.4,459.9 L1102.0,459.3 L1102.6,458.7 L1103.3,458.5 L1103.9,459.7 L1104.6,459.8 L1105.2,460.1 L1105.9,461.0 L1106.5,460.6" fill="none" stroke="#9c0096" stroke-width="4.4" stroke-linejoin="round"/>
<rect x="142" y="23.5" width="964" height="707.0" fill="none" stroke="#000" stroke-width="5"/>
<text x="114.6" y="781.5" font-family='"Liberation Sans", Arial, sans-serif' font-weight="bold" font-size="49.5" fill="#000" >20</text>
<text x="194.7" y="781.5" font-family='"Liberation Sans", Arial, sans-serif' font-weight="bold" font-size="49.5" fill="#000" >25</text>
<text x="275.6" y="781.5" font-family='"Liberation Sans", Arial, sans-serif' font-weight="bold" font-size="49.5" fill="#000" >30</text>
<text x="355.7" y="781.5" font-family='"Liberation Sans", Arial, sans-serif' font-weight="bold" font-size="49.5" fill="#000" >35</text>
<text x="436.6" y="781.5" font-family='"Liberation Sans", Arial, sans-serif' font-weight="bold" font-size="49.5" fill="#000" >40</text>
<text x="516.6" y="781.5" font-family='"Liberation Sans", Arial, sans-serif' font-weight="bold" font-size="49.5" fill="#000" >45</text>
<text x="596.9" y="781.5" font-family='"Liberation Sans", Arial, sans-serif' font-weight="bold" font-size="49.5" fill="#000" >50</text>
<text x="677.0" y="781.5" font-family='"Liberation Sans", Arial, sans-serif' font-weight="bold" font-size="49.5" fill="#000" >55</text>
<text x="757.5" y="781.5" font-family='"Liberation Sans", Arial, sans-serif' font-weight="bold" font-size="49.5" fill="#000" >60</text>
<text x="837.6" y="781.5" font-family='"Liberation Sans", Arial, sans-serif' font-weight="bold" font-size="49.5" fill="#000" >65</text>
<text x="918.1" y="781.5" font-family='"Liberation Sans", Arial, sans-serif' font-weight="bold" font-size="49.5" fill="#000" >70</text>
<text x="998.2" y="781.5" font-family='"Liberation Sans", Arial, sans-serif' font-weight="bold" font-size="49.5" fill="#000" >75</text>
<text x="1079.2" y="781.5" font-family='"Liberation Sans", Arial, sans-serif' font-weight="bold" font-size="49.5" fill="#000" >80</text>
<text x="479.4" y="849.0" font-family='"Liberation Sans", Arial, sans-serif' font-weight="bold" font-size="49.0" fill="#000" textLength="260.1" lengthAdjust="spacingAndGlyphs" >2θ (degree)</text>
<text transform="translate(95.0,551.0) rotate(-90)" x="-3.3" y="0" font-family='"Liberation Sans", Arial, sans-serif' font-weight="bold" font-size="49.0" fill="#000" textLength="331.6" lengthAdjust="spacingAndGlyphs">Intensity (a.u.)</text>
<text x="802.7" y="97.3" font-family='"Liberation Sans", Arial, sans-serif' font-weight="bold" font-size="50.0" fill="#000" textLength="103.1" lengthAdjust="spacingAndGlyphs"><tspan font-size="50.0" dy="0.0">WO</tspan><tspan font-size="31.0" dy="0.0">3</tspan></text>
<text x="653.2" y="158.8" font-family='"Liberation Sans", Arial, sans-serif' font-weight="bold" font-size="50.5" fill="#000" textLength="434.9" lengthAdjust="spacingAndGlyphs" >JCPDS no. 71-2141</text>
<text x="819.1" y="438.8" font-family='"Liberation Sans", Arial, sans-serif' font-weight="bold" font-size="45.5" fill="#000" textLength="276.8" lengthAdjust="spacingAndGlyphs"><tspan font-size="45.5" dy="0.0">5.2% Fe-WO</tspan><tspan font-size="31.8" dy="0.0">3</tspan></text>
<text x="825.8" y="495.8" font-family='"Liberation Sans", Arial, sans-serif' font-weight="bold" font-size="45.5" fill="#000" textLength="275.1" lengthAdjust="spacingAndGlyphs"><tspan font-size="45.5" dy="0.0">4.1% Fe-WO</tspan><tspan font-size="31.8" dy="0.0">3</tspan></text>
<text x="822.3" y="552.0" font-family='"Liberation Sans", Arial, sans-serif' font-weight="bold" font-size="45.5" fill="#000" textLength="277.8" lengthAdjust="spacingAndGlyphs"><tspan font-size="45.5" dy="0.0">2.6% Fe-WO</tspan><tspan font-size="31.8" dy="0.0">3</tspan></text>
<text x="823.6" y="621.5" font-family='"Liberation Sans", Arial, sans-serif' font-weight="bold" font-size="45.5" fill="#000" textLength="276.5" lengthAdjust="spacingAndGlyphs"><tspan font-size="45.5" dy="0.0">1.2% Fe-WO</tspan><tspan font-size="31.8" dy="0.0">3</tspan></text>
<text x="937.4" y="674.3" font-family='"Liberation Sans", Arial, sans-serif' font-weight="bold" font-size="45.5" fill="#000" textLength="93.4" lengthAdjust="spacingAndGlyphs"><tspan font-size="45.5" dy="0.0">WO</tspan><tspan font-size="31.8" dy="0.0">3</tspan></text>
<text x="1199.6" y="101.7" font-family='"Liberation Serif", "Times New Roman", serif' font-weight="bold" font-size="105.0" fill="#000" textLength="56.8" lengthAdjust="spacingAndGlyphs" >b</text>
<line x1="1441.0" y1="714.7" x2="1456.0" y2="714.7" stroke="#000" stroke-width="4"/>
<line x1="1441.0" y1="651.8" x2="1449.0" y2="651.8" stroke="#000" stroke-width="4"/>
<line x1="1441.0" y1="588.8" x2="1456.0" y2="588.8" stroke="#000" stroke-width="4"/>
<line x1="1441.0" y1="525.9" x2="1449.0" y2="525.9" stroke="#000" stroke-width="4"/>
<line x1="1441.0" y1="462.9" x2="1456.0" y2="462.9" stroke="#000" stroke-width="4"/>
<line x1="1441.0" y1="400.0" x2="1449.0" y2="400.0" stroke="#000" stroke-width="4"/>
<line x1="1441.0" y1="337.0" x2="1456.0" y2="337.0" stroke="#000" stroke-width="4"/>
<line x1="1441.0" y1="274.1" x2="1449.0" y2="274.1" stroke="#000" stroke-width="4"/>
<line x1="1441.0" y1="211.1" x2="1456.0" y2="211.1" stroke="#000" stroke-width="4"/>
<line x1="1441.0" y1="148.2" x2="1449.0" y2="148.2" stroke="#000" stroke-width="4"/>
<line x1="1441.0" y1="85.2" x2="1456.0" y2="85.2" stroke="#000" stroke-width="4"/>
<line x1="1519.6" y1="728.5" x2="1519.6" y2="713.5" stroke="#000" stroke-width="4"/>
<line x1="1599.9" y1="728.5" x2="1599.9" y2="720.5" stroke="#000" stroke-width="4"/>
<line x1="1680.2" y1="728.5" x2="1680.2" y2="713.5" stroke="#000" stroke-width="4"/>
<line x1="1760.5" y1="728.5" x2="1760.5" y2="720.5" stroke="#000" stroke-width="4"/>
<line x1="1840.8" y1="728.5" x2="1840.8" y2="713.5" stroke="#000" stroke-width="4"/>
<line x1="1921.1" y1="728.5" x2="1921.1" y2="720.5" stroke="#000" stroke-width="4"/>
<line x1="2001.4" y1="728.5" x2="2001.4" y2="713.5" stroke="#000" stroke-width="4"/>
<line x1="2081.7" y1="728.5" x2="2081.7" y2="720.5" stroke="#000" stroke-width="4"/>
<line x1="2162.0" y1="728.5" x2="2162.0" y2="713.5" stroke="#000" stroke-width="4"/>
<line x1="2242.3" y1="728.5" x2="2242.3" y2="720.5" stroke="#000" stroke-width="4"/>
<line x1="2322.6" y1="728.5" x2="2322.6" y2="713.5" stroke="#000" stroke-width="4"/>
<rect x="1441" y="22.5" width="965.4000000000001" height="706.0" fill="none" stroke="#000" stroke-width="5"/>
<text x="1395.2" y="730.2" font-family='"Liberation Sans", Arial, sans-serif' font-weight="bold" font-size="49.0" fill="#000" >0</text>
<text x="1340.6" y="604.3" font-family='"Liberation Sans", Arial, sans-serif' font-weight="bold" font-size="49.0" fill="#000" >100</text>
<text x="1340.6" y="478.4" font-family='"Liberation Sans", Arial, sans-serif' font-weight="bold" font-size="49.0" fill="#000" >200</text>
<text x="1340.6" y="352.5" font-family='"Liberation Sans", Arial, sans-serif' font-weight="bold" font-size="49.0" fill="#000" >300</text>
<text x="1340.6" y="226.6" font-family='"Liberation Sans", Arial, sans-serif' font-weight="bold" font-size="49.0" fill="#000" >400</text>
<text x="1340.6" y="100.7" font-family='"Liberation Sans", Arial, sans-serif' font-weight="bold" font-size="49.0" fill="#000" >500</text>
<text x="1485.2" y="780.0" font-family='"Liberation Sans", Arial, sans-serif' font-weight="bold" font-size="49.5" fill="#000" >0.0</text>
<text x="1645.8" y="780.0" font-family='"Liberation Sans", Arial, sans-serif' font-weight="bold" font-size="49.5" fill="#000" >0.2</text>
<text x="1805.6" y="780.0" font-family='"Liberation Sans", Arial, sans-serif' font-weight="bold" font-size="49.5" fill="#000" >0.4</text>
<text x="1966.9" y="780.0" font-family='"Liberation Sans", Arial, sans-serif' font-weight="bold" font-size="49.5" fill="#000" >0.6</text>
<text x="2127.3" y="780.0" font-family='"Liberation Sans", Arial, sans-serif' font-weight="bold" font-size="49.5" fill="#000" >0.8</text>
<text x="2287.6" y="780.0" font-family='"Liberation Sans", Arial, sans-serif' font-weight="bold" font-size="49.5" fill="#000" >1.0</text>
<text x="1647.8" y="860.0" font-family='"Liberation Sans", Arial, sans-serif' font-weight="bold" font-size="49.0" fill="#000" textLength="550.6" lengthAdjust="spacingAndGlyphs" >Relative Pressure (P/P°)</text>
<text transform="translate(1309.0,727.0) rotate(-90)" x="-2.0" y="0" font-family='"Liberation Sans", Arial, sans-serif' font-weight="bold" font-size="52.0" fill="#000" textLength="627.1" lengthAdjust="spacingAndGlyphs"><tspan font-size="52.0" dy="0.0">Quantity Adsorbed (cm</tspan><tspan font-size="31.2" dy="-18.2">3</tspan><tspan font-size="52.0" dy="18.2">/g)</tspan></text>
<path d="M1527.6,681.3 C1530.6,680.3 1539.0,677.1 1545.3,675.3 C1551.6,673.4 1558.8,671.6 1565.4,670.3 C1571.9,668.9 1578.5,668.1 1584.6,667.2 C1590.8,666.4 1597.1,665.9 1602.3,665.2 C1607.5,664.5 1610.3,663.8 1616.0,663.1 C1621.6,662.4 1630.7,661.5 1636.0,660.9 C1641.4,660.4 1642.7,660.3 1648.1,659.9 C1653.4,659.6 1662.8,659.5 1668.2,658.9 C1673.5,658.4 1671.1,657.7 1680.2,656.8 C1689.3,655.9 1709.1,654.6 1722.8,653.5 C1736.4,652.4 1748.9,651.2 1762.1,650.0 C1775.4,648.7 1788.9,647.3 1802.3,646.0 C1815.6,644.6 1832.4,642.9 1842.4,641.9 C1852.4,640.9 1855.8,640.5 1862.5,639.9 C1869.2,639.3 1875.9,638.9 1882.6,638.4 C1889.2,637.9 1895.9,637.5 1902.6,636.9 C1909.3,636.3 1916.0,635.6 1922.7,634.9 C1929.4,634.2 1936.0,633.7 1942.8,632.9 C1949.6,632.0 1956.8,630.9 1963.7,629.8 C1970.5,628.8 1977.0,627.8 1983.7,626.8 C1990.4,625.8 1997.4,624.9 2003.8,623.7 C2010.2,622.5 2015.9,620.8 2022.3,619.6 C2028.7,618.5 2035.7,617.7 2042.4,616.6 C2049.0,615.5 2055.7,614.3 2062.4,613.1 C2069.1,611.9 2075.8,610.8 2082.5,609.6 C2089.2,608.3 2095.8,607.2 2102.6,605.5 C2109.4,603.9 2116.9,601.2 2123.5,599.5 C2130.0,597.8 2135.5,597.2 2141.9,595.5 C2148.3,593.8 2155.3,591.8 2162.0,589.4 C2168.7,587.1 2175.5,584.3 2182.1,581.2 C2188.6,578.2 2194.8,574.4 2201.3,571.2 C2207.9,567.9 2214.5,566.2 2221.4,561.6 C2228.4,557.0 2236.0,550.4 2243.1,543.5 C2250.2,536.5 2257.2,529.5 2264.0,519.9 C2270.8,510.3 2276.7,504.6 2284.1,485.9 C2291.4,467.2 2302.9,436.8 2308.1,407.8 C2313.4,378.7 2313.4,360.5 2315.4,311.8 C2317.3,263.1 2319.1,148.2 2319.8,115.4" fill="none" stroke="#000" stroke-width="2.6"/>
<path d="M2003.8,623.7 C2007.0,621.9 2016.5,617.0 2023.1,613.1 C2029.6,609.2 2036.5,605.2 2043.2,600.4 C2049.8,595.6 2056.0,590.0 2063.2,584.3 C2070.5,578.5 2079.7,571.9 2086.5,566.0 C2093.3,560.2 2097.6,554.6 2104.2,549.1 C2110.7,543.7 2118.9,537.9 2125.9,533.4 C2132.8,528.9 2139.1,526.0 2145.9,522.1 C2152.8,518.1 2160.0,514.0 2166.8,509.9 C2173.6,505.8 2180.3,501.5 2186.9,497.5 C2193.5,493.6 2199.1,492.0 2206.2,486.1 C2213.3,480.2 2222.2,470.6 2229.5,462.1 C2236.7,453.7 2242.7,446.5 2249.5,435.2 C2256.4,423.9 2264.1,408.0 2270.4,394.2 C2276.7,380.3 2281.0,380.4 2287.3,352.1 C2293.6,323.8 2303.1,260.4 2308.1,224.3 C2313.2,188.2 2315.4,153.7 2317.4,135.6 C2319.3,117.4 2319.4,118.8 2319.8,115.4" fill="none" stroke="#000" stroke-width="2.6"/>
<rect x="1520.6" y="674.3" width="14" height="14" fill="#000"/>
<rect x="1538.3" y="668.3" width="14" height="14" fill="#000"/>
<rect x="1558.4" y="663.3" width="14" height="14" fill="#000"/>
<rect x="1577.6" y="660.2" width="14" height="14" fill="#000"/>
<rect x="1595.3" y="658.2" width="14" height="14" fill="#000"/>
<rect x="1609.0" y="656.1" width="14" height="14" fill="#000"/>
<rect x="1629.0" y="653.9" width="14" height="14" fill="#000"/>
<rect x="1641.1" y="652.9" width="14" height="14" fill="#000"/>
<rect x="1661.2" y="651.9" width="14" height="14" fill="#000"/>
<rect x="1673.2" y="649.8" width="14" height="14" fill="#000"/>
<rect x="1715.8" y="646.5" width="14" height="14" fill="#000"/>
<rect x="1755.1" y="643.0" width="14" height="14" fill="#000"/>
<rect x="1795.3" y="639.0" width="14" height="14" fill="#000"/>
<rect x="1835.4" y="634.9" width="14" height="14" fill="#000"/>
<rect x="1855.5" y="632.9" width="14" height="14" fill="#000"/>
<rect x="1875.6" y="631.4" width="14" height="14" fill="#000"/>
<rect x="1895.6" y="629.9" width="14" height="14" fill="#000"/>
<rect x="1915.7" y="627.9" width="14" height="14" fill="#000"/>
<rect x="1935.8" y="625.9" width="14" height="14" fill="#000"/>
<rect x="1956.7" y="622.8" width="14" height="14" fill="#000"/>
<rect x="1976.7" y="619.8" width="14" height="14" fill="#000"/>
<rect x="1996.8" y="616.7" width="14" height="14" fill="#000"/>
<rect x="2015.3" y="612.6" width="14" height="14" fill="#000"/>
<rect x="2035.4" y="609.6" width="14" height="14" fill="#000"/>
<rect x="2055.4" y="606.1" width="14" height="14" fill="#000"/>
<rect x="2075.5" y="602.6" width="14" height="14" fill="#000"/>
<rect x="2095.6" y="598.5" width="14" height="14" fill="#000"/>
<rect x="2116.5" y="592.5" width="14" height="14" fill="#000"/>
<rect x="2134.9" y="588.5" width="14" height="14" fill="#000"/>
<rect x="2155.0" y="582.4" width="14" height="14" fill="#000"/>
<rect x="2175.1" y="574.2" width="14" height="14" fill="#000"/>
<rect x="2194.3" y="564.2" width="14" height="14" fill="#000"/>
<rect x="2214.4" y="554.6" width="14" height="14" fill="#000"/>
<rect x="2236.1" y="536.5" width="14" height="14" fill="#000"/>
<rect x="2257.0" y="512.9" width="14" height="14" fill="#000"/>
<rect x="2277.1" y="478.9" width="14" height="14" fill="#000"/>
<rect x="2301.1" y="400.8" width="14" height="14" fill="#000"/>
<rect x="1996.8" y="616.7" width="14" height="14" fill="#000"/>
<rect x="2016.1" y="606.1" width="14" height="14" fill="#000"/>
<rect x="2036.2" y="593.4" width="14" height="14" fill="#000"/>
<rect x="2056.2" y="577.3" width="14" height="14" fill="#000"/>
<rect x="2079.5" y="559.0" width="14" height="14" fill="#000"/>
<rect x="2097.2" y="542.1" width="14" height="14" fill="#000"/>
<rect x="2118.9" y="526.4" width="14" height="14" fill="#000"/>
<rect x="2138.9" y="515.1" width="14" height="14" fill="#000"/>
<rect x="2159.8" y="502.9" width="14" height="14" fill="#000"/>
<rect x="2179.9" y="490.5" width="14" height="14" fill="#000"/>
<rect x="2199.2" y="479.1" width="14" height="14" fill="#000"/>
<rect x="2222.5" y="455.1" width="14" height="14" fill="#000"/>
<rect x="2242.5" y="428.2" width="14" height="14" fill="#000"/>
<rect x="2263.4" y="387.2" width="14" height="14" fill="#000"/>
<rect x="2280.3" y="345.1" width="14" height="14" fill="#000"/>
<rect x="2301.1" y="217.3" width="14" height="14" fill="#000"/>
<rect x="2314.8" y="84.7" width="14" height="14" fill="#000"/>
<line x1="1614" y1="462.3" x2="1621" y2="462.3" stroke="#7a7a7a" stroke-width="2"/>
<line x1="1614" y1="422.4" x2="1618" y2="422.4" stroke="#7a7a7a" stroke-width="2"/>
<line x1="1614" y1="382.6" x2="1621" y2="382.6" stroke="#7a7a7a" stroke-width="2"/>
<line x1="1614" y1="342.8" x2="1618" y2="342.8" stroke="#7a7a7a" stroke-width="2"/>
<line x1="1614" y1="302.9" x2="1621" y2="302.9" stroke="#7a7a7a" stroke-width="2"/>
<line x1="1614" y1="263.1" x2="1618" y2="263.1" stroke="#7a7a7a" stroke-width="2"/>
<line x1="1614" y1="223.2" x2="1621" y2="223.2" stroke="#7a7a7a" stroke-width="2"/>
<line x1="1614" y1="183.3" x2="1618" y2="183.3" stroke="#7a7a7a" stroke-width="2"/>
<line x1="1614" y1="143.5" x2="1621" y2="143.5" stroke="#7a7a7a" stroke-width="2"/>
<line x1="1614" y1="103.7" x2="1618" y2="103.7" stroke="#7a7a7a" stroke-width="2"/>
<line x1="1614" y1="63.8" x2="1621" y2="63.8" stroke="#7a7a7a" stroke-width="2"/>
<line x1="1623.0" y1="462" x2="1623.0" y2="455" stroke="#7a7a7a" stroke-width="2"/>
<line x1="1651.1" y1="462" x2="1651.1" y2="458" stroke="#7a7a7a" stroke-width="2"/>
<line x1="1679.2" y1="462" x2="1679.2" y2="455" stroke="#7a7a7a" stroke-width="2"/>
<line x1="1707.3" y1="462" x2="1707.3" y2="458" stroke="#7a7a7a" stroke-width="2"/>
<line x1="1735.4" y1="462" x2="1735.4" y2="455" stroke="#7a7a7a" stroke-width="2"/>
<line x1="1763.5" y1="462" x2="1763.5" y2="458" stroke="#7a7a7a" stroke-width="2"/>
<line x1="1791.6" y1="462" x2="1791.6" y2="455" stroke="#7a7a7a" stroke-width="2"/>
<line x1="1819.7" y1="462" x2="1819.7" y2="458" stroke="#7a7a7a" stroke-width="2"/>
<line x1="1847.8" y1="462" x2="1847.8" y2="455" stroke="#7a7a7a" stroke-width="2"/>
<line x1="1875.9" y1="462" x2="1875.9" y2="458" stroke="#7a7a7a" stroke-width="2"/>
<line x1="1904.0" y1="462" x2="1904.0" y2="455" stroke="#7a7a7a" stroke-width="2"/>
<line x1="1932.1" y1="462" x2="1932.1" y2="458" stroke="#7a7a7a" stroke-width="2"/>
<line x1="1960.2" y1="462" x2="1960.2" y2="455" stroke="#7a7a7a" stroke-width="2"/>
<line x1="1988.3" y1="462" x2="1988.3" y2="458" stroke="#7a7a7a" stroke-width="2"/>
<line x1="2016.4" y1="462" x2="2016.4" y2="455" stroke="#7a7a7a" stroke-width="2"/>
<line x1="2044.5" y1="462" x2="2044.5" y2="458" stroke="#7a7a7a" stroke-width="2"/>
<line x1="2072.6" y1="462" x2="2072.6" y2="455" stroke="#7a7a7a" stroke-width="2"/>
<line x1="2100.7" y1="462" x2="2100.7" y2="458" stroke="#7a7a7a" stroke-width="2"/>
<line x1="2128.8" y1="462" x2="2128.8" y2="455" stroke="#7a7a7a" stroke-width="2"/>
<rect x="1614" y="63.5" width="545.3000000000002" height="398.5" fill="none" stroke="#7a7a7a" stroke-width="3.5"/>
<text x="1536.8" y="470.8" font-family='"Liberation Sans", Arial, sans-serif' font-weight="bold" font-size="31.5" fill="#222" textLength="66.2" lengthAdjust="spacingAndGlyphs" >0.000</text>
<text x="1536.5" y="391.1" font-family='"Liberation Sans", Arial, sans-serif' font-weight="bold" font-size="31.5" fill="#222" textLength="66.2" lengthAdjust="spacingAndGlyphs" >0.005</text>
<text x="1536.8" y="311.4" font-family='"Liberation Sans", Arial, sans-serif' font-weight="bold" font-size="31.5" fill="#222" textLength="66.2" lengthAdjust="spacingAndGlyphs" >0.010</text>
<text x="1536.5" y="231.7" font-family='"Liberation Sans", Arial, sans-serif' font-weight="bold" font-size="31.5" fill="#222" textLength="66.2" lengthAdjust="spacingAndGlyphs" >0.015</text>
<text x="1536.8" y="152.0" font-family='"Liberation Sans", Arial, sans-serif' font-weight="bold" font-size="31.5" fill="#222" textLength="66.2" lengthAdjust="spacingAndGlyphs" >0.020</text>
<text x="1536.5" y="72.3" font-family='"Liberation Sans", Arial, sans-serif' font-weight="bold" font-size="31.5" fill="#222" textLength="66.2" lengthAdjust="spacingAndGlyphs" >0.025</text>
<text x="1615.8" y="490.8" font-family='"Liberation Sans", Arial, sans-serif' font-weight="bold" font-size="29.5" fill="#222" textLength="14.4" lengthAdjust="spacingAndGlyphs" >0</text>
<text x="1664.4" y="490.8" font-family='"Liberation Sans", Arial, sans-serif' font-weight="bold" font-size="29.5" fill="#222" textLength="28.9" lengthAdjust="spacingAndGlyphs" >10</text>
<text x="1721.0" y="490.8" font-family='"Liberation Sans", Arial, sans-serif' font-weight="bold" font-size="29.5" fill="#222" textLength="28.9" lengthAdjust="spacingAndGlyphs" >20</text>
<text x="1777.4" y="490.8" font-family='"Liberation Sans", Arial, sans-serif' font-weight="bold" font-size="29.5" fill="#222" textLength="28.9" lengthAdjust="spacingAndGlyphs" >30</text>
<text x="1833.7" y="490.8" font-family='"Liberation Sans", Arial, sans-serif' font-weight="bold" font-size="29.5" fill="#222" textLength="28.9" lengthAdjust="spacingAndGlyphs" >40</text>
<text x="1889.7" y="490.8" font-family='"Liberation Sans", Arial, sans-serif' font-weight="bold" font-size="29.5" fill="#222" textLength="28.9" lengthAdjust="spacingAndGlyphs" >50</text>
<text x="1945.8" y="490.8" font-family='"Liberation Sans", Arial, sans-serif' font-weight="bold" font-size="29.5" fill="#222" textLength="28.9" lengthAdjust="spacingAndGlyphs" >60</text>
<text x="2001.9" y="490.8" font-family='"Liberation Sans", Arial, sans-serif' font-weight="bold" font-size="29.5" fill="#222" textLength="28.9" lengthAdjust="spacingAndGlyphs" >70</text>
<text x="2058.3" y="490.8" font-family='"Liberation Sans", Arial, sans-serif' font-weight="bold" font-size="29.5" fill="#222" textLength="28.9" lengthAdjust="spacingAndGlyphs" >80</text>
<text x="2114.4" y="490.8" font-family='"Liberation Sans", Arial, sans-serif' font-weight="bold" font-size="29.5" fill="#222" textLength="28.9" lengthAdjust="spacingAndGlyphs" >90</text>
<text x="1757.5" y="538.4" font-family='"Liberation Sans", Arial, sans-serif' font-weight="bold" font-size="29.0" fill="#222" textLength="255.0" lengthAdjust="spacingAndGlyphs" >Pore Diameter (nm)</text>
<text transform="translate(1507.7,453.0) rotate(-90)" x="-1.8" y="0" font-family='"Liberation Sans", Arial, sans-serif' font-weight="bold" font-size="32.0" fill="#222" textLength="342.2" lengthAdjust="spacingAndGlyphs"><tspan font-size="32.0" dy="0.0">Pore Volume (cm</tspan><tspan font-size="19.2" dy="-11.2">3</tspan><tspan font-size="32.0" dy="11.2">/ g • nm)</tspan></text>
<path d="M1632.3,116.9 C1633.0,124.5 1635.0,144.4 1636.5,162.6 C1637.9,180.9 1639.4,208.3 1641.0,226.4 C1642.6,244.5 1643.5,257.2 1646.0,271.0 C1648.6,284.8 1652.1,299.2 1656.2,309.3 C1660.2,319.4 1664.1,324.7 1670.2,331.6 C1676.3,338.5 1684.0,344.3 1692.7,350.7 C1701.4,357.1 1713.5,365.1 1722.5,369.8 C1731.5,374.6 1735.4,375.7 1746.6,379.4 C1757.9,383.1 1775.9,388.4 1789.9,392.2 C1804.0,395.9 1817.5,399.1 1830.9,401.7 C1844.4,404.4 1854.0,406.5 1870.8,408.1 C1887.7,409.7 1907.8,410.5 1932.1,411.3 C1956.4,412.0 1985.4,412.4 2016.4,412.6 C2047.4,412.8 2101.2,412.6 2118.1,412.6" fill="none" stroke="#6a6a6a" stroke-width="2.4"/>
<circle cx="1632.3" cy="116.9" r="4.2" fill="#000"/>
<circle cx="1633.1" cy="129.2" r="4.2" fill="#000"/>
<circle cx="1634.2" cy="135.5" r="4.2" fill="#000"/>
<circle cx="1635.4" cy="143.5" r="4.2" fill="#000"/>
<circle cx="1636.5" cy="163.4" r="4.2" fill="#000"/>
<circle cx="1637.6" cy="185.4" r="4.2" fill="#000"/>
<circle cx="1640.4" cy="208.5" r="4.2" fill="#000"/>
<circle cx="1641.0" cy="227.0" r="4.2" fill="#000"/>
<circle cx="1642.1" cy="239.1" r="4.2" fill="#000"/>
<circle cx="1643.8" cy="255.1" r="4.2" fill="#000"/>
<circle cx="1646.0" cy="271.0" r="4.2" fill="#000"/>
<circle cx="1648.9" cy="285.4" r="4.2" fill="#000"/>
<circle cx="1652.2" cy="298.1" r="4.2" fill="#000"/>
<circle cx="1656.2" cy="309.3" r="4.2" fill="#000"/>
<circle cx="1660.1" cy="318.8" r="4.2" fill="#000"/>
<circle cx="1664.6" cy="326.8" r="4.2" fill="#000"/>
<circle cx="1670.2" cy="333.2" r="4.2" fill="#000"/>
<circle cx="1677.5" cy="335.4" r="4.2" fill="#000"/>
<circle cx="1684.3" cy="343.5" r="4.2" fill="#000"/>
<circle cx="1692.7" cy="350.4" r="4.2" fill="#000"/>
<circle cx="1706.2" cy="360.8" r="4.2" fill="#000"/>
<circle cx="1722.5" cy="370.0" r="4.2" fill="#000"/>
<circle cx="1746.6" cy="379.4" r="4.2" fill="#000"/>
<circle cx="1789.9" cy="391.4" r="4.2" fill="#000"/>
<circle cx="1870.8" cy="410.5" r="4.2" fill="#000"/>
<circle cx="2118.1" cy="412.6" r="4.2" fill="#000"/>
<circle cx="1641.5" cy="232.8" r="4" fill="#000"/>
<circle cx="1642.4" cy="238.5" r="4" fill="#000"/>
<circle cx="1643.3" cy="243.9" r="4" fill="#000"/>
<circle cx="1644.2" cy="248.9" r="4" fill="#000"/>
<circle cx="1645.1" cy="253.7" r="4" fill="#000"/>
<circle cx="1645.9" cy="258.1" r="4" fill="#000"/>
<circle cx="1646.8" cy="262.3" r="4" fill="#000"/>
<circle cx="1647.7" cy="266.2" r="4" fill="#000"/>
<circle cx="1648.6" cy="270.0" r="4" fill="#000"/>
<circle cx="1649.5" cy="273.5" r="4" fill="#000"/>
<circle cx="1650.3" cy="276.9" r="4" fill="#000"/>
<circle cx="1651.2" cy="280.1" r="4" fill="#000"/>
<circle cx="1652.1" cy="283.1" r="4" fill="#000"/>
<circle cx="1653.0" cy="286.0" r="4" fill="#000"/>
<circle cx="1653.9" cy="288.8" r="4" fill="#000"/>
<circle cx="1654.7" cy="291.5" r="4" fill="#000"/>
<circle cx="1655.6" cy="294.0" r="4" fill="#000"/>
<circle cx="1656.5" cy="296.5" r="4" fill="#000"/>
<circle cx="1657.4" cy="298.8" r="4" fill="#000"/>
<circle cx="1658.2" cy="301.1" r="4" fill="#000"/>
<circle cx="1659.1" cy="303.2" r="4" fill="#000"/>
<circle cx="1660.0" cy="305.3" r="4" fill="#000"/>
<circle cx="1660.9" cy="307.3" r="4" fill="#000"/>
<circle cx="1661.8" cy="309.3" r="4" fill="#000"/>
<circle cx="1662.6" cy="311.2" r="4" fill="#000"/>
<circle cx="1663.5" cy="313.0" r="4" fill="#000"/>
<circle cx="1664.4" cy="314.7" r="4" fill="#000"/>
<circle cx="1665.3" cy="316.4" r="4" fill="#000"/>
<circle cx="1666.2" cy="318.1" r="4" fill="#000"/>
<circle cx="1667.0" cy="319.6" r="4" fill="#000"/>
<circle cx="1667.9" cy="321.2" r="4" fill="#000"/>
<circle cx="1668.8" cy="322.7" r="4" fill="#000"/>
<circle cx="1669.7" cy="324.1" r="4" fill="#000"/>
<circle cx="1670.6" cy="325.5" r="4" fill="#000"/>
<circle cx="1671.4" cy="326.9" r="4" fill="#000"/>
<circle cx="1672.3" cy="328.3" r="4" fill="#000"/>
<circle cx="1673.2" cy="329.5" r="4" fill="#000"/>
<circle cx="1674.1" cy="330.8" r="4" fill="#000"/>
<circle cx="1674.9" cy="332.0" r="4" fill="#000"/>
<circle cx="1675.8" cy="333.2" r="4" fill="#000"/>
<text x="20.9" y="972.0" font-family='"Liberation Serif", "Times New Roman", serif' font-weight="bold" font-size="109.0" fill="#000" textLength="51.1" lengthAdjust="spacingAndGlyphs" >c</text>
<line x1="193.5" y1="1565.0" x2="201.5" y2="1565.0" stroke="#000" stroke-width="4"/>
<line x1="193.5" y1="1506.4" x2="208.5" y2="1506.4" stroke="#000" stroke-width="4"/>
<line x1="193.5" y1="1447.9" x2="201.5" y2="1447.9" stroke="#000" stroke-width="4"/>
<line x1="193.5" y1="1389.3" x2="208.5" y2="1389.3" stroke="#000" stroke-width="4"/>
<line x1="193.5" y1="1330.8" x2="201.5" y2="1330.8" stroke="#000" stroke-width="4"/>
<line x1="193.5" y1="1272.2" x2="208.5" y2="1272.2" stroke="#000" stroke-width="4"/>
<line x1="193.5" y1="1213.7" x2="201.5" y2="1213.7" stroke="#000" stroke-width="4"/>
<line x1="193.5" y1="1155.1" x2="208.5" y2="1155.1" stroke="#000" stroke-width="4"/>
<line x1="193.5" y1="1096.6" x2="201.5" y2="1096.6" stroke="#000" stroke-width="4"/>
<line x1="193.5" y1="1038.0" x2="208.5" y2="1038.0" stroke="#000" stroke-width="4"/>
<line x1="193.5" y1="979.5" x2="201.5" y2="979.5" stroke="#000" stroke-width="4"/>
<line x1="216.0" y1="1623.0" x2="216.0" y2="1607.0" stroke="#000" stroke-width="4"/>
<line x1="272.9" y1="1623.0" x2="272.9" y2="1615.0" stroke="#000" stroke-width="4"/>
<line x1="329.9" y1="1623.0" x2="329.9" y2="1607.0" stroke="#000" stroke-width="4"/>
<line x1="386.9" y1="1623.0" x2="386.9" y2="1615.0" stroke="#000" stroke-width="4"/>
<line x1="443.8" y1="1623.0" x2="443.8" y2="1607.0" stroke="#000" stroke-width="4"/>
<line x1="500.8" y1="1623.0" x2="500.8" y2="1615.0" stroke="#000" stroke-width="4"/>
<line x1="557.7" y1="1623.0" x2="557.7" y2="1607.0" stroke="#000" stroke-width="4"/>
<line x1="614.7" y1="1623.0" x2="614.7" y2="1615.0" stroke="#000" stroke-width="4"/>
<line x1="671.6" y1="1623.0" x2="671.6" y2="1607.0" stroke="#000" stroke-width="4"/>
<line x1="728.6" y1="1623.0" x2="728.6" y2="1615.0" stroke="#000" stroke-width="4"/>
<line x1="785.5" y1="1623.0" x2="785.5" y2="1607.0" stroke="#000" stroke-width="4"/>
<line x1="842.5" y1="1623.0" x2="842.5" y2="1615.0" stroke="#000" stroke-width="4"/>
<line x1="899.4" y1="1623.0" x2="899.4" y2="1607.0" stroke="#000" stroke-width="4"/>
<line x1="956.4" y1="1623.0" x2="956.4" y2="1615.0" stroke="#000" stroke-width="4"/>
<line x1="1013.3" y1="1623.0" x2="1013.3" y2="1607.0" stroke="#000" stroke-width="4"/>
<line x1="1070.2" y1="1623.0" x2="1070.2" y2="1615.0" stroke="#000" stroke-width="4"/>
<line x1="1127.2" y1="1623.0" x2="1127.2" y2="1607.0" stroke="#000" stroke-width="4"/>
<rect x="193.5" y="923.8" width="956.2" height="699.2" fill="none" stroke="#000" stroke-width="5.5"/>
<text x="132.9" y="1638.0" font-family='"Liberation Sans", Arial, sans-serif' font-weight="bold" font-size="49.0" fill="#000" >-1</text>
<text x="149.9" y="1520.9" font-family='"Liberation Sans", Arial, sans-serif' font-weight="bold" font-size="49.0" fill="#000" >0</text>
<text x="149.2" y="1403.8" font-family='"Liberation Sans", Arial, sans-serif' font-weight="bold" font-size="49.0" fill="#000" >1</text>
<text x="149.9" y="1286.7" font-family='"Liberation Sans", Arial, sans-serif' font-weight="bold" font-size="49.0" fill="#000" >2</text>
<text x="149.7" y="1169.6" font-family='"Liberation Sans", Arial, sans-serif' font-weight="bold" font-size="49.0" fill="#000" >3</text>
<text x="148.2" y="1052.5" font-family='"Liberation Sans", Arial, sans-serif' font-weight="bold" font-size="49.0" fill="#000" >4</text>
<text x="149.2" y="935.4" font-family='"Liberation Sans", Arial, sans-serif' font-weight="bold" font-size="49.0" fill="#000" >5</text>
<text x="174.9" y="1672.5" font-family='"Liberation Sans", Arial, sans-serif' font-weight="bold" font-size="48.5" fill="#000" >100</text>
<text x="288.5" y="1672.5" font-family='"Liberation Sans", Arial, sans-serif' font-weight="bold" font-size="48.5" fill="#000" >105</text>
<text x="404.1" y="1672.5" font-family='"Liberation Sans", Arial, sans-serif' font-weight="bold" font-size="48.5" fill="#000" >110</text>
<text x="517.7" y="1672.5" font-family='"Liberation Sans", Arial, sans-serif' font-weight="bold" font-size="48.5" fill="#000" >115</text>
<text x="630.5" y="1672.5" font-family='"Liberation Sans", Arial, sans-serif' font-weight="bold" font-size="48.5" fill="#000" >120</text>
<text x="744.1" y="1672.5" font-family='"Liberation Sans", Arial, sans-serif' font-weight="bold" font-size="48.5" fill="#000" >125</text>
<text x="858.3" y="1672.5" font-family='"Liberation Sans", Arial, sans-serif' font-weight="bold" font-size="48.5" fill="#000" >130</text>
<text x="971.9" y="1672.5" font-family='"Liberation Sans", Arial, sans-serif' font-weight="bold" font-size="48.5" fill="#000" >135</text>
<text x="1086.1" y="1672.5" font-family='"Liberation Sans", Arial, sans-serif' font-weight="bold" font-size="48.5" fill="#000" >140</text>
<text x="471.8" y="1756.8" font-family='"Liberation Sans", Arial, sans-serif' font-weight="bold" font-size="49.0" fill="#000" textLength="287.7" lengthAdjust="spacingAndGlyphs" >Temperature</text>
<text x="786.4" y="1756.8" font-family='"Liberation Sans", Arial, sans-serif' font-weight="bold" font-size="49.0" fill="#000" textLength="86.3" lengthAdjust="spacingAndGlyphs" >(°C)</text>
<text transform="translate(101.0,1534.0) rotate(-90)" x="-2.0" y="0" font-family='"Liberation Sans", Arial, sans-serif' font-weight="bold" font-size="47.0" fill="#000" textLength="510.9" lengthAdjust="spacingAndGlyphs"><tspan font-size="47.0" dy="0.0">Gas Response (R</tspan><tspan font-size="32.0" dy="2.4">g</tspan><tspan font-size="47.0" dy="-2.4">/R</tspan><tspan font-size="32.0" dy="2.4">a</tspan><tspan font-size="47.0" dy="-2.4">)</tspan></text>
<path d="M216.0,1377.6 C235.0,1370.8 291.9,1350.3 329.9,1336.6 C367.9,1322.9 405.8,1310.3 443.8,1295.6 C481.8,1281.0 519.7,1260.5 557.7,1248.8 C595.7,1237.1 633.6,1226.8 671.6,1225.4 C709.6,1223.9 747.5,1232.7 785.5,1240.0 C823.5,1247.3 861.4,1260.0 899.4,1269.3 C937.4,1278.5 975.3,1287.3 1013.3,1295.6 C1051.3,1303.9 1108.2,1315.1 1127.2,1319.0" fill="none" stroke="#000000" stroke-width="4.6" stroke-linejoin="round"/>
<rect x="209.5" y="1371.1" width="13" height="13" fill="#000000"/>
<rect x="323.4" y="1324.2" width="13" height="13" fill="#000000"/>
<rect x="437.3" y="1300.8" width="13" height="13" fill="#000000"/>
<rect x="551.2" y="1230.6" width="13" height="13" fill="#000000"/>
<rect x="665.1" y="1207.2" width="13" height="13" fill="#000000"/>
<rect x="779.0" y="1230.6" width="13" height="13" fill="#000000"/>
<rect x="892.9" y="1265.7" width="13" height="13" fill="#000000"/>
<rect x="1006.8" y="1289.1" width="13" height="13" fill="#000000"/>
<rect x="1120.7" y="1312.5" width="13" height="13" fill="#000000"/>
<path d="M216.0,1330.8 C235.0,1319.0 291.9,1282.9 329.9,1260.5 C367.9,1238.0 405.8,1215.6 443.8,1196.1 C481.8,1176.6 519.7,1157.1 557.7,1143.4 C595.7,1129.7 633.6,1117.0 671.6,1114.1 C709.6,1111.2 747.5,1117.0 785.5,1125.8 C823.5,1134.6 861.4,1152.7 899.4,1166.8 C937.4,1181.0 975.3,1197.1 1013.3,1210.7 C1051.3,1224.4 1108.2,1242.4 1127.2,1248.8" fill="none" stroke="#008000" stroke-width="4.6" stroke-linejoin="round"/>
<rect x="209.5" y="1324.2" width="13" height="13" fill="#006400"/>
<rect x="323.4" y="1254.0" width="13" height="13" fill="#006400"/>
<rect x="437.3" y="1183.7" width="13" height="13" fill="#006400"/>
<rect x="551.2" y="1136.9" width="13" height="13" fill="#006400"/>
<rect x="665.1" y="1090.1" width="13" height="13" fill="#006400"/>
<rect x="779.0" y="1113.5" width="13" height="13" fill="#006400"/>
<rect x="892.9" y="1160.3" width="13" height="13" fill="#006400"/>
<rect x="1006.8" y="1207.2" width="13" height="13" fill="#006400"/>
<rect x="1120.7" y="1242.3" width="13" height="13" fill="#006400"/>
<path d="M216.0,1237.1 C235.0,1225.7 291.9,1189.4 329.9,1168.6 C367.9,1147.7 405.8,1127.4 443.8,1111.8 C481.8,1096.2 519.7,1084.4 557.7,1074.9 C595.7,1065.4 633.6,1056.9 671.6,1055.0 C709.6,1053.0 747.5,1057.9 785.5,1063.2 C823.5,1068.4 861.4,1077.4 899.4,1086.6 C937.4,1095.8 975.3,1108.7 1013.3,1118.2 C1051.3,1127.7 1108.2,1139.2 1127.2,1143.4" fill="none" stroke="#ff80ff" stroke-width="4.6" stroke-linejoin="round"/>
<rect x="209.5" y="1230.6" width="13" height="13" fill="#ff66f5"/>
<rect x="323.4" y="1160.3" width="13" height="13" fill="#ff66f5"/>
<rect x="437.3" y="1101.8" width="13" height="13" fill="#ff66f5"/>
<rect x="551.2" y="1066.6" width="13" height="13" fill="#ff66f5"/>
<rect x="665.1" y="1043.2" width="13" height="13" fill="#ff66f5"/>
<rect x="779.0" y="1054.9" width="13" height="13" fill="#ff66f5"/>
<rect x="892.9" y="1078.3" width="13" height="13" fill="#ff66f5"/>
<rect x="1006.8" y="1113.5" width="13" height="13" fill="#ff66f5"/>
<rect x="1120.7" y="1136.9" width="13" height="13" fill="#ff66f5"/>
<path d="M216.0,1201.9 L329.9,1143.4 L443.8,1073.1 L557.7,1026.3 L671.6,1002.9 L785.5,1032.1 L899.4,1061.4 L1013.3,1084.8 L1127.2,1120.0" fill="none" stroke="#808000" stroke-width="4.6" stroke-linejoin="round"/>
<rect x="209.5" y="1195.4" width="13" height="13" fill="#6e6e00"/>
<rect x="323.4" y="1136.9" width="13" height="13" fill="#6e6e00"/>
<rect x="437.3" y="1066.6" width="13" height="13" fill="#6e6e00"/>
<rect x="551.2" y="1019.8" width="13" height="13" fill="#6e6e00"/>
<rect x="665.1" y="996.4" width="13" height="13" fill="#6e6e00"/>
<rect x="779.0" y="1025.6" width="13" height="13" fill="#6e6e00"/>
<rect x="892.9" y="1054.9" width="13" height="13" fill="#6e6e00"/>
<rect x="1006.8" y="1078.3" width="13" height="13" fill="#6e6e00"/>
<rect x="1120.7" y="1113.5" width="13" height="13" fill="#6e6e00"/>
<path d="M216.0,1166.8 C235.0,1153.4 291.9,1111.1 329.9,1086.6 C367.9,1062.1 405.8,1037.4 443.8,1019.8 C481.8,1002.3 519.7,991.0 557.7,981.2 C595.7,971.4 633.6,963.3 671.6,961.3 C709.6,959.3 747.5,964.2 785.5,969.5 C823.5,974.8 861.4,983.7 899.4,992.9 C937.4,1002.1 975.3,1015.1 1013.3,1024.5 C1051.3,1034.0 1108.2,1045.5 1127.2,1049.7" fill="none" stroke="#1010e6" stroke-width="4.6" stroke-linejoin="round"/>
<rect x="209.5" y="1160.3" width="13" height="13" fill="#00008c"/>
<rect x="323.4" y="1078.3" width="13" height="13" fill="#00008c"/>
<rect x="437.3" y="1008.1" width="13" height="13" fill="#00008c"/>
<rect x="551.2" y="973.0" width="13" height="13" fill="#00008c"/>
<rect x="665.1" y="949.5" width="13" height="13" fill="#00008c"/>
<rect x="779.0" y="961.2" width="13" height="13" fill="#00008c"/>
<rect x="892.9" y="984.7" width="13" height="13" fill="#00008c"/>
<rect x="1006.8" y="1019.8" width="13" height="13" fill="#00008c"/>
<rect x="1120.7" y="1043.2" width="13" height="13" fill="#00008c"/>
<text x="628.3" y="1322.0" font-family='"Liberation Sans", Arial, sans-serif' font-weight="bold" font-size="46.5" fill="#000" textLength="49.5" lengthAdjust="spacingAndGlyphs" >S1</text>
<line x1="692" y1="1310.2" x2="745.2" y2="1310.2" stroke="#555" stroke-width="3.8"/>
<text x="628.3" y="1381.7" font-family='"Liberation Sans", Arial, sans-serif' font-weight="bold" font-size="46.5" fill="#0a8a3a" textLength="50.4" lengthAdjust="spacingAndGlyphs" >S2</text>
<line x1="692" y1="1370" x2="745.2" y2="1370" stroke="#5f9f78" stroke-width="3.8"/>
<text x="628.3" y="1441.4" font-family='"Liberation Sans", Arial, sans-serif' font-weight="bold" font-size="46.5" fill="#ff80ff" textLength="50.2" lengthAdjust="spacingAndGlyphs" >S3</text>
<line x1="692" y1="1429" x2="745.2" y2="1429" stroke="#ffa8f5" stroke-width="3.8"/>
<text x="628.3" y="1501.0" font-family='"Liberation Sans", Arial, sans-serif' font-weight="bold" font-size="46.5" fill="#808000" textLength="49.0" lengthAdjust="spacingAndGlyphs" >S4</text>
<line x1="692" y1="1489.3" x2="745.2" y2="1489.3" stroke="#9a9a50" stroke-width="3.8"/>
<text x="628.3" y="1561.0" font-family='"Liberation Sans", Arial, sans-serif' font-weight="bold" font-size="46.5" fill="#1515e0" textLength="49.8" lengthAdjust="spacingAndGlyphs" >S5</text>
<line x1="692" y1="1549.8" x2="745.2" y2="1549.8" stroke="#9a9ae0" stroke-width="3.8"/>
<text x="1201.4" y="967.8" font-family='"Liberation Serif", "Times New Roman", serif' font-weight="bold" font-size="105.5" fill="#000" textLength="63.3" lengthAdjust="spacingAndGlyphs" >d</text>
<rect x="1406.6" y="936" width="517.4" height="478" fill="#f8f8f8"/>
<circle cx="1663.0" cy="1174.0" r="223.0" fill="url(#sph)"/>
<g clip-path="url(#hole)"><polygon points="1604.0,1030.0 1630.0,995.0 1672.0,984.0 1705.0,988.0 1740.0,1006.0 1772.0,1034.0 1798.0,1066.0 1818.0,1100.0 1834.0,1140.0 1842.0,1180.0 1840.0,1214.0 1604.0,1214.0" fill="#2a7884"/><circle cx="1604.0" cy="1020.1" r="15.6" fill="url(#ballin)"/><circle cx="1634.5" cy="1016.4" r="15.6" fill="url(#ballin)"/><circle cx="1665.0" cy="1013.8" r="15.6" fill="url(#ballin)"/><circle cx="1695.5" cy="1012.4" r="15.6" fill="url(#ballin)"/><circle cx="1726.0" cy="1012.0" r="15.6" fill="url(#ballin)"/><circle cx="1756.5" cy="1012.8" r="15.6" fill="url(#ballin)"/><circle cx="1787.0" cy="1014.7" r="15.6" fill="url(#ballin)"/><circle cx="1817.5" cy="1017.7" r="15.6" fill="url(#ballin)"/><circle cx="1848.0" cy="1021.8" r="15.6" fill="url(#ballin)"/><circle cx="1604.0" cy="1049.1" r="15.6" fill="url(#ballin)"/><circle cx="1634.5" cy="1045.4" r="15.6" fill="url(#ballin)"/><circle cx="1665.0" cy="1042.8" r="15.6" fill="url(#ballin)"/><circle cx="1695.5" cy="1041.4" r="15.6" fill="url(#ballin)"/><circle cx="1726.0" cy="1041.0" r="15.6" fill="url(#ballin)"/><circle cx="1756.5" cy="1041.8" r="15.6" fill="url(#ballin)"/><circle cx="1787.0" cy="1043.7" r="15.6" fill="url(#ballin)"/><circle cx="1817.5" cy="1046.7" r="15.6" fill="url(#ballin)"/><circle cx="1848.0" cy="1050.8" r="15.6" fill="url(#ballin)"/><circle cx="1604.0" cy="1078.1" r="15.6" fill="url(#ballin)"/><circle cx="1634.5" cy="1074.4" r="15.6" fill="url(#ballin)"/><circle cx="1665.0" cy="1071.8" r="15.6" fill="url(#ballin)"/><circle cx="1695.5" cy="1070.4" r="15.6" fill="url(#ballin)"/><circle cx="1726.0" cy="1070.0" r="15.6" fill="url(#ballin)"/><circle cx="1756.5" cy="1070.8" r="15.6" fill="url(#ballin)"/><circle cx="1787.0" cy="1072.7" r="15.6" fill="url(#ballin)"/><circle cx="1817.5" cy="1075.7" r="15.6" fill="url(#ballin)"/><circle cx="1848.0" cy="1079.8" r="15.6" fill="url(#ballin)"/><circle cx="1604.0" cy="1107.1" r="15.6" fill="url(#ballin)"/><circle cx="1634.5" cy="1103.4" r="15.6" fill="url(#ballin)"/><circle cx="1665.0" cy="1100.8" r="15.6" fill="url(#ballin)"/><circle cx="1695.5" cy="1099.4" r="15.6" fill="url(#ballin)"/><circle cx="1726.0" cy="1099.0" r="15.6" fill="url(#ballin)"/><circle cx="1756.5" cy="1099.8" r="15.6" fill="url(#ballin)"/><circle cx="1787.0" cy="1101.7" r="15.6" fill="url(#ballin)"/><circle cx="1817.5" cy="1104.7" r="15.6" fill="url(#ballin)"/><circle cx="1848.0" cy="1108.8" r="15.6" fill="url(#ballin)"/><circle cx="1604.0" cy="1136.1" r="15.6" fill="url(#ballin)"/><circle cx="1634.5" cy="1132.4" r="15.6" fill="url(#ballin)"/><circle cx="1665.0" cy="1129.8" r="15.6" fill="url(#ballin)"/><circle cx="1695.5" cy="1128.4" r="15.6" fill="url(#ballin)"/><circle cx="1726.0" cy="1128.0" r="15.6" fill="url(#ballin)"/><circle cx="1756.5" cy="1128.8" r="15.6" fill="url(#ballin)"/><circle cx="1787.0" cy="1130.7" r="15.6" fill="url(#ballin)"/><circle cx="1817.5" cy="1133.7" r="15.6" fill="url(#ballin)"/><circle cx="1848.0" cy="1137.8" r="15.6" fill="url(#ballin)"/><circle cx="1604.0" cy="1165.1" r="15.6" fill="url(#ballin)"/><circle cx="1634.5" cy="1161.4" r="15.6" fill="url(#ballin)"/><circle cx="1665.0" cy="1158.8" r="15.6" fill="url(#ballin)"/><circle cx="1695.5" cy="1157.4" r="15.6" fill="url(#ballin)"/><circle cx="1726.0" cy="1157.0" r="15.6" fill="url(#ballin)"/><circle cx="1756.5" cy="1157.8" r="15.6" fill="url(#ballin)"/><circle cx="1787.0" cy="1159.7" r="15.6" fill="url(#ballin)"/><circle cx="1817.5" cy="1162.7" r="15.6" fill="url(#ballin)"/><circle cx="1848.0" cy="1166.8" r="15.6" fill="url(#ballin)"/><circle cx="1604.0" cy="1194.1" r="15.6" fill="url(#ballin)"/><circle cx="1634.5" cy="1190.4" r="15.6" fill="url(#ballin)"/><circle cx="1665.0" cy="1187.8" r="15.6" fill="url(#ballin)"/><circle cx="1695.5" cy="1186.4" r="15.6" fill="url(#ballin)"/><circle cx="1726.0" cy="1186.0" r="15.6" fill="url(#ballin)"/><circle cx="1756.5" cy="1186.8" r="15.6" fill="url(#ballin)"/><circle cx="1787.0" cy="1188.7" r="15.6" fill="url(#ballin)"/><circle cx="1817.5" cy="1191.7" r="15.6" fill="url(#ballin)"/><circle cx="1848.0" cy="1195.8" r="15.6" fill="url(#ballin)"/><circle cx="1604.0" cy="1223.1" r="15.6" fill="url(#ballin)"/><circle cx="1634.5" cy="1219.4" r="15.6" fill="url(#ballin)"/><circle cx="1665.0" cy="1216.8" r="15.6" fill="url(#ballin)"/><circle cx="1695.5" cy="1215.4" r="15.6" fill="url(#ballin)"/><circle cx="1726.0" cy="1215.0" r="15.6" fill="url(#ballin)"/><circle cx="1756.5" cy="1215.8" r="15.6" fill="url(#ballin)"/><circle cx="1787.0" cy="1217.7" r="15.6" fill="url(#ballin)"/><circle cx="1817.5" cy="1220.7" r="15.6" fill="url(#ballin)"/><circle cx="1848.0" cy="1224.8" r="15.6" fill="url(#ballin)"/><path d="M1650.0,1003.0 L1675.0,994.0 L1706.0,998.0 L1741.0,1016.0 L1773.0,1044.0 L1799.0,1076.0 L1819.0,1110.0 L1832.0,1145.0" fill="none" stroke="#06222a" stroke-width="30" stroke-linecap="round" filter="url(#blur4)"/></g>
<g clip-path="url(#sphclip)"><circle cx="1510.1" cy="1314.0" r="17.5" fill="url(#ball0)"/><circle cx="1460.2" cy="1217.2" r="17.5" fill="url(#ball0)"/><circle cx="1792.9" cy="1012.3" r="17.5" fill="url(#ball0)"/><circle cx="1534.2" cy="1011.3" r="17.5" fill="url(#ball1)"/><circle cx="1870.4" cy="1167.1" r="17.5" fill="url(#ball0)"/><circle cx="1474.2" cy="1087.8" r="17.5" fill="url(#ball1)"/><circle cx="1866.5" cy="1214.7" r="17.5" fill="url(#ball0)"/><circle cx="1689.7" cy="1379.8" r="17.5" fill="url(#ball0)"/><circle cx="1636.6" cy="968.2" r="17.5" fill="url(#ball1)"/><circle cx="1455.6" cy="1180.3" r="17.5" fill="url(#ball0)"/><circle cx="1792.2" cy="1336.3" r="17.5" fill="url(#ball0)"/><circle cx="1745.4" cy="1364.4" r="17.5" fill="url(#ball0)"/><circle cx="1484.7" cy="1280.0" r="17.5" fill="url(#ball0)"/><circle cx="1568.2" cy="989.5" r="17.5" fill="url(#ball1)"/><circle cx="1847.9" cy="1080.0" r="17.5" fill="url(#ball0)"/><circle cx="1532.9" cy="1335.5" r="17.5" fill="url(#ball0)"/><circle cx="1865.7" cy="1130.2" r="17.5" fill="url(#ball0)"/><circle cx="1815.6" cy="1033.7" r="17.5" fill="url(#ball0)"/><circle cx="1491.9" cy="1056.9" r="17.5" fill="url(#ball1)"/><circle cx="1657.5" cy="1381.1" r="17.5" fill="url(#ball0)"/><circle cx="1458.0" cy="1144.6" r="17.5" fill="url(#ball1)"/><circle cx="1846.4" cy="1270.2" r="17.5" fill="url(#ball0)"/><circle cx="1819.1" cy="1310.0" r="17.5" fill="url(#ball0)"/><circle cx="1718.6" cy="974.6" r="17.5" fill="url(#ball1)"/><circle cx="1560.4" cy="1353.7" r="17.5" fill="url(#ball0)"/><circle cx="1467.7" cy="1242.4" r="17.5" fill="url(#ball0)"/><circle cx="1750.2" cy="986.4" r="17.5" fill="url(#ball0)"/><circle cx="1607.1" cy="974.9" r="17.5" fill="url(#ball1)"/><circle cx="1624.2" cy="1377.1" r="17.5" fill="url(#ball0)"/><circle cx="1591.3" cy="1367.8" r="17.5" fill="url(#ball0)"/><circle cx="1685.7" cy="968.6" r="17.5" fill="url(#ball1)"/><circle cx="1515.8" cy="1029.0" r="17.5" fill="url(#ball2)"/><circle cx="1868.6" cy="1191.3" r="17.5" fill="url(#ball0)"/><circle cx="1716.7" cy="1373.2" r="17.5" fill="url(#ball0)"/><circle cx="1502.8" cy="1303.9" r="17.5" fill="url(#ball0)"/><circle cx="1778.5" cy="1003.2" r="17.5" fill="url(#ball0)"/><circle cx="1859.1" cy="1237.5" r="17.5" fill="url(#ball0)"/><circle cx="1466.9" cy="1110.6" r="17.5" fill="url(#ball1)"/><circle cx="1769.1" cy="1350.5" r="17.5" fill="url(#ball0)"/><circle cx="1459.5" cy="1205.3" r="17.5" fill="url(#ball1)"/><circle cx="1832.6" cy="1057.4" r="17.5" fill="url(#ball0)"/><circle cx="1856.9" cy="1105.4" r="17.5" fill="url(#ball0)"/><circle cx="1546.1" cy="1004.8" r="17.5" fill="url(#ball2)"/><circle cx="1653.6" cy="968.8" r="17.5" fill="url(#ball1)"/><circle cx="1867.2" cy="1155.1" r="17.5" fill="url(#ball0)"/><circle cx="1481.8" cy="1078.7" r="17.5" fill="url(#ball2)"/><circle cx="1480.9" cy="1267.2" r="17.5" fill="url(#ball0)"/><circle cx="1526.1" cy="1325.7" r="17.5" fill="url(#ball0)"/><circle cx="1685.1" cy="1377.1" r="17.5" fill="url(#ball0)"/><circle cx="1581.7" cy="986.6" r="17.5" fill="url(#ball2)"/><circle cx="1801.7" cy="1024.0" r="17.5" fill="url(#ball0)"/><circle cx="1798.9" cy="1326.4" r="17.5" fill="url(#ball0)"/><circle cx="1831.2" cy="1289.7" r="17.5" fill="url(#ball0)"/><circle cx="1458.9" cy="1169.2" r="17.5" fill="url(#ball1)"/><circle cx="1502.7" cy="1049.7" r="17.5" fill="url(#ball2)"/><circle cx="1742.0" cy="1360.8" r="17.5" fill="url(#ball0)"/><circle cx="1624.2" cy="975.1" r="17.5" fill="url(#ball2)"/><circle cx="1651.7" cy="1376.1" r="17.5" fill="url(#ball0)"/><circle cx="1553.8" cy="1344.4" r="17.5" fill="url(#ball0)"/><circle cx="1861.2" cy="1214.1" r="17.5" fill="url(#ball0)"/><circle cx="1843.0" cy="1082.2" r="17.5" fill="url(#ball0)"/><circle cx="1469.0" cy="1230.4" r="17.5" fill="url(#ball1)"/><circle cx="1708.8" cy="977.3" r="17.5" fill="url(#ball1)"/><circle cx="1741.1" cy="987.7" r="17.5" fill="url(#ball1)"/><circle cx="1846.5" cy="1258.2" r="17.5" fill="url(#ball0)"/><circle cx="1465.0" cy="1134.7" r="17.5" fill="url(#ball2)"/><circle cx="1584.8" cy="1359.4" r="17.5" fill="url(#ball0)"/><circle cx="1617.8" cy="1370.1" r="17.5" fill="url(#ball0)"/><circle cx="1859.3" cy="1130.5" r="17.5" fill="url(#ball0)"/><circle cx="1529.4" cy="1023.8" r="17.5" fill="url(#ball2)"/><circle cx="1499.5" cy="1290.7" r="17.5" fill="url(#ball0)"/><circle cx="1818.4" cy="1047.5" r="17.5" fill="url(#ball0)"/><circle cx="1675.9" cy="974.3" r="17.5" fill="url(#ball2)"/><circle cx="1769.5" cy="1004.6" r="17.5" fill="url(#ball1)"/><circle cx="1862.8" cy="1178.8" r="17.5" fill="url(#ball0)"/><circle cx="1774.6" cy="1339.4" r="17.5" fill="url(#ball0)"/><circle cx="1561.4" cy="1002.8" r="17.5" fill="url(#ball2)"/><circle cx="1477.3" cy="1102.3" r="17.5" fill="url(#ball2)"/><circle cx="1711.7" cy="1366.8" r="17.5" fill="url(#ball0)"/><circle cx="1811.4" cy="1306.3" r="17.5" fill="url(#ball0)"/><circle cx="1465.2" cy="1194.3" r="17.5" fill="url(#ball1)"/><circle cx="1599.5" cy="987.2" r="17.5" fill="url(#ball2)"/><circle cx="1522.7" cy="1312.1" r="17.5" fill="url(#ball0)"/><circle cx="1483.7" cy="1254.7" r="17.5" fill="url(#ball1)"/><circle cx="1495.3" cy="1072.5" r="17.5" fill="url(#ball2)"/><circle cx="1645.6" cy="979.1" r="17.5" fill="url(#ball2)"/><circle cx="1791.3" cy="1026.3" r="17.5" fill="url(#ball1)"/><circle cx="1846.4" cy="1107.1" r="17.5" fill="url(#ball0)"/><circle cx="1848.5" cy="1234.7" r="17.5" fill="url(#ball0)"/><circle cx="1679.4" cy="1368.3" r="17.5" fill="url(#ball0)"/><circle cx="1468.6" cy="1159.7" r="17.5" fill="url(#ball2)"/><circle cx="1829.0" cy="1276.3" r="17.5" fill="url(#ball0)"/><circle cx="1746.7" cy="1348.5" r="17.5" fill="url(#ball0)"/><circle cx="1827.5" cy="1072.2" r="17.5" fill="url(#ball0)"/><circle cx="1549.9" cy="1330.9" r="17.5" fill="url(#ball0)"/><circle cx="1855.1" cy="1154.6" r="17.5" fill="url(#ball0)"/><circle cx="1518.7" cy="1045.7" r="17.5" fill="url(#ball2)"/><circle cx="1730.0" cy="993.7" r="17.5" fill="url(#ball1)"/><circle cx="1646.0" cy="1365.3" r="17.5" fill="url(#ball0)"/><circle cx="1476.8" cy="1219.1" r="17.5" fill="url(#ball1)"/><circle cx="1787.5" cy="1319.6" r="17.5" fill="url(#ball0)"/><circle cx="1852.5" cy="1200.6" r="17.5" fill="url(#ball0)"/><circle cx="1698.1" cy="985.9" r="17.5" fill="url(#ball2)"/><circle cx="1580.2" cy="1346.3" r="17.5" fill="url(#ball0)"/><circle cx="1612.5" cy="1357.9" r="17.5" fill="url(#ball0)"/><circle cx="1478.3" cy="1127.0" r="17.5" fill="url(#ball2)"/><circle cx="1547.3" cy="1022.7" r="17.5" fill="url(#ball2)"/><circle cx="1503.3" cy="1277.7" r="17.5" fill="url(#ball1)"/><circle cx="1757.7" cy="1010.1" r="17.5" fill="url(#ball1)"/><circle cx="1580.9" cy="1004.2" r="17.5" fill="url(#ball2)"/><circle cx="1620.7" cy="991.3" r="17.5" fill="url(#ball2)"/><circle cx="1804.3" cy="1050.7" r="17.5" fill="url(#ball1)"/><circle cx="1716.1" cy="1353.6" r="17.5" fill="url(#ball0)"/><circle cx="1667.4" cy="988.1" r="17.5" fill="url(#ball2)"/><circle cx="1493.8" cy="1096.9" r="17.5" fill="url(#ball2)"/><circle cx="1477.6" cy="1184.7" r="17.5" fill="url(#ball2)"/><circle cx="1807.0" cy="1291.3" r="17.5" fill="url(#ball0)"/><circle cx="1830.7" cy="1252.7" r="17.5" fill="url(#ball0)"/><circle cx="1842.6" cy="1130.8" r="17.5" fill="url(#ball0)"/><circle cx="1527.2" cy="1298.6" r="17.5" fill="url(#ball0)"/><circle cx="1493.4" cy="1243.0" r="17.5" fill="url(#ball1)"/><circle cx="1760.1" cy="1329.2" r="17.5" fill="url(#ball0)"/><circle cx="1828.4" cy="1096.5" r="17.5" fill="url(#ball0)"/><circle cx="1683.7" cy="1354.5" r="17.5" fill="url(#ball0)"/><circle cx="1844.4" cy="1176.5" r="17.5" fill="url(#ball0)"/><circle cx="1514.5" cy="1069.7" r="17.5" fill="url(#ball3)"/><circle cx="1776.3" cy="1032.4" r="17.5" fill="url(#ball1)"/><circle cx="1836.7" cy="1219.8" r="17.5" fill="url(#ball0)"/><circle cx="1554.6" cy="1316.9" r="17.5" fill="url(#ball0)"/><circle cx="1485.0" cy="1152.1" r="17.5" fill="url(#ball2)"/><circle cx="1539.9" cy="1045.4" r="17.5" fill="url(#ball3)"/><circle cx="1650.4" cy="1351.1" r="17.5" fill="url(#ball0)"/><circle cx="1584.9" cy="1332.0" r="17.5" fill="url(#ball0)"/><circle cx="1569.7" cy="1025.2" r="17.5" fill="url(#ball3)"/><circle cx="1617.2" cy="1343.5" r="17.5" fill="url(#ball0)"/><circle cx="1643.2" cy="999.9" r="17.5" fill="url(#ball3)"/><circle cx="1603.8" cy="1009.5" r="17.5" fill="url(#ball3)"/><circle cx="1807.3" cy="1075.3" r="17.5" fill="url(#ball1)"/><circle cx="1781.3" cy="1302.7" r="17.5" fill="url(#ball0)"/><circle cx="1491.7" cy="1209.1" r="17.5" fill="url(#ball2)"/><circle cx="1729.9" cy="1334.9" r="17.5" fill="url(#ball0)"/><circle cx="1514.5" cy="1265.2" r="17.5" fill="url(#ball1)"/><circle cx="1808.4" cy="1267.4" r="17.5" fill="url(#ball0)"/><circle cx="1498.4" cy="1122.0" r="17.5" fill="url(#ball2)"/><circle cx="1697.8" cy="1336.5" r="17.5" fill="url(#ball0)"/><circle cx="1539.6" cy="1285.3" r="17.5" fill="url(#ball1)"/><circle cx="1827.7" cy="1195.4" r="17.5" fill="url(#ball0)"/><circle cx="1516.9" cy="1094.9" r="17.5" fill="url(#ball3)"/><circle cx="1497.1" cy="1176.9" r="17.5" fill="url(#ball2)"/><circle cx="1815.8" cy="1235.9" r="17.5" fill="url(#ball0)"/><circle cx="1752.4" cy="1310.4" r="17.5" fill="url(#ball0)"/><circle cx="1510.6" cy="1232.2" r="17.5" fill="url(#ball2)"/><circle cx="1539.7" cy="1069.8" r="17.5" fill="url(#ball3)"/><circle cx="1664.6" cy="1333.9" r="17.5" fill="url(#ball0)"/><circle cx="1568.0" cy="1302.6" r="17.5" fill="url(#ball1)"/><circle cx="1782.2" cy="1278.6" r="17.5" fill="url(#ball0)"/><circle cx="1566.5" cy="1048.8" r="17.5" fill="url(#ball3)"/><circle cx="1596.5" cy="1032.0" r="17.5" fill="url(#ball3)"/><circle cx="1508.8" cy="1147.1" r="17.5" fill="url(#ball3)"/><circle cx="1598.9" cy="1316.8" r="17.5" fill="url(#ball0)"/><circle cx="1631.4" cy="1327.3" r="17.5" fill="url(#ball0)"/><circle cx="1533.8" cy="1253.4" r="17.5" fill="url(#ball2)"/><circle cx="1721.2" cy="1314.1" r="17.5" fill="url(#ball0)"/><circle cx="1514.3" cy="1200.6" r="17.5" fill="url(#ball2)"/><circle cx="1790.6" cy="1248.1" r="17.5" fill="url(#ball0)"/><circle cx="1805.6" cy="1210.8" r="17.5" fill="url(#ball0)"/><circle cx="1525.9" cy="1120.3" r="17.5" fill="url(#ball3)"/><circle cx="1752.9" cy="1285.7" r="17.5" fill="url(#ball0)"/><circle cx="1688.4" cy="1313.6" r="17.5" fill="url(#ball0)"/><circle cx="1560.6" cy="1272.2" r="17.5" fill="url(#ball1)"/><circle cx="1546.7" cy="1094.8" r="17.5" fill="url(#ball3)"/><circle cx="1524.7" cy="1171.3" r="17.5" fill="url(#ball3)"/><circle cx="1571.5" cy="1073.5" r="17.5" fill="url(#ball3)"/><circle cx="1536.1" cy="1222.6" r="17.5" fill="url(#ball2)"/><circle cx="1590.3" cy="1288.0" r="17.5" fill="url(#ball1)"/><circle cx="1655.1" cy="1308.9" r="17.5" fill="url(#ball0)"/><circle cx="1599.5" cy="1056.7" r="17.5" fill="url(#ball3)"/><circle cx="1622.1" cy="1300.3" r="17.5" fill="url(#ball1)"/><circle cx="1761.9" cy="1256.3" r="17.5" fill="url(#ball0)"/><circle cx="1721.3" cy="1288.7" r="17.5" fill="url(#ball0)"/><circle cx="1778.9" cy="1221.8" r="17.5" fill="url(#ball1)"/><circle cx="1541.0" cy="1144.9" r="17.5" fill="url(#ball3)"/><circle cx="1561.9" cy="1242.3" r="17.5" fill="url(#ball2)"/><circle cx="1545.7" cy="1193.8" r="17.5" fill="url(#ball2)"/><circle cx="1560.4" cy="1119.2" r="17.5" fill="url(#ball3)"/><circle cx="1688.4" cy="1287.4" r="17.5" fill="url(#ball1)"/><circle cx="1590.8" cy="1259.0" r="17.5" fill="url(#ball2)"/><circle cx="1730.6" cy="1260.1" r="17.5" fill="url(#ball1)"/><circle cx="1584.5" cy="1097.8" r="17.5" fill="url(#ball3)"/><circle cx="1655.0" cy="1281.9" r="17.5" fill="url(#ball1)"/><circle cx="1622.2" cy="1272.3" r="17.5" fill="url(#ball1)"/><circle cx="1612.6" cy="1081.1" r="17.5" fill="url(#ball3)"/><circle cx="1763.9" cy="1193.7" r="17.5" fill="url(#ball1)"/><circle cx="1561.8" cy="1167.8" r="17.5" fill="url(#ball3)"/><circle cx="1748.7" cy="1228.2" r="17.5" fill="url(#ball1)"/><circle cx="1570.9" cy="1213.9" r="17.5" fill="url(#ball2)"/><circle cx="1697.6" cy="1259.3" r="17.5" fill="url(#ball1)"/><circle cx="1580.4" cy="1141.9" r="17.5" fill="url(#ball3)"/><circle cx="1599.7" cy="1231.0" r="17.5" fill="url(#ball2)"/><circle cx="1664.1" cy="1254.1" r="17.5" fill="url(#ball1)"/><circle cx="1604.6" cy="1120.1" r="17.5" fill="url(#ball3)"/><circle cx="1631.1" cy="1244.6" r="17.5" fill="url(#ball2)"/><circle cx="1716.1" cy="1229.7" r="17.5" fill="url(#ball1)"/><circle cx="1587.4" cy="1188.0" r="17.5" fill="url(#ball3)"/><circle cx="1732.9" cy="1197.7" r="17.5" fill="url(#ball1)"/><circle cx="1605.6" cy="1161.8" r="17.5" fill="url(#ball3)"/><circle cx="1682.4" cy="1226.2" r="17.5" fill="url(#ball2)"/><circle cx="1616.7" cy="1204.9" r="17.5" fill="url(#ball2)"/><circle cx="1648.8" cy="1217.8" r="17.5" fill="url(#ball2)"/><circle cx="1700.1" cy="1196.4" r="17.5" fill="url(#ball2)"/></g>
<line x1="1403.0" y1="1564.2" x2="1418.0" y2="1564.2" stroke="#000" stroke-width="4"/>
<line x1="1403.0" y1="1489.6" x2="1411.0" y2="1489.6" stroke="#000" stroke-width="4"/>
<line x1="1403.0" y1="1415.0" x2="1418.0" y2="1415.0" stroke="#000" stroke-width="4"/>
<line x1="1403.0" y1="1340.4" x2="1411.0" y2="1340.4" stroke="#000" stroke-width="4"/>
<line x1="1403.0" y1="1265.8" x2="1418.0" y2="1265.8" stroke="#000" stroke-width="4"/>
<line x1="1403.0" y1="1191.2" x2="1411.0" y2="1191.2" stroke="#000" stroke-width="4"/>
<line x1="1403.0" y1="1116.6" x2="1418.0" y2="1116.6" stroke="#000" stroke-width="4"/>
<line x1="1403.0" y1="1042.0" x2="1411.0" y2="1042.0" stroke="#000" stroke-width="4"/>
<line x1="1403.0" y1="967.4" x2="1418.0" y2="967.4" stroke="#000" stroke-width="4"/>
<line x1="1475.3" y1="1640.5" x2="1475.3" y2="1632.5" stroke="#000" stroke-width="4"/>
<line x1="1547.2" y1="1640.5" x2="1547.2" y2="1626.5" stroke="#000" stroke-width="4"/>
<line x1="1619.2" y1="1640.5" x2="1619.2" y2="1632.5" stroke="#000" stroke-width="4"/>
<line x1="1691.2" y1="1640.5" x2="1691.2" y2="1626.5" stroke="#000" stroke-width="4"/>
<line x1="1763.1" y1="1640.5" x2="1763.1" y2="1632.5" stroke="#000" stroke-width="4"/>
<line x1="1835.1" y1="1640.5" x2="1835.1" y2="1626.5" stroke="#000" stroke-width="4"/>
<line x1="1907.0" y1="1640.5" x2="1907.0" y2="1632.5" stroke="#000" stroke-width="4"/>
<line x1="1979.0" y1="1640.5" x2="1979.0" y2="1626.5" stroke="#000" stroke-width="4"/>
<line x1="2051.0" y1="1640.5" x2="2051.0" y2="1632.5" stroke="#000" stroke-width="4"/>
<line x1="2122.9" y1="1640.5" x2="2122.9" y2="1626.5" stroke="#000" stroke-width="4"/>
<line x1="2194.9" y1="1640.5" x2="2194.9" y2="1632.5" stroke="#000" stroke-width="4"/>
<line x1="2266.8" y1="1640.5" x2="2266.8" y2="1626.5" stroke="#000" stroke-width="4"/>
<line x1="2338.8" y1="1640.5" x2="2338.8" y2="1632.5" stroke="#000" stroke-width="4"/>
<rect x="1403" y="923" width="983" height="717.5" fill="none" stroke="#000" stroke-width="5"/>
<text x="1305.5" y="1578.6" font-family='"Liberation Sans", Arial, sans-serif' font-weight="bold" font-size="48.0" fill="#000" >100</text>
<text x="1305.5" y="1429.4" font-family='"Liberation Sans", Arial, sans-serif' font-weight="bold" font-size="48.0" fill="#000" >200</text>
<text x="1305.5" y="1280.2" font-family='"Liberation Sans", Arial, sans-serif' font-weight="bold" font-size="48.0" fill="#000" >300</text>
<text x="1305.5" y="1131.0" font-family='"Liberation Sans", Arial, sans-serif' font-weight="bold" font-size="48.0" fill="#000" >400</text>
<text x="1305.5" y="981.8" font-family='"Liberation Sans", Arial, sans-serif' font-weight="bold" font-size="48.0" fill="#000" >500</text>
<text x="1389.9" y="1693.8" font-family='"Liberation Sans", Arial, sans-serif' font-weight="bold" font-size="48.0" fill="#000" >0</text>
<text x="1507.3" y="1693.8" font-family='"Liberation Sans", Arial, sans-serif' font-weight="bold" font-size="48.0" fill="#000" >250</text>
<text x="1651.3" y="1693.8" font-family='"Liberation Sans", Arial, sans-serif' font-weight="bold" font-size="48.0" fill="#000" >500</text>
<text x="1794.9" y="1693.8" font-family='"Liberation Sans", Arial, sans-serif' font-weight="bold" font-size="48.0" fill="#000" >750</text>
<text x="1925.0" y="1693.8" font-family='"Liberation Sans", Arial, sans-serif' font-weight="bold" font-size="48.0" fill="#000" >1000</text>
<text x="2068.9" y="1693.8" font-family='"Liberation Sans", Arial, sans-serif' font-weight="bold" font-size="48.0" fill="#000" >1250</text>
<text x="2212.8" y="1693.8" font-family='"Liberation Sans", Arial, sans-serif' font-weight="bold" font-size="48.0" fill="#000" >1500</text>
<text x="1803.0" y="1775.5" font-family='"Liberation Sans", Arial, sans-serif' font-weight="bold" font-size="48.0" fill="#000" textLength="184.4" lengthAdjust="spacingAndGlyphs" >Time (s)</text>
<text transform="translate(1265.0,1513.0) rotate(-90)" x="-3.3" y="0" font-family='"Liberation Sans", Arial, sans-serif' font-weight="bold" font-size="49.0" fill="#000" textLength="392.8" lengthAdjust="spacingAndGlyphs">Resistance (MΩ)</text>
<text x="1434.1" y="1504.6" font-family='"Liberation Sans", Arial, sans-serif' font-weight="bold" font-size="44.4" fill="#000" textLength="134.8" lengthAdjust="spacingAndGlyphs" >10ppb</text>
<text x="1595.0" y="1436.4" font-family='"Liberation Sans", Arial, sans-serif' font-weight="bold" font-size="44.0" fill="#000" textLength="142.5" lengthAdjust="spacingAndGlyphs" >50ppb</text>
<text x="1761.6" y="1404.8" font-family='"Liberation Sans", Arial, sans-serif' font-weight="bold" font-size="45.3" fill="#000" textLength="168.7" lengthAdjust="spacingAndGlyphs" >100ppb</text>
<text x="1913.5" y="1295.0" font-family='"Liberation Sans", Arial, sans-serif' font-weight="bold" font-size="46.7" fill="#000" textLength="185.7" lengthAdjust="spacingAndGlyphs" >500 ppb</text>
<text x="2148.1" y="979.5" font-family='"Liberation Sans", Arial, sans-serif' font-weight="bold" font-size="48.0" fill="#000" textLength="213.0" lengthAdjust="spacingAndGlyphs" >1000 ppb</text>
<path d="M1403.3,1565.4 C1406.2,1565.4 1423.4,1567.1 1428.0,1565.4 C1432.6,1563.7 1438.5,1555.4 1442.9,1550.6 C1447.3,1545.8 1460.6,1527.5 1466.0,1524.2 C1471.4,1520.9 1483.4,1521.9 1489.0,1522.5 C1494.6,1523.1 1508.7,1525.8 1513.7,1529.1 C1518.7,1532.4 1528.2,1546.6 1531.9,1550.6 C1535.6,1554.6 1540.0,1562.1 1545.0,1563.8 C1550.0,1565.5 1570.1,1566.6 1574.7,1565.4 C1579.3,1564.2 1581.1,1559.1 1584.6,1553.9 C1588.1,1548.7 1600.6,1527.4 1604.4,1520.9 C1608.2,1514.4 1614.5,1502.0 1617.6,1497.8 C1620.7,1493.6 1626.6,1488.8 1630.8,1484.6 C1635.0,1480.4 1650.1,1464.4 1653.9,1461.5 C1657.8,1458.6 1659.6,1459.3 1663.8,1459.9 C1668.0,1460.5 1685.1,1463.0 1690.1,1466.5 C1695.1,1470.0 1703.1,1483.6 1706.6,1489.6 C1710.1,1495.6 1717.7,1511.6 1719.8,1517.6 C1721.9,1523.6 1723.3,1535.3 1724.8,1540.7 C1726.3,1546.1 1728.6,1560.9 1733.0,1563.8 C1737.4,1566.7 1758.5,1566.9 1762.7,1565.4 C1766.9,1563.9 1766.4,1558.9 1769.3,1550.6 C1772.2,1542.3 1783.4,1506.4 1787.4,1494.5 C1791.4,1482.6 1800.6,1454.9 1803.9,1448.4 C1807.2,1441.9 1811.4,1440.4 1815.4,1438.5 C1819.4,1436.6 1833.9,1432.5 1838.5,1431.9 C1843.1,1431.3 1851.5,1428.9 1855.0,1433.5 C1858.5,1438.1 1865.5,1464.8 1868.2,1471.5 C1870.9,1478.2 1875.4,1485.8 1878.1,1491.2 C1880.8,1496.6 1887.8,1511.6 1891.3,1517.6 C1894.8,1523.6 1903.5,1537.7 1907.7,1542.3 C1911.9,1546.9 1923.7,1554.4 1927.5,1557.2 C1931.3,1560.0 1937.5,1567.2 1940.5,1566.4 C1943.5,1565.6 1951.2,1558.3 1953.5,1550.0 C1955.8,1541.7 1958.3,1504.8 1960.0,1495.0 C1961.7,1485.2 1965.5,1472.6 1968.1,1465.8 C1970.7,1459.0 1979.3,1450.2 1982.7,1436.6 C1986.1,1423.0 1994.3,1361.9 1997.3,1349.0 C2000.3,1336.1 2005.4,1330.0 2008.6,1326.4 C2011.8,1322.8 2020.1,1317.5 2024.8,1318.3 C2029.5,1319.1 2044.8,1326.3 2049.2,1332.9 C2053.6,1339.5 2059.1,1363.6 2062.1,1375.0 C2065.1,1386.4 2071.3,1418.8 2075.1,1430.2 C2078.9,1441.6 2090.1,1460.6 2094.6,1472.3 C2099.1,1484.0 2108.7,1519.7 2114.0,1530.7 C2119.3,1541.7 2135.5,1563.8 2140.0,1566.4 C2144.5,1569.0 2150.6,1562.9 2152.9,1553.4 C2155.2,1543.9 2157.9,1498.9 2159.4,1485.3 C2160.9,1471.7 2163.8,1446.1 2165.9,1436.6 C2168.0,1427.1 2175.1,1418.2 2177.2,1404.2 C2179.3,1390.2 2182.0,1345.8 2183.7,1316.7 C2185.4,1287.6 2189.7,1183.0 2191.8,1154.6 C2193.9,1126.2 2198.8,1090.1 2201.6,1073.5 C2204.4,1056.9 2213.5,1019.8 2216.1,1011.9 C2218.7,1004.0 2221.7,1006.7 2224.3,1005.4 C2226.9,1004.1 2235.0,999.7 2238.8,1000.5 C2242.6,1001.3 2253.3,1006.0 2256.7,1011.9 C2260.1,1017.8 2266.1,1039.8 2268.0,1050.8 C2269.9,1061.8 2271.4,1090.0 2272.9,1105.9 C2274.4,1121.8 2278.7,1168.1 2281.0,1187.0 C2283.3,1205.9 2289.9,1249.1 2292.4,1268.0 C2294.9,1286.9 2299.8,1333.5 2302.1,1349.0 C2304.4,1364.5 2309.5,1387.4 2311.8,1401.0 C2314.1,1414.6 2318.7,1453.7 2321.5,1465.8 C2324.3,1477.9 2332.3,1497.1 2336.1,1504.7 C2339.9,1512.3 2350.4,1524.6 2354.0,1530.7 C2357.6,1536.8 2363.9,1552.4 2366.9,1556.6 C2369.9,1560.8 2377.7,1565.3 2379.9,1566.4 C2382.1,1567.5 2385.3,1566.4 2386.0,1566.4" fill="none" stroke="#000" stroke-width="4.6" stroke-linejoin="round"/>
<line x1="1935" y1="978" x2="1871.3" y2="1002.5" stroke="#4b9fdc" stroke-width="4.2"/>
<polygon points="1856.4,1008.2 1868.8,995.9 1873.8,1009.0" fill="#4b9fdc"/>
<line x1="1948.2" y1="1021.4" x2="1886.1" y2="1045.7" stroke="#4b9fdc" stroke-width="4.2"/>
<polygon points="1871.2,1051.5 1883.6,1039.2 1888.7,1052.2" fill="#4b9fdc"/>
<line x1="1966.3" y1="1065.6" x2="1904.0" y2="1090.8" stroke="#4b9fdc" stroke-width="4.2"/>
<polygon points="1889.2,1096.8 1901.4,1084.3 1906.7,1097.3" fill="#4b9fdc"/>
<line x1="1986" y1="1016.4" x2="2031.9" y2="1059" stroke="#c5c8d2" stroke-width="11"/>
<line x1="2031.9" y1="1059" x2="2092.5" y2="1046" stroke="#c5c8d2" stroke-width="11"/>
<circle cx="1986" cy="1016.4" r="16.5" fill="url(#ored)"/>
<circle cx="2092.5" cy="1046" r="16.5" fill="url(#ored)"/>
<circle cx="2031.9" cy="1059" r="17" fill="url(#nblue)"/>
<text x="1980.5" y="995.0" font-family='"Liberation Sans", Arial, sans-serif' font-weight="normal" font-size="61.5" fill="#222" textLength="99.6" lengthAdjust="spacingAndGlyphs" >NO</text>
<text x="2075.9" y="1010.0" font-family='"Liberation Sans", Arial, sans-serif' font-weight="normal" font-size="33.0" fill="#222" textLength="23.7" lengthAdjust="spacingAndGlyphs" >2</text>
<text x="22.8" y="1882.0" font-family='"Liberation Serif", "Times New Roman", serif' font-weight="bold" font-size="103.0" fill="#000" textLength="51.5" lengthAdjust="spacingAndGlyphs" >e</text>
<line x1="100" y1="1830" x2="100" y2="1873" stroke="#9a9a9a" stroke-width="1.6"/>
<line x1="222.5" y1="2512.4" x2="237.5" y2="2512.4" stroke="#000" stroke-width="4"/>
<line x1="222.5" y1="2465.0" x2="230.5" y2="2465.0" stroke="#000" stroke-width="4"/>
<line x1="222.5" y1="2417.6" x2="237.5" y2="2417.6" stroke="#000" stroke-width="4"/>
<line x1="222.5" y1="2370.1" x2="230.5" y2="2370.1" stroke="#000" stroke-width="4"/>
<line x1="222.5" y1="2322.7" x2="237.5" y2="2322.7" stroke="#000" stroke-width="4"/>
<line x1="222.5" y1="2275.3" x2="230.5" y2="2275.3" stroke="#000" stroke-width="4"/>
<line x1="222.5" y1="2227.9" x2="237.5" y2="2227.9" stroke="#000" stroke-width="4"/>
<line x1="222.5" y1="2180.4" x2="230.5" y2="2180.4" stroke="#000" stroke-width="4"/>
<line x1="222.5" y1="2133.0" x2="237.5" y2="2133.0" stroke="#000" stroke-width="4"/>
<line x1="222.5" y1="2085.6" x2="230.5" y2="2085.6" stroke="#000" stroke-width="4"/>
<line x1="222.5" y1="2038.2" x2="237.5" y2="2038.2" stroke="#000" stroke-width="4"/>
<line x1="222.5" y1="1990.7" x2="230.5" y2="1990.7" stroke="#000" stroke-width="4"/>
<line x1="222.5" y1="1943.3" x2="237.5" y2="1943.3" stroke="#000" stroke-width="4"/>
<line x1="222.5" y1="1895.9" x2="230.5" y2="1895.9" stroke="#000" stroke-width="4"/>
<line x1="275.1" y1="2551.0" x2="275.1" y2="2543.0" stroke="#000" stroke-width="4"/>
<line x1="328.3" y1="2551.0" x2="328.3" y2="2536.0" stroke="#000" stroke-width="4"/>
<line x1="381.4" y1="2551.0" x2="381.4" y2="2543.0" stroke="#000" stroke-width="4"/>
<line x1="434.6" y1="2551.0" x2="434.6" y2="2536.0" stroke="#000" stroke-width="4"/>
<line x1="487.7" y1="2551.0" x2="487.7" y2="2543.0" stroke="#000" stroke-width="4"/>
<line x1="540.8" y1="2551.0" x2="540.8" y2="2536.0" stroke="#000" stroke-width="4"/>
<line x1="594.0" y1="2551.0" x2="594.0" y2="2543.0" stroke="#000" stroke-width="4"/>
<line x1="647.1" y1="2551.0" x2="647.1" y2="2536.0" stroke="#000" stroke-width="4"/>
<line x1="700.3" y1="2551.0" x2="700.3" y2="2543.0" stroke="#000" stroke-width="4"/>
<line x1="753.4" y1="2551.0" x2="753.4" y2="2536.0" stroke="#000" stroke-width="4"/>
<line x1="806.5" y1="2551.0" x2="806.5" y2="2543.0" stroke="#000" stroke-width="4"/>
<line x1="859.7" y1="2551.0" x2="859.7" y2="2536.0" stroke="#000" stroke-width="4"/>
<line x1="912.8" y1="2551.0" x2="912.8" y2="2543.0" stroke="#000" stroke-width="4"/>
<line x1="966.0" y1="2551.0" x2="966.0" y2="2536.0" stroke="#000" stroke-width="4"/>
<line x1="1019.1" y1="2551.0" x2="1019.1" y2="2543.0" stroke="#000" stroke-width="4"/>
<line x1="1072.2" y1="2551.0" x2="1072.2" y2="2536.0" stroke="#000" stroke-width="4"/>
<line x1="1125.4" y1="2551.0" x2="1125.4" y2="2543.0" stroke="#000" stroke-width="4"/>
<rect x="222.5" y="1850" width="956.5" height="701" fill="none" stroke="#000" stroke-width="5.5"/>
<text x="123.8" y="2525.9" font-family='"Liberation Sans", Arial, sans-serif' font-weight="bold" font-size="49.0" fill="#000" >100</text>
<text x="123.2" y="2431.1" font-family='"Liberation Sans", Arial, sans-serif' font-weight="bold" font-size="49.0" fill="#000" >105</text>
<text x="126.6" y="2336.2" font-family='"Liberation Sans", Arial, sans-serif' font-weight="bold" font-size="49.0" fill="#000" >110</text>
<text x="126.0" y="2241.4" font-family='"Liberation Sans", Arial, sans-serif' font-weight="bold" font-size="49.0" fill="#000" >115</text>
<text x="123.8" y="2146.5" font-family='"Liberation Sans", Arial, sans-serif' font-weight="bold" font-size="49.0" fill="#000" >120</text>
<text x="123.2" y="2051.7" font-family='"Liberation Sans", Arial, sans-serif' font-weight="bold" font-size="49.0" fill="#000" >125</text>
<text x="123.8" y="1956.8" font-family='"Liberation Sans", Arial, sans-serif' font-weight="bold" font-size="49.0" fill="#000" >130</text>
<text x="123.2" y="1862.0" font-family='"Liberation Sans", Arial, sans-serif' font-weight="bold" font-size="49.0" fill="#000" >135</text>
<text x="208.4" y="2603.0" font-family='"Liberation Sans", Arial, sans-serif' font-weight="bold" font-size="49.0" fill="#000" >0</text>
<text x="301.7" y="2603.0" font-family='"Liberation Sans", Arial, sans-serif' font-weight="bold" font-size="49.0" fill="#000" >40</text>
<text x="407.5" y="2603.0" font-family='"Liberation Sans", Arial, sans-serif' font-weight="bold" font-size="49.0" fill="#000" >80</text>
<text x="499.4" y="2603.0" font-family='"Liberation Sans", Arial, sans-serif' font-weight="bold" font-size="49.0" fill="#000" >120</text>
<text x="605.6" y="2603.0" font-family='"Liberation Sans", Arial, sans-serif' font-weight="bold" font-size="49.0" fill="#000" >160</text>
<text x="712.6" y="2603.0" font-family='"Liberation Sans", Arial, sans-serif' font-weight="bold" font-size="49.0" fill="#000" >200</text>
<text x="818.9" y="2603.0" font-family='"Liberation Sans", Arial, sans-serif' font-weight="bold" font-size="49.0" fill="#000" >240</text>
<text x="925.2" y="2603.0" font-family='"Liberation Sans", Arial, sans-serif' font-weight="bold" font-size="49.0" fill="#000" >280</text>
<text x="1031.7" y="2603.0" font-family='"Liberation Sans", Arial, sans-serif' font-weight="bold" font-size="49.0" fill="#000" >320</text>
<text x="1138.0" y="2603.0" font-family='"Liberation Sans", Arial, sans-serif' font-weight="bold" font-size="49.0" fill="#000" >360</text>
<text x="609.2" y="2685.0" font-family='"Liberation Sans", Arial, sans-serif' font-weight="bold" font-size="48.0" fill="#000" textLength="184.2" lengthAdjust="spacingAndGlyphs" >Time (s)</text>
<text transform="translate(88.2,2418.4) rotate(-90)" x="-3.2" y="0" font-family='"Liberation Sans", Arial, sans-serif' font-weight="bold" font-size="49.0" fill="#000" textLength="375.7" lengthAdjust="spacingAndGlyphs">Resistance (MΩ)</text>
<text x="411.2" y="1978.6" font-family='"Liberation Sans", Arial, sans-serif' font-weight="normal" font-size="49.0" fill="#000" textLength="92.8" lengthAdjust="spacingAndGlyphs" stroke="#000" stroke-width="1.1">52 s</text>
<text x="899.0" y="1978.6" font-family='"Liberation Sans", Arial, sans-serif' font-weight="normal" font-size="49.0" fill="#000" textLength="95.1" lengthAdjust="spacingAndGlyphs" stroke="#000" stroke-width="1.1">73 s</text>
<line x1="393.2" y1="1927.7" x2="393.2" y2="2529.5" stroke="#000" stroke-width="5" stroke-dasharray="23 19.5 2 19.5" stroke-linecap="round"/>
<line x1="521.8" y1="1916.2" x2="521.8" y2="2516" stroke="#000" stroke-width="5" stroke-dasharray="23 19.5 2 19.5" stroke-linecap="round"/>
<line x1="857" y1="1918.5" x2="857" y2="2512.4" stroke="#000" stroke-width="5" stroke-dasharray="23 19.5 2 19.5" stroke-linecap="round"/>
<line x1="1039.8" y1="1918.5" x2="1039.8" y2="2519.3" stroke="#000" stroke-width="5" stroke-dasharray="23 19.5 2 19.5" stroke-linecap="round"/>
<line x1="415" y1="2007" x2="499" y2="2007" stroke="#000" stroke-width="3.5"/>
<polygon points="395,2007 425,1997 420,2007 425,2017" fill="#000"/>
<polygon points="519,2007 489,1997 494,2007 489,2017" fill="#000"/>
<line x1="879" y1="2007" x2="1017" y2="2007" stroke="#000" stroke-width="3.5"/>
<polygon points="859,2007 889,1997 884,2007 889,2017" fill="#000"/>
<polygon points="1037,2007 1007,1997 1012,2007 1007,2017" fill="#000"/>
<path d="M222.0,2513.5 L224.5,2514.5 L227.0,2514.4 L229.5,2513.1 L232.0,2513.3 L234.5,2513.1 L237.0,2513.9 L239.5,2513.4 L242.0,2514.0 L244.5,2512.1 L247.0,2514.4 L249.5,2513.2 L252.0,2513.7 L254.5,2513.1 L257.0,2512.8 L259.5,2513.3 L262.0,2513.4 L264.5,2512.5 L267.0,2512.4 L269.5,2512.7 L272.0,2511.4 L274.5,2510.8 L277.0,2512.0 L279.5,2511.2 L282.0,2510.4 L284.5,2511.3 L287.0,2511.6 L289.5,2511.4 L292.0,2511.7 L294.5,2513.6 L297.0,2515.3 L299.5,2515.9 L302.0,2516.7 L304.5,2518.2 L307.0,2518.7 L309.5,2517.9 L312.0,2517.9 L314.5,2517.5 L317.0,2516.0 L319.5,2515.1 L322.0,2515.6 L324.5,2515.4 L327.0,2515.9 L329.5,2514.1 L332.0,2514.5 L334.5,2514.3 L337.0,2513.7 L339.5,2515.0 L342.0,2515.3 L344.5,2514.4 L347.0,2516.1 L349.5,2516.2 L352.0,2516.8 L354.5,2517.2 L357.0,2518.0 L359.5,2516.5 L362.0,2517.6 L364.5,2516.9 L367.0,2514.6 L369.5,2515.5 L372.0,2514.7 L374.5,2515.1 L377.0,2514.0 L379.5,2514.2 L382.0,2513.7 L384.5,2510.3 L387.0,2507.0 L389.5,2500.8 L392.0,2494.4 L394.5,2486.3 L397.0,2480.7 L399.5,2474.5 L402.0,2468.6 L404.5,2464.3 L407.0,2460.2 L409.5,2456.5 L412.0,2449.0 L414.5,2444.1 L417.0,2435.6 L419.5,2425.8 L422.0,2414.7 L424.5,2405.6 L427.0,2394.2 L429.5,2386.9 L432.0,2379.1 L434.5,2368.2 L437.0,2359.5 L439.5,2347.9 L442.0,2336.8 L444.5,2325.8 L447.0,2315.9 L449.5,2304.5 L452.0,2298.3 L454.5,2293.5 L457.0,2286.9 L459.5,2276.9 L462.0,2265.4 L464.5,2255.1 L467.0,2243.6 L469.5,2233.8 L472.0,2225.2 L474.5,2218.8 L477.0,2211.6 L479.5,2203.6 L482.0,2195.3 L484.5,2185.7 L487.0,2176.9 L489.5,2168.3 L492.0,2158.1 L494.5,2148.7 L497.0,2142.8 L499.5,2135.0 L502.0,2129.3 L504.5,2121.3 L507.0,2114.5 L509.5,2107.5 L512.0,2103.2 L514.5,2097.7 L517.0,2086.9 L519.5,2076.5 L522.0,2065.4 L524.5,2052.4 L527.0,2040.9 L529.5,2031.0 L532.0,2023.5 L534.5,2017.8 L537.0,2011.1 L539.5,2006.0 L542.0,1999.7 L544.5,1995.2 L547.0,1989.3 L549.5,1986.3 L552.0,1985.2 L554.5,1982.3 L557.0,1981.9 L559.5,1980.7 L562.0,1980.8 L564.5,1979.1 L567.0,1978.4 L569.5,1976.2 L572.0,1974.6 L574.5,1973.8 L577.0,1973.3 L579.5,1971.8 L582.0,1972.0 L584.5,1972.2 L587.0,1972.6 L589.5,1972.1 L592.0,1970.6 L594.5,1973.4 L597.0,1974.3 L599.5,1975.8 L602.0,1975.6 L604.5,1974.6 L607.0,1974.5 L609.5,1977.3 L612.0,1975.0 L614.5,1975.1 L617.0,1979.0 L619.5,1966.8 L622.0,1969.9 L624.5,1969.4 L627.0,1969.6 L629.5,1969.9 L632.0,1969.6 L634.5,1969.8 L637.0,1963.4 L639.5,1967.2 L642.0,1963.6 L644.5,1965.1 L647.0,1961.9 L649.5,1965.3 L652.0,1966.2 L654.5,1964.9 L657.0,1964.9 L659.5,1963.2 L662.0,1959.7 L664.5,1958.5 L667.0,1954.8 L669.5,1955.9 L672.0,1953.0 L674.5,1954.1 L677.0,1946.8 L679.5,1954.4 L682.0,1948.1 L684.5,1948.0 L687.0,1949.8 L689.5,1948.5 L692.0,1951.5 L694.5,1948.4 L697.0,1946.7 L699.5,1948.0 L702.0,1956.7 L704.5,1953.4 L707.0,1950.7 L709.5,1956.8 L712.0,1952.9 L714.5,1966.5 L717.0,1956.1 L719.5,1964.8 L722.0,1966.1 L724.5,1959.6 L727.0,1966.1 L729.5,1968.5 L732.0,1966.1 L734.5,1964.8 L737.0,1966.7 L739.5,1963.6 L742.0,1964.2 L744.5,1962.9 L747.0,1966.4 L749.5,1961.6 L752.0,1968.6 L754.5,1964.6 L757.0,1962.9 L759.5,1968.4 L762.0,1969.3 L764.5,1968.6 L767.0,1967.0 L769.5,1968.7 L772.0,1967.5 L774.5,1967.9 L777.0,1968.2 L779.5,1965.3 L782.0,1968.3 L784.5,1966.7 L787.0,1967.0 L789.5,1966.0 L792.0,1965.9 L794.5,1966.4 L797.0,1968.5 L799.5,1969.4 L802.0,1967.3 L804.5,1968.5 L807.0,1966.8 L809.5,1965.1 L812.0,1968.2 L814.5,1969.6 L817.0,1970.0 L819.5,1972.7 L822.0,1975.0 L824.5,1975.3 L827.0,1976.6 L829.5,1980.2 L832.0,1982.1 L834.5,1983.4 L837.0,1986.2 L839.5,1987.9 L842.0,1985.7 L844.5,1987.4 L847.0,1988.0 L849.5,1988.1 L852.0,1989.2 L854.5,1988.4 L857.0,1990.9 L859.5,1993.9 L862.0,1993.7 L864.5,1994.4 L867.0,1996.9 L869.5,1999.1 L872.0,2000.1 L874.5,2001.1 L877.0,2004.3 L879.5,2004.0 L882.0,2007.0 L884.5,2008.3 L887.0,2009.3 L889.5,2012.8 L892.0,2013.9 L894.5,2014.6 L897.0,2017.7 L899.5,2018.7 L902.0,2019.5 L904.5,2022.1 L907.0,2024.5 L909.5,2026.7 L912.0,2028.5 L914.5,2030.8 L917.0,2033.7 L919.5,2036.2 L922.0,2040.3 L924.5,2042.7 L927.0,2045.9 L929.5,2050.3 L932.0,2054.6 L934.5,2061.6 L937.0,2071.1 L939.5,2079.5 L942.0,2088.4 L944.5,2098.2 L947.0,2106.5 L949.5,2115.1 L952.0,2121.7 L954.5,2128.7 L957.0,2133.8 L959.5,2143.0 L962.0,2150.0 L964.5,2158.7 L967.0,2170.3 L969.5,2181.3 L972.0,2193.9 L974.5,2206.2 L977.0,2221.6 L979.5,2239.2 L982.0,2251.1 L984.5,2266.4 L987.0,2279.0 L989.5,2291.3 L992.0,2300.6 L994.5,2311.4 L997.0,2322.7 L999.5,2332.4 L1002.0,2343.3 L1004.5,2351.2 L1007.0,2361.2 L1009.5,2371.9 L1012.0,2377.6 L1014.5,2384.8 L1017.0,2391.8 L1019.5,2397.0 L1022.0,2402.3 L1024.5,2406.5 L1027.0,2410.6 L1029.5,2415.6 L1032.0,2421.2 L1034.5,2423.9 L1037.0,2424.1 L1039.5,2428.7 L1042.0,2431.3 L1044.5,2436.2 L1047.0,2440.5 L1049.5,2447.4 L1052.0,2453.5 L1054.5,2461.6 L1057.0,2470.0 L1059.5,2477.8 L1062.0,2484.9 L1064.5,2490.5 L1067.0,2493.0 L1069.5,2493.6 L1072.0,2495.6 L1074.5,2495.6 L1077.0,2496.0 L1079.5,2496.1 L1082.0,2496.8 L1084.5,2497.4 L1087.0,2496.4 L1089.5,2499.7 L1092.0,2499.9 L1094.5,2500.0 L1097.0,2501.6 L1099.5,2501.8 L1102.0,2502.5 L1104.5,2501.3 L1107.0,2503.6 L1109.5,2504.9 L1112.0,2506.3 L1114.5,2506.9 L1117.0,2507.0 L1119.5,2505.5 L1122.0,2504.8 L1124.5,2506.9 L1127.0,2506.6 L1129.5,2507.4 L1132.0,2506.7 L1134.5,2507.3 L1137.0,2506.5 L1139.5,2508.3 L1142.0,2508.1 L1144.5,2509.0 L1147.0,2509.2 L1149.5,2508.8 L1152.0,2509.1 L1154.5,2508.9 L1157.0,2509.5 L1159.5,2509.4 L1162.0,2509.0 L1164.5,2509.3 L1167.0,2511.3 L1169.5,2510.4 L1172.0,2511.4 L1174.5,2511.1" fill="none" stroke="#000" stroke-width="4.6" stroke-linejoin="round"/>
<text x="1250.1" y="1886.5" font-family='"Liberation Serif", "Times New Roman", serif' font-weight="bold" font-size="109.0" fill="#000" textLength="43.5" lengthAdjust="spacingAndGlyphs" >f</text>
<polygon points="1795.6,2141.8 1852.5,2174.7 1852.5,2240.3 1795.6,2273.2 1738.7,2240.3 1738.7,2174.7" fill="none" stroke="#000" stroke-width="3.2" stroke-linejoin="round"/>
<polygon points="1795.6,2076.1 1909.4,2141.8 1909.4,2273.2 1795.6,2338.9 1681.8,2273.2 1681.8,2141.8" fill="none" stroke="#000" stroke-width="3.2" stroke-linejoin="round"/>
<polygon points="1795.6,2010.4 1966.3,2108.9 1966.3,2306.1 1795.6,2404.6 1624.9,2306.1 1624.9,2108.9" fill="none" stroke="#000" stroke-width="3.2" stroke-linejoin="round"/>
<polygon points="1795.6,1944.7 2023.2,2076.1 2023.2,2338.9 1795.6,2470.3 1568.0,2338.9 1568.0,2076.1" fill="none" stroke="#000" stroke-width="3.2" stroke-linejoin="round"/>
<polygon points="1795.6,1879.0 2080.1,2043.2 2080.1,2371.8 1795.6,2536.0 1511.1,2371.8 1511.1,2043.2" fill="none" stroke="#000" stroke-width="3.2" stroke-linejoin="round"/>
<line x1="1795.6" y1="2207.5" x2="1795.6" y2="1879.0" stroke="#000" stroke-width="3.2"/>
<line x1="1795.6" y1="2207.5" x2="2080.1" y2="2043.2" stroke="#000" stroke-width="3.2"/>
<line x1="1795.6" y1="2207.5" x2="2080.1" y2="2371.8" stroke="#000" stroke-width="3.2"/>
<line x1="1795.6" y1="2207.5" x2="1795.6" y2="2536.0" stroke="#000" stroke-width="3.2"/>
<line x1="1795.6" y1="2207.5" x2="1511.1" y2="2371.8" stroke="#000" stroke-width="3.2"/>
<line x1="1795.6" y1="2207.5" x2="1511.1" y2="2043.2" stroke="#000" stroke-width="3.2"/>
<polygon points="1795.6,2128.0 1857.6,2171.7 1957.2,2300.8 1795.6,2359.3 1720.5,2250.9 1524.8,2051.1" fill="none" stroke="#2b2ba0" stroke-width="2.8" stroke-linejoin="round"/>
<circle cx="1795.6" cy="2128.0" r="7" fill="#00008a"/>
<circle cx="1857.6" cy="2171.7" r="7" fill="#00008a"/>
<circle cx="1957.2" cy="2300.8" r="7" fill="#00008a"/>
<circle cx="1795.6" cy="2359.3" r="7" fill="#00008a"/>
<circle cx="1720.5" cy="2250.9" r="7" fill="#00008a"/>
<circle cx="1524.8" cy="2051.1" r="7" fill="#00008a"/>
<text x="1759.0" y="2209.8" font-family='"Liberation Sans", Arial, sans-serif' font-weight="normal" font-size="34.0" fill="#111" >0</text>
<text x="1758.6" y="2147.0" font-family='"Liberation Sans", Arial, sans-serif' font-weight="normal" font-size="34.0" fill="#111" >1</text>
<text x="1759.0" y="2077.3" font-family='"Liberation Sans", Arial, sans-serif' font-weight="normal" font-size="34.0" fill="#111" >2</text>
<text x="1759.2" y="2011.0" font-family='"Liberation Sans", Arial, sans-serif' font-weight="normal" font-size="34.0" fill="#111" >3</text>
<text x="1759.2" y="1944.6" font-family='"Liberation Sans", Arial, sans-serif' font-weight="normal" font-size="34.0" fill="#111" >4</text>
<text x="1759.1" y="1880.0" font-family='"Liberation Sans", Arial, sans-serif' font-weight="normal" font-size="34.0" fill="#111" >5</text>
<text x="1809.9" y="1869.0" font-family='"Liberation Sans", Arial, sans-serif' font-weight="normal" font-size="41.0" fill="#111" textLength="191.2" lengthAdjust="spacingAndGlyphs" stroke="#111" stroke-width="1.3">Hydrogen</text>
<text x="1269.4" y="1985.6" font-family='"Liberation Sans", Arial, sans-serif' font-weight="normal" font-size="41.0" fill="#111" textLength="319.7" lengthAdjust="spacingAndGlyphs" stroke="#111" stroke-width="1.3">Nitrogen Dioxide</text>
<text x="2108.2" y="2071.7" font-family='"Liberation Sans", Arial, sans-serif' font-weight="normal" font-size="41.0" fill="#111" textLength="299.6" lengthAdjust="spacingAndGlyphs" stroke="#111" stroke-width="1.3">Carbon Dioxide</text>
<text x="2077.9" y="2421.0" font-family='"Liberation Sans", Arial, sans-serif' font-weight="normal" font-size="41.0" fill="#111" textLength="159.2" lengthAdjust="spacingAndGlyphs" stroke="#111" stroke-width="1.3">Acetone</text>
<text x="1272.0" y="2461.7" font-family='"Liberation Sans", Arial, sans-serif' font-weight="normal" font-size="41.0" fill="#111" textLength="344.3" lengthAdjust="spacingAndGlyphs" stroke="#111" stroke-width="1.3">Carbon Monoxide</text>
<text x="1702.9" y="2592.3" font-family='"Liberation Sans", Arial, sans-serif' font-weight="normal" font-size="41.0" fill="#111" textLength="181.2" lengthAdjust="spacingAndGlyphs" stroke="#111" stroke-width="1.3">Ammonia</text></svg></body></html>
